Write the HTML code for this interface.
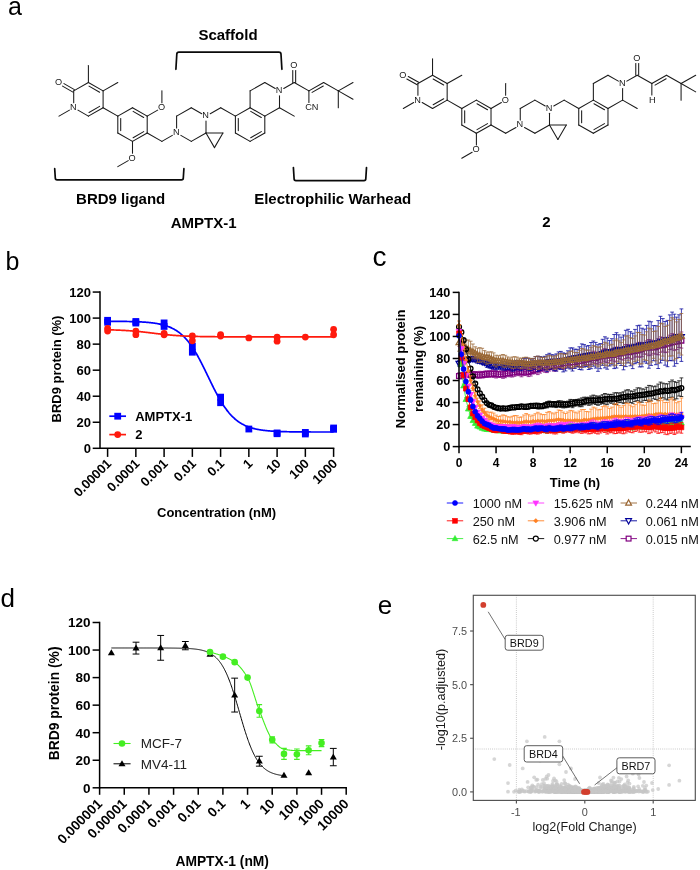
<!DOCTYPE html>
<html><head><meta charset="utf-8"><title>Figure</title>
<style>html,body{margin:0;padding:0;background:#fff;}svg{display:block;will-change:transform;}text{font-family:"Liberation Sans",sans-serif;}</style></head><body>
<svg width="700" height="870" viewBox="0 0 700 870">
<rect x="0" y="0" width="700" height="870" fill="#ffffff"/>
<text x="8.10" y="14.70" font-size="25" text-anchor="start" fill="#000" >a</text>
<g stroke="#1a1a1a" stroke-width="1.05" stroke-linecap="round" fill="none">
<line x1="73.70" y1="90.86" x2="88.40" y2="82.44"/>
<line x1="88.40" y1="82.44" x2="103.10" y2="90.86"/>
<line x1="103.10" y1="90.86" x2="103.10" y2="107.70"/>
<line x1="103.10" y1="107.70" x2="88.40" y2="116.12"/>
<line x1="88.40" y1="116.12" x2="77.95" y2="110.14"/>
<line x1="73.70" y1="102.80" x2="73.70" y2="90.86"/>
<line x1="69.45" y1="110.14" x2="59.00" y2="116.12"/>
<line x1="88.40" y1="82.44" x2="88.40" y2="65.60"/>
<line x1="103.10" y1="90.86" x2="117.80" y2="82.44"/>
<line x1="103.10" y1="107.70" x2="117.80" y2="116.12"/>
<line x1="117.80" y1="116.12" x2="132.50" y2="107.70"/>
<line x1="132.50" y1="107.70" x2="147.20" y2="116.12"/>
<line x1="147.20" y1="116.12" x2="147.20" y2="132.96"/>
<line x1="147.20" y1="132.96" x2="132.50" y2="141.38"/>
<line x1="132.50" y1="141.38" x2="117.80" y2="132.96"/>
<line x1="117.80" y1="132.96" x2="117.80" y2="116.12"/>
<line x1="147.20" y1="116.12" x2="157.65" y2="110.14"/>
<line x1="161.90" y1="102.80" x2="161.90" y2="90.86"/>
<line x1="132.50" y1="141.38" x2="132.50" y2="153.32"/>
<line x1="128.25" y1="160.66" x2="117.80" y2="166.64"/>
<line x1="147.20" y1="132.96" x2="161.90" y2="141.38"/>
<line x1="161.90" y1="141.38" x2="172.35" y2="135.40"/>
<line x1="176.60" y1="128.06" x2="176.60" y2="116.12"/>
<line x1="176.60" y1="116.12" x2="191.30" y2="107.70"/>
<line x1="191.30" y1="107.70" x2="201.75" y2="113.68"/>
<line x1="206.00" y1="121.02" x2="206.00" y2="132.96"/>
<line x1="206.00" y1="132.96" x2="191.30" y2="141.38"/>
<line x1="191.30" y1="141.38" x2="180.85" y2="135.40"/>
<line x1="206.00" y1="132.96" x2="222.94" y2="132.96"/>
<line x1="222.94" y1="132.96" x2="214.47" y2="147.63"/>
<line x1="214.47" y1="147.63" x2="206.00" y2="132.96"/>
<line x1="210.25" y1="113.68" x2="220.70" y2="107.70"/>
<line x1="220.70" y1="107.70" x2="235.40" y2="116.12"/>
<line x1="235.40" y1="116.12" x2="250.10" y2="107.70"/>
<line x1="250.10" y1="107.70" x2="264.80" y2="116.12"/>
<line x1="264.80" y1="116.12" x2="264.80" y2="132.96"/>
<line x1="264.80" y1="132.96" x2="250.10" y2="141.38"/>
<line x1="250.10" y1="141.38" x2="235.40" y2="132.96"/>
<line x1="235.40" y1="132.96" x2="235.40" y2="116.12"/>
<line x1="250.10" y1="107.70" x2="250.10" y2="90.86"/>
<line x1="250.10" y1="90.86" x2="264.80" y2="82.44"/>
<line x1="264.80" y1="82.44" x2="275.25" y2="88.42"/>
<line x1="279.50" y1="95.76" x2="279.50" y2="107.70"/>
<line x1="279.50" y1="107.70" x2="264.80" y2="116.12"/>
<line x1="279.50" y1="107.70" x2="294.20" y2="116.12"/>
<line x1="283.75" y1="88.42" x2="294.20" y2="82.44"/>
<line x1="294.20" y1="82.44" x2="308.90" y2="90.86"/>
<line x1="308.90" y1="90.86" x2="323.60" y2="82.44"/>
<line x1="323.60" y1="82.44" x2="338.30" y2="90.86"/>
<line x1="338.30" y1="90.86" x2="353.00" y2="82.44"/>
<line x1="338.30" y1="90.86" x2="353.00" y2="99.28"/>
<line x1="338.30" y1="90.86" x2="338.30" y2="107.70"/>
<line x1="308.90" y1="90.86" x2="308.90" y2="102.50"/>
<line x1="89.02" y1="86.14" x2="99.60" y2="92.20"/>
<line x1="99.60" y1="106.36" x2="89.02" y2="112.42"/>
<line x1="133.12" y1="111.40" x2="143.70" y2="117.46"/>
<line x1="143.70" y1="131.62" x2="133.12" y2="137.68"/>
<line x1="120.70" y1="130.60" x2="120.70" y2="118.48"/>
<line x1="250.72" y1="111.40" x2="261.30" y2="117.46"/>
<line x1="261.30" y1="131.62" x2="250.72" y2="137.68"/>
<line x1="238.30" y1="130.60" x2="238.30" y2="118.48"/>
<line x1="312.11" y1="92.37" x2="323.28" y2="85.97"/>
<line x1="74.42" y1="89.60" x2="63.97" y2="83.62"/>
<line x1="72.98" y1="92.12" x2="62.53" y2="86.13"/>
<line x1="295.65" y1="82.44" x2="295.65" y2="70.50"/>
<line x1="292.75" y1="82.44" x2="292.75" y2="70.50"/>
</g>
<text x="58.60" y="84.79" font-size="9.2" text-anchor="middle" fill="#1a1a1a" >O</text>
<text x="73.30" y="110.05" font-size="9.2" text-anchor="middle" fill="#1a1a1a" >N</text>
<text x="161.50" y="110.05" font-size="9.2" text-anchor="middle" fill="#1a1a1a" >O</text>
<text x="132.10" y="160.57" font-size="9.2" text-anchor="middle" fill="#1a1a1a" >O</text>
<text x="176.20" y="135.31" font-size="9.2" text-anchor="middle" fill="#1a1a1a" >N</text>
<text x="205.60" y="118.47" font-size="9.2" text-anchor="middle" fill="#1a1a1a" >N</text>
<text x="279.10" y="93.21" font-size="9.2" text-anchor="middle" fill="#1a1a1a" >N</text>
<text x="293.80" y="67.95" font-size="9.2" text-anchor="middle" fill="#1a1a1a" >O</text>
<text x="311.70" y="110.30" font-size="9.2" text-anchor="middle" fill="#1a1a1a" letter-spacing="-0.2">CN</text>
<g stroke="#1a1a1a" stroke-width="1.05" stroke-linecap="round" fill="none">
<line x1="417.92" y1="83.57" x2="432.54" y2="75.28"/>
<line x1="432.54" y1="75.28" x2="447.16" y2="83.57"/>
<line x1="447.16" y1="83.57" x2="447.16" y2="100.15"/>
<line x1="447.16" y1="100.15" x2="432.54" y2="108.44"/>
<line x1="432.54" y1="108.44" x2="422.18" y2="102.57"/>
<line x1="417.92" y1="95.25" x2="417.92" y2="83.57"/>
<line x1="413.66" y1="102.57" x2="403.30" y2="108.44"/>
<line x1="432.54" y1="75.28" x2="432.54" y2="58.70"/>
<line x1="447.16" y1="83.57" x2="461.78" y2="75.28"/>
<line x1="447.16" y1="100.15" x2="461.78" y2="108.44"/>
<line x1="461.78" y1="108.44" x2="476.40" y2="100.15"/>
<line x1="476.40" y1="100.15" x2="491.02" y2="108.44"/>
<line x1="491.02" y1="108.44" x2="491.02" y2="125.02"/>
<line x1="491.02" y1="125.02" x2="476.40" y2="133.31"/>
<line x1="476.40" y1="133.31" x2="461.78" y2="125.02"/>
<line x1="461.78" y1="125.02" x2="461.78" y2="108.44"/>
<line x1="491.02" y1="108.44" x2="501.38" y2="102.57"/>
<line x1="505.64" y1="95.25" x2="505.64" y2="83.57"/>
<line x1="476.40" y1="133.31" x2="476.40" y2="144.99"/>
<line x1="472.14" y1="152.31" x2="461.78" y2="158.18"/>
<line x1="491.02" y1="125.02" x2="505.64" y2="133.31"/>
<line x1="505.64" y1="133.31" x2="516.00" y2="127.44"/>
<line x1="520.26" y1="120.12" x2="520.26" y2="108.44"/>
<line x1="520.26" y1="108.44" x2="534.88" y2="100.15"/>
<line x1="534.88" y1="100.15" x2="545.24" y2="106.02"/>
<line x1="549.50" y1="113.34" x2="549.50" y2="125.02"/>
<line x1="549.50" y1="125.02" x2="534.88" y2="133.31"/>
<line x1="534.88" y1="133.31" x2="524.52" y2="127.44"/>
<line x1="549.50" y1="125.02" x2="566.31" y2="125.02"/>
<line x1="566.31" y1="125.02" x2="557.90" y2="139.57"/>
<line x1="557.90" y1="139.57" x2="549.50" y2="125.02"/>
<line x1="553.76" y1="106.02" x2="564.12" y2="100.15"/>
<line x1="564.12" y1="100.15" x2="578.74" y2="108.44"/>
<line x1="578.74" y1="108.44" x2="593.36" y2="100.15"/>
<line x1="593.36" y1="100.15" x2="607.98" y2="108.44"/>
<line x1="607.98" y1="108.44" x2="607.98" y2="125.02"/>
<line x1="607.98" y1="125.02" x2="593.36" y2="133.31"/>
<line x1="593.36" y1="133.31" x2="578.74" y2="125.02"/>
<line x1="578.74" y1="125.02" x2="578.74" y2="108.44"/>
<line x1="593.36" y1="100.15" x2="593.36" y2="83.57"/>
<line x1="593.36" y1="83.57" x2="607.98" y2="75.28"/>
<line x1="607.98" y1="75.28" x2="618.34" y2="81.15"/>
<line x1="622.60" y1="88.47" x2="622.60" y2="100.15"/>
<line x1="622.60" y1="100.15" x2="607.98" y2="108.44"/>
<line x1="622.60" y1="100.15" x2="637.22" y2="108.44"/>
<line x1="626.86" y1="81.15" x2="637.22" y2="75.28"/>
<line x1="637.22" y1="75.28" x2="651.84" y2="83.57"/>
<line x1="651.84" y1="83.57" x2="666.46" y2="75.28"/>
<line x1="666.46" y1="75.28" x2="681.08" y2="83.57"/>
<line x1="681.08" y1="83.57" x2="695.70" y2="75.28"/>
<line x1="681.08" y1="83.57" x2="695.70" y2="91.86"/>
<line x1="681.08" y1="83.57" x2="681.08" y2="100.15"/>
<line x1="651.84" y1="83.57" x2="651.84" y2="94.95"/>
<line x1="433.16" y1="78.96" x2="443.68" y2="84.93"/>
<line x1="443.68" y1="98.79" x2="433.16" y2="104.76"/>
<line x1="477.02" y1="103.83" x2="487.54" y2="109.80"/>
<line x1="487.54" y1="123.66" x2="477.02" y2="129.63"/>
<line x1="464.68" y1="122.70" x2="464.68" y2="110.76"/>
<line x1="593.98" y1="103.83" x2="604.50" y2="109.80"/>
<line x1="604.50" y1="123.66" x2="593.98" y2="129.63"/>
<line x1="581.64" y1="122.70" x2="581.64" y2="110.76"/>
<line x1="655.02" y1="85.10" x2="666.14" y2="78.80"/>
<line x1="418.64" y1="82.31" x2="408.28" y2="76.44"/>
<line x1="417.20" y1="84.83" x2="406.85" y2="78.96"/>
<line x1="638.67" y1="75.28" x2="638.67" y2="63.60"/>
<line x1="635.77" y1="75.28" x2="635.77" y2="63.60"/>
</g>
<text x="402.90" y="77.63" font-size="9.2" text-anchor="middle" fill="#1a1a1a" >O</text>
<text x="417.52" y="102.50" font-size="9.2" text-anchor="middle" fill="#1a1a1a" >N</text>
<text x="505.24" y="102.50" font-size="9.2" text-anchor="middle" fill="#1a1a1a" >O</text>
<text x="476.00" y="152.24" font-size="9.2" text-anchor="middle" fill="#1a1a1a" >O</text>
<text x="519.86" y="127.37" font-size="9.2" text-anchor="middle" fill="#1a1a1a" >N</text>
<text x="549.10" y="110.79" font-size="9.2" text-anchor="middle" fill="#1a1a1a" >N</text>
<text x="622.20" y="85.92" font-size="9.2" text-anchor="middle" fill="#1a1a1a" >N</text>
<text x="636.82" y="61.05" font-size="9.2" text-anchor="middle" fill="#1a1a1a" >O</text>
<text x="652.14" y="102.75" font-size="9.2" text-anchor="middle" fill="#1a1a1a" letter-spacing="-0.2">H</text>
<path d="M175.90,69.30 L176.80,54.30 Q176.80,52.10 179.00,52.10 L278.80,52.10 Q281.00,52.10 281.00,54.30 L281.90,69.30" fill="none" stroke="#0a0a0a" stroke-width="1.7" stroke-linecap="round" stroke-linejoin="round"/>
<path d="M54.70,168.70 L55.30,178.00 Q55.30,179.80 57.10,179.80 L181.50,179.80 Q183.30,179.80 183.30,178.00 L183.90,168.70" fill="none" stroke="#0a0a0a" stroke-width="1.7" stroke-linecap="round" stroke-linejoin="round"/>
<path d="M293.40,167.60 L294.10,178.80 Q294.10,180.60 295.90,180.60 L364.00,180.60 Q365.80,180.60 365.80,178.80 L366.50,167.60" fill="none" stroke="#0a0a0a" stroke-width="1.7" stroke-linecap="round" stroke-linejoin="round"/>
<text x="228.00" y="40.20" font-size="15" font-weight="bold" text-anchor="middle" fill="#000" >Scaffold</text>
<text x="120.70" y="204.20" font-size="15" font-weight="bold" text-anchor="middle" fill="#000" >BRD9 ligand</text>
<text x="254.20" y="204.40" font-size="15" font-weight="bold" text-anchor="start" fill="#000" >Electrophilic Warhead</text>
<text x="203.70" y="227.90" font-size="15" font-weight="bold" text-anchor="middle" fill="#000" >AMPTX-1</text>
<text x="546.40" y="227.30" font-size="15" font-weight="bold" text-anchor="middle" fill="#000" >2</text>
<text x="5.40" y="270.10" font-size="25" text-anchor="start" fill="#000" >b</text>
<polyline points="107.60,321.28 108.16,321.29 108.73,321.29 109.29,321.29 109.86,321.29 110.42,321.30 110.99,321.30 111.55,321.30 112.12,321.31 112.68,321.31 113.25,321.31 113.81,321.32 114.38,321.32 114.94,321.33 115.51,321.33 116.07,321.34 116.64,321.34 117.20,321.35 117.77,321.35 118.33,321.36 118.90,321.36 119.46,321.37 120.03,321.37 120.59,321.38 121.16,321.39 121.72,321.39 122.29,321.40 122.85,321.41 123.42,321.42 123.98,321.43 124.55,321.43 125.11,321.44 125.68,321.45 126.25,321.46 126.81,321.47 127.38,321.48 127.94,321.50 128.50,321.51 129.07,321.52 129.63,321.53 130.20,321.54 130.76,321.56 131.33,321.57 131.90,321.59 132.46,321.60 133.03,321.62 133.59,321.64 134.15,321.65 134.72,321.67 135.28,321.69 135.85,321.71 136.41,321.73 136.98,321.76 137.54,321.78 138.11,321.80 138.68,321.83 139.24,321.85 139.80,321.88 140.37,321.91 140.94,321.94 141.50,321.97 142.06,322.00 142.63,322.03 143.19,322.07 143.76,322.11 144.32,322.14 144.89,322.18 145.45,322.22 146.02,322.27 146.58,322.31 147.15,322.36 147.71,322.41 148.28,322.46 148.84,322.51 149.41,322.56 149.97,322.62 150.54,322.68 151.10,322.74 151.67,322.81 152.24,322.88 152.80,322.95 153.37,323.02 153.93,323.10 154.50,323.17 155.06,323.26 155.62,323.34 156.19,323.43 156.75,323.53 157.32,323.62 157.88,323.73 158.45,323.83 159.01,323.94 159.58,324.06 160.15,324.18 160.71,324.30 161.27,324.43 161.84,324.56 162.41,324.70 162.97,324.85 163.53,325.00 164.10,325.16 164.66,325.32 165.23,325.49 165.79,325.67 166.36,325.85 166.93,326.05 167.49,326.25 168.06,326.45 168.62,326.67 169.19,326.89 169.75,327.12 170.31,327.36 170.88,327.62 171.44,327.88 172.01,328.15 172.57,328.43 173.14,328.72 173.70,329.02 174.27,329.33 174.83,329.65 175.40,329.99 175.96,330.34 176.53,330.70 177.09,331.07 177.66,331.46 178.22,331.86 178.79,332.27 179.35,332.70 179.92,333.15 180.49,333.60 181.05,334.08 181.62,334.57 182.18,335.07 182.75,335.59 183.31,336.13 183.88,336.69 184.44,337.26 185.00,337.85 185.57,338.46 186.13,339.08 186.70,339.73 187.26,340.39 187.83,341.07 188.39,341.77 188.96,342.49 189.52,343.22 190.09,343.98 190.65,344.76 191.22,345.55 191.78,346.36 192.35,347.20 192.91,348.05 193.48,348.92 194.05,349.81 194.61,350.72 195.18,351.64 195.74,352.59 196.31,353.55 196.87,354.53 197.44,355.52 198.00,356.53 198.56,357.56 199.13,358.60 199.69,359.66 200.26,360.73 200.82,361.81 201.39,362.91 201.95,364.02 202.52,365.13 203.08,366.26 203.65,367.40 204.21,368.54 204.78,369.70 205.34,370.85 205.91,372.02 206.47,373.18 207.04,374.35 207.60,375.53 208.17,376.70 208.74,377.87 209.30,379.05 209.87,380.22 210.43,381.38 211.00,382.55 211.56,383.70 212.12,384.85 212.69,386.00 213.25,387.13 213.82,388.26 214.38,389.38 214.95,390.48 215.51,391.58 216.08,392.66 216.64,393.73 217.21,394.78 217.77,395.82 218.34,396.85 218.90,397.86 219.47,398.85 220.03,399.83 220.60,400.79 221.16,401.73 221.73,402.65 222.29,403.56 222.86,404.44 223.42,405.31 223.99,406.16 224.55,406.99 225.12,407.80 225.69,408.59 226.25,409.37 226.81,410.12 227.38,410.86 227.94,411.57 228.51,412.27 229.07,412.95 229.64,413.61 230.20,414.25 230.77,414.87 231.33,415.48 231.90,416.07 232.46,416.64 233.03,417.19 233.59,417.72 234.16,418.24 234.72,418.75 235.29,419.23 235.85,419.71 236.42,420.16 236.98,420.60 237.55,421.03 238.12,421.44 238.68,421.84 239.25,422.23 239.81,422.60 240.38,422.96 240.94,423.30 241.50,423.64 242.07,423.96 242.63,424.27 243.20,424.57 243.77,424.86 244.33,425.14 244.90,425.41 245.46,425.67 246.03,425.92 246.59,426.16 247.16,426.39 247.72,426.61 248.28,426.82 248.85,427.03 249.41,427.23 249.98,427.42 250.54,427.60 251.11,427.78 251.67,427.95 252.24,428.11 252.80,428.27 253.37,428.42 253.93,428.56 254.50,428.70 255.06,428.84 255.63,428.97 256.19,429.09 256.76,429.21 257.32,429.32 257.89,429.43 258.45,429.54 259.02,429.64 259.58,429.73 260.15,429.83 260.72,429.92 261.28,430.00 261.85,430.09 262.41,430.16 262.98,430.24 263.54,430.31 264.11,430.38 264.67,430.45 265.24,430.51 265.80,430.58 266.37,430.64 266.93,430.69 267.50,430.75 268.06,430.80 268.62,430.85 269.19,430.90 269.75,430.94 270.32,430.99 270.88,431.03 271.45,431.07 272.01,431.11 272.58,431.15 273.14,431.19 273.71,431.22 274.27,431.25 274.84,431.28 275.40,431.32 275.97,431.34 276.53,431.37 277.10,431.40 277.66,431.43 278.23,431.45 278.79,431.47 279.36,431.50 279.92,431.52 280.49,431.54 281.05,431.56 281.62,431.58 282.18,431.60 282.75,431.61 283.31,431.63 283.88,431.65 284.44,431.66 285.01,431.68 285.57,431.69 286.14,431.71 286.70,431.72 287.27,431.73 287.83,431.74 288.40,431.76 288.97,431.77 289.53,431.78 290.10,431.79 290.66,431.80 291.23,431.81 291.79,431.82 292.36,431.83 292.92,431.83 293.49,431.84 294.05,431.85 294.62,431.86 295.18,431.86 295.75,431.87 296.31,431.88 296.88,431.88 297.44,431.89 298.00,431.89 298.57,431.90 299.13,431.90 299.70,431.91 300.26,431.91 300.83,431.92 301.39,431.92 301.96,431.93 302.52,431.93 303.09,431.94 303.65,431.94 304.22,431.94 304.78,431.95 305.35,431.95 305.91,431.95 306.48,431.96 307.04,431.96 307.61,431.96 308.17,431.96 308.74,431.97 309.30,431.97 309.87,431.97 310.43,431.97 311.00,431.98 311.56,431.98 312.13,431.98 312.69,431.98 313.26,431.98 313.82,431.98 314.39,431.99 314.95,431.99 315.52,431.99 316.08,431.99 316.65,431.99 317.22,431.99 317.78,432.00 318.35,432.00 318.91,432.00 319.48,432.00 320.04,432.00 320.61,432.00 321.17,432.00 321.74,432.00 322.30,432.00 322.87,432.00 323.43,432.01 324.00,432.01 324.56,432.01 325.12,432.01 325.69,432.01 326.25,432.01 326.82,432.01 327.38,432.01 327.95,432.01 328.51,432.01 329.08,432.01 329.64,432.01 330.21,432.01 330.77,432.01 331.34,432.01 331.90,432.01 332.47,432.02 333.03,432.02 333.60,432.02" fill="none" stroke="#0000ff" stroke-width="1.7" stroke-linejoin="round"/>
<polyline points="107.60,329.80 108.16,329.81 108.73,329.82 109.29,329.84 109.86,329.85 110.42,329.87 110.99,329.88 111.55,329.90 112.12,329.91 112.68,329.93 113.25,329.95 113.81,329.97 114.38,329.99 114.94,330.01 115.51,330.02 116.07,330.05 116.64,330.07 117.20,330.09 117.77,330.11 118.33,330.13 118.90,330.16 119.46,330.18 120.03,330.21 120.59,330.23 121.16,330.26 121.72,330.29 122.29,330.32 122.85,330.35 123.42,330.38 123.98,330.41 124.55,330.44 125.11,330.47 125.68,330.51 126.25,330.54 126.81,330.58 127.38,330.61 127.94,330.65 128.50,330.69 129.07,330.73 129.63,330.77 130.20,330.81 130.76,330.85 131.33,330.89 131.90,330.93 132.46,330.98 133.03,331.03 133.59,331.07 134.15,331.12 134.72,331.17 135.28,331.22 135.85,331.27 136.41,331.32 136.98,331.37 137.54,331.43 138.11,331.48 138.68,331.53 139.24,331.59 139.80,331.65 140.37,331.71 140.94,331.76 141.50,331.82 142.06,331.88 142.63,331.94 143.19,332.01 143.76,332.07 144.32,332.13 144.89,332.20 145.45,332.26 146.02,332.32 146.58,332.39 147.15,332.46 147.71,332.52 148.28,332.59 148.84,332.66 149.41,332.72 149.97,332.79 150.54,332.86 151.10,332.93 151.67,332.99 152.24,333.06 152.80,333.13 153.37,333.20 153.93,333.27 154.50,333.34 155.06,333.40 155.62,333.47 156.19,333.54 156.75,333.61 157.32,333.67 157.88,333.74 158.45,333.81 159.01,333.87 159.58,333.94 160.15,334.00 160.71,334.07 161.27,334.13 161.84,334.19 162.41,334.26 162.97,334.32 163.53,334.38 164.10,334.44 164.66,334.50 165.23,334.56 165.79,334.62 166.36,334.67 166.93,334.73 167.49,334.79 168.06,334.84 168.62,334.89 169.19,334.95 169.75,335.00 170.31,335.05 170.88,335.10 171.44,335.15 172.01,335.19 172.57,335.24 173.14,335.29 173.70,335.33 174.27,335.38 174.83,335.42 175.40,335.46 175.96,335.50 176.53,335.54 177.09,335.58 177.66,335.62 178.22,335.66 178.79,335.69 179.35,335.73 179.92,335.76 180.49,335.80 181.05,335.83 181.62,335.86 182.18,335.89 182.75,335.92 183.31,335.95 183.88,335.98 184.44,336.01 185.00,336.04 185.57,336.06 186.13,336.09 186.70,336.11 187.26,336.14 187.83,336.16 188.39,336.18 188.96,336.21 189.52,336.23 190.09,336.25 190.65,336.27 191.22,336.29 191.78,336.31 192.35,336.32 192.91,336.34 193.48,336.36 194.05,336.38 194.61,336.39 195.18,336.41 195.74,336.42 196.31,336.44 196.87,336.45 197.44,336.46 198.00,336.48 198.56,336.49 199.13,336.50 199.69,336.51 200.26,336.53 200.82,336.54 201.39,336.55 201.95,336.56 202.52,336.57 203.08,336.58 203.65,336.59 204.21,336.60 204.78,336.61 205.34,336.61 205.91,336.62 206.47,336.63 207.04,336.64 207.60,336.65 208.17,336.65 208.74,336.66 209.30,336.67 209.87,336.67 210.43,336.68 211.00,336.68 211.56,336.69 212.12,336.70 212.69,336.70 213.25,336.71 213.82,336.71 214.38,336.72 214.95,336.72 215.51,336.73 216.08,336.73 216.64,336.73 217.21,336.74 217.77,336.74 218.34,336.75 218.90,336.75 219.47,336.75 220.03,336.76 220.60,336.76 221.16,336.76 221.73,336.77 222.29,336.77 222.86,336.77 223.42,336.78 223.99,336.78 224.55,336.78 225.12,336.78 225.69,336.79 226.25,336.79 226.81,336.79 227.38,336.79 227.94,336.79 228.51,336.80 229.07,336.80 229.64,336.80 230.20,336.80 230.77,336.80 231.33,336.80 231.90,336.81 232.46,336.81 233.03,336.81 233.59,336.81 234.16,336.81 234.72,336.81 235.29,336.81 235.85,336.82 236.42,336.82 236.98,336.82 237.55,336.82 238.12,336.82 238.68,336.82 239.25,336.82 239.81,336.82 240.38,336.82 240.94,336.83 241.50,336.83 242.07,336.83 242.63,336.83 243.20,336.83 243.77,336.83 244.33,336.83 244.90,336.83 245.46,336.83 246.03,336.83 246.59,336.83 247.16,336.83 247.72,336.83 248.28,336.83 248.85,336.83 249.41,336.84 249.98,336.84 250.54,336.84 251.11,336.84 251.67,336.84 252.24,336.84 252.80,336.84 253.37,336.84 253.93,336.84 254.50,336.84 255.06,336.84 255.63,336.84 256.19,336.84 256.76,336.84 257.32,336.84 257.89,336.84 258.45,336.84 259.02,336.84 259.58,336.84 260.15,336.84 260.72,336.84 261.28,336.84 261.85,336.84 262.41,336.84 262.98,336.84 263.54,336.84 264.11,336.84 264.67,336.84 265.24,336.84 265.80,336.84 266.37,336.84 266.93,336.84 267.50,336.84 268.06,336.84 268.62,336.84 269.19,336.85 269.75,336.85 270.32,336.85 270.88,336.85 271.45,336.85 272.01,336.85 272.58,336.85 273.14,336.85 273.71,336.85 274.27,336.85 274.84,336.85 275.40,336.85 275.97,336.85 276.53,336.85 277.10,336.85 277.66,336.85 278.23,336.85 278.79,336.85 279.36,336.85 279.92,336.85 280.49,336.85 281.05,336.85 281.62,336.85 282.18,336.85 282.75,336.85 283.31,336.85 283.88,336.85 284.44,336.85 285.01,336.85 285.57,336.85 286.14,336.85 286.70,336.85 287.27,336.85 287.83,336.85 288.40,336.85 288.97,336.85 289.53,336.85 290.10,336.85 290.66,336.85 291.23,336.85 291.79,336.85 292.36,336.85 292.92,336.85 293.49,336.85 294.05,336.85 294.62,336.85 295.18,336.85 295.75,336.85 296.31,336.85 296.88,336.85 297.44,336.85 298.00,336.85 298.57,336.85 299.13,336.85 299.70,336.85 300.26,336.85 300.83,336.85 301.39,336.85 301.96,336.85 302.52,336.85 303.09,336.85 303.65,336.85 304.22,336.85 304.78,336.85 305.35,336.85 305.91,336.85 306.48,336.85 307.04,336.85 307.61,336.85 308.17,336.85 308.74,336.85 309.30,336.85 309.87,336.85 310.43,336.85 311.00,336.85 311.56,336.85 312.13,336.85 312.69,336.85 313.26,336.85 313.82,336.85 314.39,336.85 314.95,336.85 315.52,336.85 316.08,336.85 316.65,336.85 317.22,336.85 317.78,336.85 318.35,336.85 318.91,336.85 319.48,336.85 320.04,336.85 320.61,336.85 321.17,336.85 321.74,336.85 322.30,336.85 322.87,336.85 323.43,336.85 324.00,336.85 324.56,336.85 325.12,336.85 325.69,336.85 326.25,336.85 326.82,336.85 327.38,336.85 327.95,336.85 328.51,336.85 329.08,336.85 329.64,336.85 330.21,336.85 330.77,336.85 331.34,336.85 331.90,336.85 332.47,336.85 333.03,336.85 333.60,336.85" fill="none" stroke="#ff1a0d" stroke-width="1.7" stroke-linejoin="round"/>
<rect x="104.20" y="316.91" width="6.8" height="6.8" fill="#0000ff"/>
<rect x="104.20" y="318.87" width="6.8" height="6.8" fill="#0000ff"/>
<rect x="132.45" y="318.09" width="6.8" height="6.8" fill="#0000ff"/>
<rect x="132.45" y="319.65" width="6.8" height="6.8" fill="#0000ff"/>
<rect x="160.70" y="319.52" width="6.8" height="6.8" fill="#0000ff"/>
<rect x="160.70" y="323.03" width="6.8" height="6.8" fill="#0000ff"/>
<rect x="188.95" y="342.95" width="6.8" height="6.8" fill="#0000ff"/>
<rect x="188.95" y="348.81" width="6.8" height="6.8" fill="#0000ff"/>
<rect x="217.20" y="393.73" width="6.8" height="6.8" fill="#0000ff"/>
<rect x="217.20" y="399.33" width="6.8" height="6.8" fill="#0000ff"/>
<rect x="245.45" y="425.63" width="6.8" height="6.8" fill="#0000ff"/>
<rect x="273.70" y="429.54" width="6.8" height="6.8" fill="#0000ff"/>
<rect x="273.70" y="430.32" width="6.8" height="6.8" fill="#0000ff"/>
<rect x="301.95" y="429.02" width="6.8" height="6.8" fill="#0000ff"/>
<rect x="301.95" y="430.58" width="6.8" height="6.8" fill="#0000ff"/>
<rect x="330.20" y="424.59" width="6.8" height="6.8" fill="#0000ff"/>
<rect x="330.20" y="425.89" width="6.8" height="6.8" fill="#0000ff"/>
<circle cx="107.60" cy="328.52" r="3.4" fill="#ff1a0d"/>
<circle cx="107.60" cy="331.12" r="3.4" fill="#ff1a0d"/>
<circle cx="135.85" cy="331.12" r="3.4" fill="#ff1a0d"/>
<circle cx="135.85" cy="334.64" r="3.4" fill="#ff1a0d"/>
<circle cx="164.10" cy="333.33" r="3.4" fill="#ff1a0d"/>
<circle cx="164.10" cy="334.77" r="3.4" fill="#ff1a0d"/>
<circle cx="192.35" cy="335.94" r="3.4" fill="#ff1a0d"/>
<circle cx="192.35" cy="340.75" r="3.4" fill="#ff1a0d"/>
<circle cx="220.60" cy="334.77" r="3.4" fill="#ff1a0d"/>
<circle cx="220.60" cy="336.07" r="3.4" fill="#ff1a0d"/>
<circle cx="248.85" cy="337.89" r="3.4" fill="#ff1a0d"/>
<circle cx="277.10" cy="337.24" r="3.4" fill="#ff1a0d"/>
<circle cx="277.10" cy="341.15" r="3.4" fill="#ff1a0d"/>
<circle cx="305.35" cy="337.11" r="3.4" fill="#ff1a0d"/>
<circle cx="333.60" cy="329.30" r="3.4" fill="#ff1a0d"/>
<circle cx="333.60" cy="334.77" r="3.4" fill="#ff1a0d"/>
<line x1="100.00" y1="291.31" x2="100.00" y2="449.05" stroke="#000" stroke-width="1.5" stroke-linecap="butt"/>
<line x1="100.00" y1="448.30" x2="334.35" y2="448.30" stroke="#000" stroke-width="1.5" stroke-linecap="butt"/>
<line x1="92.70" y1="448.30" x2="100.00" y2="448.30" stroke="#000" stroke-width="1.5" stroke-linecap="butt"/>
<text x="91.00" y="453.00" font-size="13" font-weight="bold" text-anchor="end" fill="#000" >0</text>
<line x1="92.70" y1="422.26" x2="100.00" y2="422.26" stroke="#000" stroke-width="1.5" stroke-linecap="butt"/>
<text x="91.00" y="426.96" font-size="13" font-weight="bold" text-anchor="end" fill="#000" >20</text>
<line x1="92.70" y1="396.22" x2="100.00" y2="396.22" stroke="#000" stroke-width="1.5" stroke-linecap="butt"/>
<text x="91.00" y="400.92" font-size="13" font-weight="bold" text-anchor="end" fill="#000" >40</text>
<line x1="92.70" y1="370.18" x2="100.00" y2="370.18" stroke="#000" stroke-width="1.5" stroke-linecap="butt"/>
<text x="91.00" y="374.88" font-size="13" font-weight="bold" text-anchor="end" fill="#000" >60</text>
<line x1="92.70" y1="344.14" x2="100.00" y2="344.14" stroke="#000" stroke-width="1.5" stroke-linecap="butt"/>
<text x="91.00" y="348.84" font-size="13" font-weight="bold" text-anchor="end" fill="#000" >80</text>
<line x1="92.70" y1="318.10" x2="100.00" y2="318.10" stroke="#000" stroke-width="1.5" stroke-linecap="butt"/>
<text x="91.00" y="322.80" font-size="13" font-weight="bold" text-anchor="end" fill="#000" >100</text>
<line x1="92.70" y1="292.06" x2="100.00" y2="292.06" stroke="#000" stroke-width="1.5" stroke-linecap="butt"/>
<text x="91.00" y="296.76" font-size="13" font-weight="bold" text-anchor="end" fill="#000" >120</text>
<line x1="107.60" y1="448.30" x2="107.60" y2="456.90" stroke="#000" stroke-width="1.5" stroke-linecap="butt"/>
<text x="112.20" y="464.30" font-size="13" font-weight="bold" text-anchor="end" fill="#000" transform="rotate(-45 112.20 464.30)" >0.00001</text>
<line x1="135.85" y1="448.30" x2="135.85" y2="456.90" stroke="#000" stroke-width="1.5" stroke-linecap="butt"/>
<text x="140.45" y="464.30" font-size="13" font-weight="bold" text-anchor="end" fill="#000" transform="rotate(-45 140.45 464.30)" >0.0001</text>
<line x1="164.10" y1="448.30" x2="164.10" y2="456.90" stroke="#000" stroke-width="1.5" stroke-linecap="butt"/>
<text x="168.70" y="464.30" font-size="13" font-weight="bold" text-anchor="end" fill="#000" transform="rotate(-45 168.70 464.30)" >0.001</text>
<line x1="192.35" y1="448.30" x2="192.35" y2="456.90" stroke="#000" stroke-width="1.5" stroke-linecap="butt"/>
<text x="196.95" y="464.30" font-size="13" font-weight="bold" text-anchor="end" fill="#000" transform="rotate(-45 196.95 464.30)" >0.01</text>
<line x1="220.60" y1="448.30" x2="220.60" y2="456.90" stroke="#000" stroke-width="1.5" stroke-linecap="butt"/>
<text x="225.20" y="464.30" font-size="13" font-weight="bold" text-anchor="end" fill="#000" transform="rotate(-45 225.20 464.30)" >0.1</text>
<line x1="248.85" y1="448.30" x2="248.85" y2="456.90" stroke="#000" stroke-width="1.5" stroke-linecap="butt"/>
<text x="253.45" y="464.30" font-size="13" font-weight="bold" text-anchor="end" fill="#000" transform="rotate(-45 253.45 464.30)" >1</text>
<line x1="277.10" y1="448.30" x2="277.10" y2="456.90" stroke="#000" stroke-width="1.5" stroke-linecap="butt"/>
<text x="281.70" y="464.30" font-size="13" font-weight="bold" text-anchor="end" fill="#000" transform="rotate(-45 281.70 464.30)" >10</text>
<line x1="305.35" y1="448.30" x2="305.35" y2="456.90" stroke="#000" stroke-width="1.5" stroke-linecap="butt"/>
<text x="309.95" y="464.30" font-size="13" font-weight="bold" text-anchor="end" fill="#000" transform="rotate(-45 309.95 464.30)" >100</text>
<line x1="333.60" y1="448.30" x2="333.60" y2="456.90" stroke="#000" stroke-width="1.5" stroke-linecap="butt"/>
<text x="338.20" y="464.30" font-size="13" font-weight="bold" text-anchor="end" fill="#000" transform="rotate(-45 338.20 464.30)" >1000</text>
<text x="61.40" y="369.00" font-size="13" font-weight="bold" text-anchor="middle" fill="#000" transform="rotate(-90 61.40 369.00)" >BRD9 protein (%)</text>
<text x="216.60" y="517.20" font-size="13" font-weight="bold" text-anchor="middle" fill="#000" >Concentration (nM)</text>
<line x1="109.30" y1="416.20" x2="126.00" y2="416.20" stroke="#0000ff" stroke-width="1.7" stroke-linecap="butt"/>
<rect x="114.3" y="412.8" width="6.8" height="6.8" fill="#0000ff"/>
<text x="135.20" y="420.80" font-size="13" font-weight="bold" text-anchor="start" fill="#000" >AMPTX-1</text>
<line x1="109.30" y1="434.60" x2="126.00" y2="434.60" stroke="#ff1a0d" stroke-width="1.7" stroke-linecap="butt"/>
<circle cx="117.7" cy="434.6" r="3.4" fill="#ff1a0d"/>
<text x="135.20" y="439.30" font-size="13" font-weight="bold" text-anchor="start" fill="#000" >2</text>
<text x="372.40" y="266.00" font-size="28" text-anchor="start" fill="#000" >c</text>
<g stroke="#800080" stroke-width="0.9" fill="none"><path d="M459.0,372.9V378.6M457.1,372.9h3.8M457.1,378.6h3.8M461.3,373.0V379.0M459.4,373.0h3.8M459.4,379.0h3.8M463.6,372.9V377.9M461.7,372.9h3.8M461.7,377.9h3.8M465.9,372.5V377.3M464.0,372.5h3.8M464.0,377.3h3.8M468.3,371.5V377.7M466.4,371.5h3.8M466.4,377.7h3.8M470.6,371.3V378.1M468.7,371.3h3.8M468.7,378.1h3.8M472.9,371.4V376.9M471.0,371.4h3.8M471.0,376.9h3.8M475.2,371.9V377.0M473.3,371.9h3.8M473.3,377.0h3.8M477.5,372.1V378.4M475.6,372.1h3.8M475.6,378.4h3.8M479.8,371.3V378.1M477.9,371.3h3.8M477.9,378.1h3.8M482.2,371.5V377.8M480.3,371.5h3.8M480.3,377.8h3.8M484.5,371.2V377.4M482.6,371.2h3.8M482.6,377.4h3.8M486.8,371.0V377.5M484.9,371.0h3.8M484.9,377.5h3.8M489.1,370.8V377.2M487.2,370.8h3.8M487.2,377.2h3.8M491.4,370.2V376.9M489.5,370.2h3.8M489.5,376.9h3.8M493.7,369.7V377.3M491.8,369.7h3.8M491.8,377.3h3.8M496.1,370.7V378.0M494.2,370.7h3.8M494.2,378.0h3.8M498.4,371.3V377.4M496.5,371.3h3.8M496.5,377.4h3.8M500.7,370.8V377.4M498.8,370.8h3.8M498.8,377.4h3.8M503.0,369.9V378.3M501.1,369.9h3.8M501.1,378.3h3.8M505.3,369.6V377.7M503.4,369.6h3.8M503.4,377.7h3.8M507.6,369.5V376.0M505.7,369.5h3.8M505.7,376.0h3.8M510.0,370.0V376.8M508.1,370.0h3.8M508.1,376.8h3.8M512.3,368.5V377.0M510.4,368.5h3.8M510.4,377.0h3.8M514.6,367.8V376.3M512.7,367.8h3.8M512.7,376.3h3.8M516.9,367.5V375.1M515.0,367.5h3.8M515.0,375.1h3.8M519.2,368.0V375.7M517.3,368.0h3.8M517.3,375.7h3.8M521.5,368.6V376.8M519.6,368.6h3.8M519.6,376.8h3.8M523.9,367.5V375.6M522.0,367.5h3.8M522.0,375.6h3.8M526.2,366.9V375.4M524.3,366.9h3.8M524.3,375.4h3.8M528.5,367.5V376.6M526.6,367.5h3.8M526.6,376.6h3.8M530.8,367.7V376.0M528.9,367.7h3.8M528.9,376.0h3.8M533.1,366.5V373.9M531.2,366.5h3.8M531.2,373.9h3.8M535.4,364.9V373.6M533.5,364.9h3.8M533.5,373.6h3.8M537.8,364.3V374.6M535.9,364.3h3.8M535.9,374.6h3.8M540.1,363.9V373.1M538.2,363.9h3.8M538.2,373.1h3.8M542.4,363.7V371.2M540.5,363.7h3.8M540.5,371.2h3.8M544.7,363.4V372.2M542.8,363.4h3.8M542.8,372.2h3.8M547.0,362.0V372.6M545.1,362.0h3.8M545.1,372.6h3.8M549.3,361.1V371.0M547.4,361.1h3.8M547.4,371.0h3.8M551.6,361.1V369.7M549.8,361.1h3.8M549.8,369.7h3.8M554.0,362.0V371.2M552.1,362.0h3.8M552.1,371.2h3.8M556.3,360.9V370.9M554.4,360.9h3.8M554.4,370.9h3.8M558.6,358.8V368.6M556.7,358.8h3.8M556.7,368.6h3.8M560.9,358.3V368.4M559.0,358.3h3.8M559.0,368.4h3.8M563.2,358.8V369.3M561.3,358.8h3.8M561.3,369.3h3.8M565.5,358.8V368.3M563.6,358.8h3.8M563.6,368.3h3.8M567.9,357.8V366.9M566.0,357.8h3.8M566.0,366.9h3.8M570.2,356.8V367.8M568.3,356.8h3.8M568.3,367.8h3.8M572.5,356.5V368.4M570.6,356.5h3.8M570.6,368.4h3.8M574.8,357.2V367.0M572.9,357.2h3.8M572.9,367.0h3.8M577.1,357.3V366.1M575.2,357.3h3.8M575.2,366.1h3.8M579.4,355.4V366.6M577.5,355.4h3.8M577.5,366.6h3.8M581.8,354.3V367.0M579.9,354.3h3.8M579.9,367.0h3.8M584.1,354.4V365.2M582.2,354.4h3.8M582.2,365.2h3.8M586.4,354.8V364.5M584.5,354.8h3.8M584.5,364.5h3.8M588.7,354.2V365.3M586.8,354.2h3.8M586.8,365.3h3.8M591.0,352.4V364.4M589.1,352.4h3.8M589.1,364.4h3.8M593.3,351.2V362.7M591.4,351.2h3.8M591.4,362.7h3.8M595.7,352.1V363.6M593.8,352.1h3.8M593.8,363.6h3.8M598.0,352.4V364.1M596.1,352.4h3.8M596.1,364.1h3.8M600.3,351.5V362.4M598.4,351.5h3.8M598.4,362.4h3.8M602.6,349.8V361.0M600.7,349.8h3.8M600.7,361.0h3.8M604.9,348.7V362.0M603.0,348.7h3.8M603.0,362.0h3.8M607.2,349.5V362.6M605.3,349.5h3.8M605.3,362.6h3.8M609.6,350.3V360.8M607.7,350.3h3.8M607.7,360.8h3.8M611.9,349.4V360.1M610.0,349.4h3.8M610.0,360.1h3.8M614.2,348.1V361.9M612.3,348.1h3.8M612.3,361.9h3.8M616.5,347.0V361.1M614.6,347.0h3.8M614.6,361.1h3.8M618.8,347.3V358.6M616.9,347.3h3.8M616.9,358.6h3.8M621.1,348.2V359.3M619.2,348.2h3.8M619.2,359.3h3.8M623.5,346.7V360.1M621.6,346.7h3.8M621.6,360.1h3.8M625.8,344.6V358.5M623.9,344.6h3.8M623.9,358.5h3.8M628.1,344.7V357.4M626.2,344.7h3.8M626.2,357.4h3.8M630.4,346.0V358.8M628.5,346.0h3.8M628.5,358.8h3.8M632.7,345.9V359.0M630.8,345.9h3.8M630.8,359.0h3.8M635.0,344.6V357.2M633.1,344.6h3.8M633.1,357.2h3.8M637.4,342.9V356.3M635.5,342.9h3.8M635.5,356.3h3.8M639.7,342.3V357.3M637.8,342.3h3.8M637.8,357.3h3.8M642.0,343.0V356.7M640.1,343.0h3.8M640.1,356.7h3.8M644.3,342.6V354.1M642.4,342.6h3.8M642.4,354.1h3.8M646.6,340.9V354.1M644.7,340.9h3.8M644.7,354.1h3.8M648.9,339.5V355.7M647.0,339.5h3.8M647.0,355.7h3.8M651.2,340.1V355.0M649.3,340.1h3.8M649.3,355.0h3.8M653.6,341.4V353.3M651.7,341.4h3.8M651.7,353.3h3.8M655.9,341.1V354.2M654.0,341.1h3.8M654.0,354.2h3.8M658.2,338.8V354.8M656.3,338.8h3.8M656.3,354.8h3.8M660.5,336.9V352.3M658.6,336.9h3.8M658.6,352.3h3.8M662.8,337.6V351.2M660.9,337.6h3.8M660.9,351.2h3.8M665.1,338.5V352.6M663.2,338.5h3.8M663.2,352.6h3.8M667.5,337.2V352.0M665.6,337.2h3.8M665.6,352.0h3.8M669.8,335.2V349.7M667.9,335.2h3.8M667.9,349.7h3.8M672.1,333.7V349.1M670.2,333.7h3.8M670.2,349.1h3.8M674.4,334.4V350.6M672.5,334.4h3.8M672.5,350.6h3.8M676.7,335.1V349.5M674.8,335.1h3.8M674.8,349.5h3.8M679.0,334.2V347.4M677.1,334.2h3.8M677.1,347.4h3.8M681.4,332.0V348.1M679.5,332.0h3.8M679.5,348.1h3.8" fill="none" stroke-width="0.75"/><polyline fill="none" stroke-width="0.9" points="459.0,376.0 461.3,375.8 463.6,375.3 465.9,374.9 468.3,374.6 470.6,374.7 472.9,374.3 475.2,374.4 477.5,374.9 479.8,374.8 482.2,375.1 484.5,374.3 486.8,373.7 489.1,373.9 491.4,374.1 493.7,373.6 496.1,374.0 498.4,374.2 500.7,374.3 503.0,374.2 505.3,373.7 507.6,372.9 510.0,373.2 512.3,372.4 514.6,372.4 516.9,371.8 519.2,371.5 521.5,372.1 523.9,371.8 526.2,371.8 528.5,371.9 530.8,371.3 533.1,370.2 535.4,369.6 537.8,369.5 540.1,368.4 542.4,367.5 544.7,367.5 547.0,367.2 549.3,366.6 551.6,365.7 554.0,365.9 556.3,365.4 558.6,364.4 560.9,364.0 563.2,363.5 565.5,362.9 567.9,362.7 570.2,362.7 572.5,362.3 574.8,361.9 577.1,361.7 579.4,360.9 581.8,360.7 584.1,360.4 586.4,359.6 588.7,359.0 591.0,358.3 593.3,357.9 595.7,358.1 598.0,357.3 600.3,356.6 602.6,356.2 604.9,355.7 607.2,355.6 609.6,355.3 611.9,354.9 614.2,355.0 616.5,354.2 618.8,353.3 621.1,353.4 623.5,352.6 625.8,352.0 628.1,352.1 630.4,352.1 632.7,351.3 635.0,351.1 637.4,350.6 639.7,349.8 642.0,349.1 644.3,348.3 646.6,347.8 648.9,347.6 651.2,347.7 653.6,347.5 655.9,347.1 658.2,346.3 660.5,345.4 662.8,345.2 665.1,344.7 667.5,343.6 669.8,343.2 672.1,342.5 674.4,342.0 676.7,341.4 679.0,341.1 681.4,340.6"/><path d="M456.6,373.6h4.8v4.8h-4.8zM458.9,373.4h4.8v4.8h-4.8zM461.2,372.9h4.8v4.8h-4.8zM463.5,372.5h4.8v4.8h-4.8zM465.9,372.2h4.8v4.8h-4.8zM468.2,372.3h4.8v4.8h-4.8zM470.5,371.9h4.8v4.8h-4.8zM472.8,372.0h4.8v4.8h-4.8zM475.1,372.5h4.8v4.8h-4.8zM477.4,372.4h4.8v4.8h-4.8zM479.8,372.7h4.8v4.8h-4.8zM482.1,371.9h4.8v4.8h-4.8zM484.4,371.3h4.8v4.8h-4.8zM486.7,371.5h4.8v4.8h-4.8zM489.0,371.7h4.8v4.8h-4.8zM491.3,371.2h4.8v4.8h-4.8zM493.7,371.6h4.8v4.8h-4.8zM496.0,371.8h4.8v4.8h-4.8zM498.3,371.9h4.8v4.8h-4.8zM500.6,371.8h4.8v4.8h-4.8zM502.9,371.3h4.8v4.8h-4.8zM505.2,370.5h4.8v4.8h-4.8zM507.6,370.8h4.8v4.8h-4.8zM509.9,370.0h4.8v4.8h-4.8zM512.2,370.0h4.8v4.8h-4.8zM514.5,369.4h4.8v4.8h-4.8zM516.8,369.1h4.8v4.8h-4.8zM519.1,369.7h4.8v4.8h-4.8zM521.5,369.4h4.8v4.8h-4.8zM523.8,369.4h4.8v4.8h-4.8zM526.1,369.5h4.8v4.8h-4.8zM528.4,368.9h4.8v4.8h-4.8zM530.7,367.8h4.8v4.8h-4.8zM533.0,367.2h4.8v4.8h-4.8zM535.4,367.1h4.8v4.8h-4.8zM537.7,366.0h4.8v4.8h-4.8zM540.0,365.1h4.8v4.8h-4.8zM542.3,365.1h4.8v4.8h-4.8zM544.6,364.8h4.8v4.8h-4.8zM546.9,364.2h4.8v4.8h-4.8zM549.2,363.3h4.8v4.8h-4.8zM551.6,363.5h4.8v4.8h-4.8zM553.9,363.0h4.8v4.8h-4.8zM556.2,362.0h4.8v4.8h-4.8zM558.5,361.6h4.8v4.8h-4.8zM560.8,361.1h4.8v4.8h-4.8zM563.1,360.5h4.8v4.8h-4.8zM565.5,360.3h4.8v4.8h-4.8zM567.8,360.3h4.8v4.8h-4.8zM570.1,359.9h4.8v4.8h-4.8zM572.4,359.5h4.8v4.8h-4.8zM574.7,359.3h4.8v4.8h-4.8zM577.0,358.5h4.8v4.8h-4.8zM579.4,358.3h4.8v4.8h-4.8zM581.7,358.0h4.8v4.8h-4.8zM584.0,357.2h4.8v4.8h-4.8zM586.3,356.6h4.8v4.8h-4.8zM588.6,355.9h4.8v4.8h-4.8zM590.9,355.5h4.8v4.8h-4.8zM593.3,355.7h4.8v4.8h-4.8zM595.6,354.9h4.8v4.8h-4.8zM597.9,354.2h4.8v4.8h-4.8zM600.2,353.8h4.8v4.8h-4.8zM602.5,353.3h4.8v4.8h-4.8zM604.8,353.2h4.8v4.8h-4.8zM607.2,352.9h4.8v4.8h-4.8zM609.5,352.5h4.8v4.8h-4.8zM611.8,352.6h4.8v4.8h-4.8zM614.1,351.8h4.8v4.8h-4.8zM616.4,350.9h4.8v4.8h-4.8zM618.7,351.0h4.8v4.8h-4.8zM621.1,350.2h4.8v4.8h-4.8zM623.4,349.6h4.8v4.8h-4.8zM625.7,349.7h4.8v4.8h-4.8zM628.0,349.7h4.8v4.8h-4.8zM630.3,348.9h4.8v4.8h-4.8zM632.6,348.7h4.8v4.8h-4.8zM635.0,348.2h4.8v4.8h-4.8zM637.3,347.4h4.8v4.8h-4.8zM639.6,346.7h4.8v4.8h-4.8zM641.9,345.9h4.8v4.8h-4.8zM644.2,345.4h4.8v4.8h-4.8zM646.5,345.2h4.8v4.8h-4.8zM648.8,345.3h4.8v4.8h-4.8zM651.2,345.1h4.8v4.8h-4.8zM653.5,344.7h4.8v4.8h-4.8zM655.8,343.9h4.8v4.8h-4.8zM658.1,343.0h4.8v4.8h-4.8zM660.4,342.8h4.8v4.8h-4.8zM662.7,342.3h4.8v4.8h-4.8zM665.1,341.2h4.8v4.8h-4.8zM667.4,340.8h4.8v4.8h-4.8zM669.7,340.1h4.8v4.8h-4.8zM672.0,339.6h4.8v4.8h-4.8zM674.3,339.0h4.8v4.8h-4.8zM676.6,338.7h4.8v4.8h-4.8zM679.0,338.2h4.8v4.8h-4.8z" stroke-width="1.3"/></g>
<g stroke="#00009a" stroke-width="0.9" fill="none"><path d="M459.0,360.8V366.1M457.1,360.8h3.8M457.1,366.1h3.8M461.3,360.9V366.2M459.4,360.9h3.8M459.4,366.2h3.8M463.6,359.8V364.1M461.7,359.8h3.8M461.7,364.1h3.8M465.9,358.4V362.4M464.0,358.4h3.8M464.0,362.4h3.8M468.3,357.3V362.3M466.4,357.3h3.8M466.4,362.3h3.8M470.6,356.3V361.7M468.7,356.3h3.8M468.7,361.7h3.8M472.9,356.8V361.3M471.0,356.8h3.8M471.0,361.3h3.8M475.2,357.6V361.8M473.3,357.6h3.8M473.3,361.8h3.8M477.5,358.1V363.2M475.6,358.1h3.8M475.6,363.2h3.8M479.8,357.9V363.5M477.9,357.9h3.8M477.9,363.5h3.8M482.2,359.1V364.3M480.3,359.1h3.8M480.3,364.3h3.8M484.5,359.8V365.1M482.6,359.8h3.8M482.6,365.1h3.8M486.8,361.7V367.3M484.9,361.7h3.8M484.9,367.3h3.8M489.1,362.3V367.9M487.2,362.3h3.8M487.2,367.9h3.8M491.4,362.4V368.4M489.5,362.4h3.8M489.5,368.4h3.8M493.7,362.1V369.0M491.8,362.1h3.8M491.8,369.0h3.8M496.1,362.9V369.8M494.2,362.9h3.8M494.2,369.8h3.8M498.4,363.2V369.0M496.5,363.2h3.8M496.5,369.0h3.8M500.7,362.7V369.2M498.8,362.7h3.8M498.8,369.2h3.8M503.0,361.6V370.1M501.1,361.6h3.8M501.1,370.1h3.8M505.3,361.7V370.2M503.4,361.7h3.8M503.4,370.2h3.8M507.6,362.6V369.5M505.7,362.6h3.8M505.7,369.5h3.8M510.0,362.6V370.0M508.1,362.6h3.8M508.1,370.0h3.8M512.3,361.7V371.2M510.4,361.7h3.8M510.4,371.2h3.8M514.6,361.0V370.8M512.7,361.0h3.8M512.7,370.8h3.8M516.9,360.4V369.3M515.0,360.4h3.8M515.0,369.3h3.8M519.2,360.8V370.1M517.3,360.8h3.8M517.3,370.1h3.8M521.5,360.4V370.7M519.6,360.4h3.8M519.6,370.7h3.8M523.9,358.6V368.9M522.0,358.6h3.8M522.0,368.9h3.8M526.2,357.8V368.8M524.3,357.8h3.8M524.3,368.8h3.8M528.5,358.3V370.6M526.6,358.3h3.8M526.6,370.6h3.8M530.8,359.1V370.6M528.9,359.1h3.8M528.9,370.6h3.8M533.1,358.6V369.1M531.2,358.6h3.8M531.2,369.1h3.8M535.4,356.6V369.2M533.5,356.6h3.8M533.5,369.2h3.8M537.8,356.2V371.4M535.9,356.2h3.8M535.9,371.4h3.8M540.1,356.6V370.3M538.2,356.6h3.8M538.2,370.3h3.8M542.4,357.1V368.6M540.5,357.1h3.8M540.5,368.6h3.8M544.7,356.3V370.0M542.8,356.3h3.8M542.8,370.0h3.8M547.0,354.7V371.6M545.1,354.7h3.8M545.1,371.6h3.8M549.3,353.3V369.3M547.4,353.3h3.8M547.4,369.3h3.8M551.6,354.7V368.9M549.8,354.7h3.8M549.8,368.9h3.8M554.0,355.0V370.6M552.1,355.0h3.8M552.1,370.6h3.8M556.3,353.9V371.1M554.4,353.9h3.8M554.4,371.1h3.8M558.6,351.9V369.1M556.7,351.9h3.8M556.7,369.1h3.8M560.9,351.4V369.4M559.0,351.4h3.8M559.0,369.4h3.8M563.2,352.9V371.9M561.3,352.9h3.8M561.3,371.9h3.8M565.5,353.4V370.9M563.6,353.4h3.8M563.6,370.9h3.8M567.9,350.8V368.0M566.0,350.8h3.8M566.0,368.0h3.8M570.2,347.9V369.0M568.3,347.9h3.8M568.3,369.0h3.8M572.5,347.9V371.0M570.6,347.9h3.8M570.6,371.0h3.8M574.8,349.2V368.5M572.9,349.2h3.8M572.9,368.5h3.8M577.1,349.3V366.9M575.2,349.3h3.8M575.2,366.9h3.8M579.4,346.8V369.5M577.5,346.8h3.8M577.5,369.5h3.8M581.8,343.9V369.9M579.9,343.9h3.8M579.9,369.9h3.8M584.1,344.6V367.1M582.2,344.6h3.8M582.2,367.1h3.8M586.4,346.0V366.5M584.5,346.0h3.8M584.5,366.5h3.8M588.7,345.6V369.5M586.8,345.6h3.8M586.8,369.5h3.8M591.0,342.5V368.7M589.1,342.5h3.8M589.1,368.7h3.8M593.3,341.0V366.2M591.4,341.0h3.8M591.4,366.2h3.8M595.7,342.4V368.1M593.8,342.4h3.8M593.8,368.1h3.8M598.0,344.7V371.3M596.1,344.7h3.8M596.1,371.3h3.8M600.3,343.6V368.7M598.4,343.6h3.8M598.4,368.7h3.8M602.6,339.3V365.3M600.7,339.3h3.8M600.7,365.3h3.8M604.9,336.8V367.9M603.0,336.8h3.8M603.0,367.9h3.8M607.2,338.1V369.2M605.3,338.1h3.8M605.3,369.2h3.8M609.6,340.6V366.0M607.7,340.6h3.8M607.7,366.0h3.8M611.9,338.7V364.9M610.0,338.7h3.8M610.0,364.9h3.8M614.2,334.5V368.6M612.3,334.5h3.8M612.3,368.6h3.8M616.5,332.7V368.0M614.6,332.7h3.8M614.6,368.0h3.8M618.8,334.8V363.5M616.9,334.8h3.8M616.9,363.5h3.8M621.1,337.1V365.5M619.2,337.1h3.8M619.2,365.5h3.8M623.5,335.0V369.8M621.6,335.0h3.8M621.6,369.8h3.8M625.8,330.3V366.6M623.9,330.3h3.8M623.9,366.6h3.8M628.1,329.3V362.8M626.2,329.3h3.8M626.2,362.8h3.8M630.4,331.7V365.8M628.5,331.7h3.8M628.5,365.8h3.8M632.7,333.2V368.6M630.8,333.2h3.8M630.8,368.6h3.8M635.0,329.4V363.7M633.1,329.4h3.8M633.1,363.7h3.8M637.4,325.7V362.6M635.5,325.7h3.8M635.5,362.6h3.8M639.7,325.2V366.9M637.8,325.2h3.8M637.8,366.9h3.8M642.0,328.2V366.8M640.1,328.2h3.8M640.1,366.8h3.8M644.3,329.1V361.9M642.4,329.1h3.8M642.4,361.9h3.8M646.6,325.4V363.3M644.7,325.4h3.8M644.7,363.3h3.8M648.9,321.2V368.2M647.0,321.2h3.8M647.0,368.2h3.8M651.2,321.8V365.4M649.3,321.8h3.8M649.3,365.4h3.8M653.6,325.6V360.7M651.7,325.6h3.8M651.7,360.7h3.8M655.9,325.7V364.7M654.0,325.7h3.8M654.0,364.7h3.8M658.2,320.6V368.5M656.3,320.6h3.8M656.3,368.5h3.8M660.5,316.3V362.9M658.6,316.3h3.8M658.6,362.9h3.8M662.8,318.6V360.4M660.9,318.6h3.8M660.9,360.4h3.8M665.1,321.5V365.2M663.2,321.5h3.8M663.2,365.2h3.8M667.5,320.4V366.7M665.6,320.4h3.8M665.6,366.7h3.8M669.8,314.9V360.5M667.9,314.9h3.8M667.9,360.5h3.8M672.1,312.1V360.8M670.2,312.1h3.8M670.2,360.8h3.8M674.4,314.2V366.2M672.5,314.2h3.8M672.5,366.2h3.8M676.7,317.1V363.6M674.8,317.1h3.8M674.8,363.6h3.8M679.0,314.8V357.6M677.1,314.8h3.8M677.1,357.6h3.8M681.4,308.9V361.4M679.5,308.9h3.8M679.5,361.4h3.8" fill="none" stroke-width="0.75"/><polyline fill="none" stroke-width="0.9" points="459.0,363.7 461.3,363.4 463.6,361.8 465.9,360.4 468.3,359.8 470.6,359.0 472.9,359.1 475.2,359.6 477.5,360.2 479.8,360.7 482.2,362.0 484.5,362.4 486.8,363.9 489.1,364.9 491.4,365.8 493.7,365.6 496.1,365.9 498.4,365.9 500.7,366.1 503.0,365.8 505.3,365.9 507.6,366.1 510.0,366.0 512.3,366.0 514.6,366.2 516.9,365.4 519.2,364.9 521.5,364.6 523.9,364.0 526.2,364.1 528.5,364.1 530.8,363.9 533.1,363.8 535.4,363.2 537.8,363.6 540.1,363.2 542.4,362.7 544.7,362.6 547.0,362.7 549.3,361.9 551.6,362.1 554.0,361.5 556.3,361.5 558.6,361.5 560.9,361.3 563.2,361.1 565.5,360.9 567.9,359.9 570.2,359.1 572.5,358.9 574.8,358.3 577.1,358.0 579.4,357.6 581.8,356.8 584.1,356.8 586.4,356.0 588.7,355.6 591.0,355.2 593.3,355.6 595.7,355.6 598.0,355.6 600.3,355.1 602.6,353.9 604.9,353.0 607.2,352.3 609.6,352.6 611.9,351.9 614.2,351.2 616.5,350.5 618.8,350.0 621.1,350.2 623.5,350.2 625.8,349.3 628.1,348.6 630.4,347.8 632.7,347.6 635.0,346.7 637.4,346.9 639.7,345.9 642.0,345.1 644.3,345.1 646.6,345.2 648.9,344.6 651.2,343.8 653.6,343.5 655.9,343.4 658.2,343.0 660.5,341.8 662.8,341.7 665.1,340.5 667.5,340.2 669.8,339.9 672.1,339.7 674.4,338.3 676.7,337.2 679.0,336.9 681.4,336.9"/><path d="M459.0,366.6l2.9,-5.2h-5.8zM461.3,366.3l2.9,-5.2h-5.8zM463.6,364.7l2.9,-5.2h-5.8zM465.9,363.3l2.9,-5.2h-5.8zM468.3,362.7l2.9,-5.2h-5.8zM470.6,361.9l2.9,-5.2h-5.8zM472.9,362.0l2.9,-5.2h-5.8zM475.2,362.5l2.9,-5.2h-5.8zM477.5,363.1l2.9,-5.2h-5.8zM479.8,363.6l2.9,-5.2h-5.8zM482.2,364.9l2.9,-5.2h-5.8zM484.5,365.3l2.9,-5.2h-5.8zM486.8,366.8l2.9,-5.2h-5.8zM489.1,367.8l2.9,-5.2h-5.8zM491.4,368.7l2.9,-5.2h-5.8zM493.7,368.5l2.9,-5.2h-5.8zM496.1,368.8l2.9,-5.2h-5.8zM498.4,368.8l2.9,-5.2h-5.8zM500.7,369.0l2.9,-5.2h-5.8zM503.0,368.7l2.9,-5.2h-5.8zM505.3,368.8l2.9,-5.2h-5.8zM507.6,369.0l2.9,-5.2h-5.8zM510.0,368.9l2.9,-5.2h-5.8zM512.3,368.9l2.9,-5.2h-5.8zM514.6,369.1l2.9,-5.2h-5.8zM516.9,368.3l2.9,-5.2h-5.8zM519.2,367.8l2.9,-5.2h-5.8zM521.5,367.5l2.9,-5.2h-5.8zM523.9,366.9l2.9,-5.2h-5.8zM526.2,367.0l2.9,-5.2h-5.8zM528.5,367.0l2.9,-5.2h-5.8zM530.8,366.8l2.9,-5.2h-5.8zM533.1,366.7l2.9,-5.2h-5.8zM535.4,366.1l2.9,-5.2h-5.8zM537.8,366.5l2.9,-5.2h-5.8zM540.1,366.1l2.9,-5.2h-5.8zM542.4,365.6l2.9,-5.2h-5.8zM544.7,365.5l2.9,-5.2h-5.8zM547.0,365.6l2.9,-5.2h-5.8zM549.3,364.8l2.9,-5.2h-5.8zM551.6,365.0l2.9,-5.2h-5.8zM554.0,364.4l2.9,-5.2h-5.8zM556.3,364.4l2.9,-5.2h-5.8zM558.6,364.4l2.9,-5.2h-5.8zM560.9,364.2l2.9,-5.2h-5.8zM563.2,364.0l2.9,-5.2h-5.8zM565.5,363.8l2.9,-5.2h-5.8zM567.9,362.8l2.9,-5.2h-5.8zM570.2,362.0l2.9,-5.2h-5.8zM572.5,361.8l2.9,-5.2h-5.8zM574.8,361.2l2.9,-5.2h-5.8zM577.1,360.9l2.9,-5.2h-5.8zM579.4,360.5l2.9,-5.2h-5.8zM581.8,359.7l2.9,-5.2h-5.8zM584.1,359.7l2.9,-5.2h-5.8zM586.4,358.9l2.9,-5.2h-5.8zM588.7,358.5l2.9,-5.2h-5.8zM591.0,358.1l2.9,-5.2h-5.8zM593.3,358.5l2.9,-5.2h-5.8zM595.7,358.5l2.9,-5.2h-5.8zM598.0,358.5l2.9,-5.2h-5.8zM600.3,358.0l2.9,-5.2h-5.8zM602.6,356.8l2.9,-5.2h-5.8zM604.9,355.9l2.9,-5.2h-5.8zM607.2,355.2l2.9,-5.2h-5.8zM609.6,355.5l2.9,-5.2h-5.8zM611.9,354.8l2.9,-5.2h-5.8zM614.2,354.1l2.9,-5.2h-5.8zM616.5,353.4l2.9,-5.2h-5.8zM618.8,352.9l2.9,-5.2h-5.8zM621.1,353.1l2.9,-5.2h-5.8zM623.5,353.1l2.9,-5.2h-5.8zM625.8,352.2l2.9,-5.2h-5.8zM628.1,351.5l2.9,-5.2h-5.8zM630.4,350.7l2.9,-5.2h-5.8zM632.7,350.5l2.9,-5.2h-5.8zM635.0,349.6l2.9,-5.2h-5.8zM637.4,349.8l2.9,-5.2h-5.8zM639.7,348.8l2.9,-5.2h-5.8zM642.0,348.0l2.9,-5.2h-5.8zM644.3,348.0l2.9,-5.2h-5.8zM646.6,348.1l2.9,-5.2h-5.8zM648.9,347.5l2.9,-5.2h-5.8zM651.2,346.7l2.9,-5.2h-5.8zM653.6,346.4l2.9,-5.2h-5.8zM655.9,346.3l2.9,-5.2h-5.8zM658.2,345.9l2.9,-5.2h-5.8zM660.5,344.7l2.9,-5.2h-5.8zM662.8,344.6l2.9,-5.2h-5.8zM665.1,343.4l2.9,-5.2h-5.8zM667.5,343.1l2.9,-5.2h-5.8zM669.8,342.8l2.9,-5.2h-5.8zM672.1,342.6l2.9,-5.2h-5.8zM674.4,341.2l2.9,-5.2h-5.8zM676.7,340.1l2.9,-5.2h-5.8zM679.0,339.8l2.9,-5.2h-5.8zM681.4,339.8l2.9,-5.2h-5.8z" stroke-width="1.3"/></g>
<g stroke="#996633" stroke-width="0.9" fill="none"><path d="M459.0,330.7V351.2M457.1,330.7h3.8M457.1,351.2h3.8M461.3,334.2V354.1M459.4,334.2h3.8M459.4,354.1h3.8M463.6,338.7V354.1M461.7,338.7h3.8M461.7,354.1h3.8M465.9,340.1V354.1M464.0,340.1h3.8M464.0,354.1h3.8M468.3,340.0V357.2M466.4,340.0h3.8M466.4,357.2h3.8M470.6,341.2V358.9M468.7,341.2h3.8M468.7,358.9h3.8M472.9,344.0V357.9M471.0,344.0h3.8M471.0,357.9h3.8M475.2,346.8V359.0M473.3,346.8h3.8M473.3,359.0h3.8M477.5,348.2V362.2M475.6,348.2h3.8M475.6,362.2h3.8M479.8,347.7V362.3M477.9,347.7h3.8M477.9,362.3h3.8M482.2,348.3V361.3M480.3,348.3h3.8M480.3,361.3h3.8M484.5,350.6V362.8M482.6,350.6h3.8M482.6,362.8h3.8M486.8,352.0V364.2M484.9,352.0h3.8M484.9,364.2h3.8M489.1,352.0V363.4M487.2,352.0h3.8M487.2,363.4h3.8M491.4,351.8V363.4M489.5,351.8h3.8M489.5,363.4h3.8M493.7,352.9V365.6M491.8,352.9h3.8M491.8,365.6h3.8M496.1,355.2V367.0M494.2,355.2h3.8M494.2,367.0h3.8M498.4,355.8V365.4M496.5,355.8h3.8M496.5,365.4h3.8M500.7,355.2V365.4M498.8,355.2h3.8M498.8,365.4h3.8M503.0,354.5V367.0M501.1,354.5h3.8M501.1,367.0h3.8M505.3,355.3V367.3M503.4,355.3h3.8M503.4,367.3h3.8M507.6,356.9V366.2M505.7,356.9h3.8M505.7,366.2h3.8M510.0,357.9V367.4M508.1,357.9h3.8M508.1,367.4h3.8M512.3,357.0V368.6M510.4,357.0h3.8M510.4,368.6h3.8M514.6,356.7V368.3M512.7,356.7h3.8M512.7,368.3h3.8M516.9,357.1V367.2M515.0,357.1h3.8M515.0,367.2h3.8M519.2,358.1V368.2M517.3,358.1h3.8M517.3,368.2h3.8M521.5,358.1V368.8M519.6,358.1h3.8M519.6,368.8h3.8M523.9,357.4V368.0M522.0,357.4h3.8M522.0,368.0h3.8M526.2,357.2V368.2M524.3,357.2h3.8M524.3,368.2h3.8M528.5,357.9V369.7M526.6,357.9h3.8M526.6,369.7h3.8M530.8,358.5V369.3M528.9,358.5h3.8M528.9,369.3h3.8M533.1,358.3V367.8M531.2,358.3h3.8M531.2,367.8h3.8M535.4,356.6V367.9M533.5,356.6h3.8M533.5,367.9h3.8M537.8,356.1V369.4M535.9,356.1h3.8M535.9,369.4h3.8M540.1,357.0V368.8M538.2,357.0h3.8M538.2,368.8h3.8M542.4,357.4V367.1M540.5,357.4h3.8M540.5,367.1h3.8M544.7,357.3V368.7M542.8,357.3h3.8M542.8,368.7h3.8M547.0,356.1V370.0M545.1,356.1h3.8M545.1,370.0h3.8M549.3,355.3V368.3M547.4,355.3h3.8M547.4,368.3h3.8M551.6,356.0V367.4M549.8,356.0h3.8M549.8,367.4h3.8M554.0,356.8V369.0M552.1,356.8h3.8M552.1,369.0h3.8M556.3,355.7V369.1M554.4,355.7h3.8M554.4,369.1h3.8M558.6,354.0V367.4M556.7,354.0h3.8M556.7,367.4h3.8M560.9,353.5V367.3M559.0,353.5h3.8M559.0,367.3h3.8M563.2,354.1V368.6M561.3,354.1h3.8M561.3,368.6h3.8M565.5,354.3V367.6M563.6,354.3h3.8M563.6,367.6h3.8M567.9,352.9V365.9M566.0,352.9h3.8M566.0,365.9h3.8M570.2,351.4V367.2M568.3,351.4h3.8M568.3,367.2h3.8M572.5,350.9V368.1M570.6,350.9h3.8M570.6,368.1h3.8M574.8,352.4V366.7M572.9,352.4h3.8M572.9,366.7h3.8M577.1,352.5V365.5M575.2,352.5h3.8M575.2,365.5h3.8M579.4,350.3V367.1M577.5,350.3h3.8M577.5,367.1h3.8M581.8,348.5V367.6M579.9,348.5h3.8M579.9,367.6h3.8M584.1,349.1V365.6M582.2,349.1h3.8M582.2,365.6h3.8M586.4,350.2V365.2M584.5,350.2h3.8M584.5,365.2h3.8M588.7,350.0V367.4M586.8,350.0h3.8M586.8,367.4h3.8M591.0,347.3V366.4M589.1,347.3h3.8M589.1,366.4h3.8M593.3,345.6V364.1M591.4,345.6h3.8M591.4,364.1h3.8M595.7,346.4V365.2M593.8,346.4h3.8M593.8,365.2h3.8M598.0,347.3V366.8M596.1,347.3h3.8M596.1,366.8h3.8M600.3,346.8V365.1M598.4,346.8h3.8M598.4,365.1h3.8M602.6,344.3V363.5M600.7,344.3h3.8M600.7,363.5h3.8M604.9,342.3V365.2M603.0,342.3h3.8M603.0,365.2h3.8M607.2,343.1V365.9M605.3,343.1h3.8M605.3,365.9h3.8M609.6,345.1V363.7M607.7,345.1h3.8M607.7,363.7h3.8M611.9,344.3V363.5M610.0,344.3h3.8M610.0,363.5h3.8M614.2,340.7V365.8M612.3,340.7h3.8M612.3,365.8h3.8M616.5,339.0V365.0M614.6,339.0h3.8M614.6,365.0h3.8M618.8,340.8V362.0M616.9,340.8h3.8M616.9,362.0h3.8M621.1,342.3V363.2M619.2,342.3h3.8M619.2,363.2h3.8M623.5,339.9V365.6M621.6,339.9h3.8M621.6,365.6h3.8M625.8,336.1V363.1M623.9,336.1h3.8M623.9,363.1h3.8M628.1,335.8V360.8M626.2,335.8h3.8M626.2,360.8h3.8M630.4,337.8V363.2M628.5,337.8h3.8M628.5,363.2h3.8M632.7,338.3V364.8M630.8,338.3h3.8M630.8,364.8h3.8M635.0,335.9V361.6M633.1,335.9h3.8M633.1,361.6h3.8M637.4,332.4V360.2M635.5,332.4h3.8M635.5,360.2h3.8M639.7,332.6V364.0M637.8,332.6h3.8M637.8,364.0h3.8M642.0,334.6V363.8M640.1,334.6h3.8M640.1,363.8h3.8M644.3,335.0V359.8M642.4,335.0h3.8M642.4,359.8h3.8M646.6,331.8V360.5M644.7,331.8h3.8M644.7,360.5h3.8M648.9,328.2V364.0M647.0,328.2h3.8M647.0,364.0h3.8M651.2,328.8V362.1M649.3,328.8h3.8M649.3,362.1h3.8M653.6,331.4V358.3M651.7,331.4h3.8M651.7,358.3h3.8M655.9,331.0V360.9M654.0,331.0h3.8M654.0,360.9h3.8M658.2,326.4V363.3M656.3,326.4h3.8M656.3,363.3h3.8M660.5,323.2V359.2M658.6,323.2h3.8M658.6,359.2h3.8M662.8,323.8V356.1M660.9,323.8h3.8M660.9,356.1h3.8M665.1,326.4V360.2M663.2,326.4h3.8M663.2,360.2h3.8M667.5,325.2V361.1M665.6,325.2h3.8M665.6,361.1h3.8M669.8,320.5V356.1M667.9,320.5h3.8M667.9,356.1h3.8M672.1,317.7V355.9M670.2,317.7h3.8M670.2,355.9h3.8M674.4,319.2V360.0M672.5,319.2h3.8M672.5,360.0h3.8M676.7,321.9V358.4M674.8,321.9h3.8M674.8,358.4h3.8M679.0,319.4V353.1M677.1,319.4h3.8M677.1,353.1h3.8M681.4,313.5V355.0M679.5,313.5h3.8M679.5,355.0h3.8" fill="none" stroke-width="0.75"/><polyline fill="none" stroke-width="0.9" points="459.0,342.4 461.3,344.1 463.6,346.4 465.9,347.7 468.3,349.1 470.6,350.7 472.9,351.8 475.2,352.9 477.5,354.6 479.8,355.5 482.2,356.2 484.5,357.0 486.8,357.3 489.1,357.8 491.4,358.8 493.7,359.7 496.1,360.7 498.4,360.6 500.7,360.7 503.0,361.0 505.3,361.5 507.6,361.8 510.0,362.4 512.3,362.5 514.6,363.1 516.9,362.9 519.2,362.8 521.5,362.7 523.9,363.1 526.2,363.6 528.5,363.7 530.8,363.3 533.1,363.2 535.4,362.8 537.8,362.8 540.1,362.9 542.4,362.3 544.7,362.7 547.0,362.9 549.3,362.5 551.6,362.2 554.0,362.1 556.3,361.8 558.6,361.7 560.9,361.2 563.2,360.6 565.5,360.1 567.9,360.0 570.2,360.0 572.5,359.3 574.8,359.3 577.1,359.0 579.4,358.4 581.8,358.2 584.1,358.2 586.4,357.7 588.7,357.4 591.0,356.7 593.3,356.4 595.7,356.2 598.0,355.5 600.3,355.3 602.6,355.2 604.9,354.4 607.2,353.7 609.6,354.0 611.9,354.1 614.2,353.2 616.5,352.3 618.8,352.2 621.1,352.1 623.5,351.3 625.8,350.3 628.1,350.3 630.4,349.9 632.7,349.2 635.0,349.0 637.4,348.5 639.7,348.3 642.0,347.6 644.3,347.2 646.6,346.9 648.9,346.1 651.2,345.7 653.6,345.2 655.9,344.7 658.2,343.8 660.5,343.0 662.8,341.8 665.1,341.2 667.5,340.7 669.8,340.2 672.1,339.5 674.4,338.2 676.7,337.8 679.0,336.9 681.4,335.7"/><path d="M459.0,339.5l2.9,5.2h-5.8zM461.3,341.2l2.9,5.2h-5.8zM463.6,343.5l2.9,5.2h-5.8zM465.9,344.8l2.9,5.2h-5.8zM468.3,346.2l2.9,5.2h-5.8zM470.6,347.8l2.9,5.2h-5.8zM472.9,348.9l2.9,5.2h-5.8zM475.2,350.0l2.9,5.2h-5.8zM477.5,351.7l2.9,5.2h-5.8zM479.8,352.6l2.9,5.2h-5.8zM482.2,353.3l2.9,5.2h-5.8zM484.5,354.1l2.9,5.2h-5.8zM486.8,354.4l2.9,5.2h-5.8zM489.1,354.9l2.9,5.2h-5.8zM491.4,355.9l2.9,5.2h-5.8zM493.7,356.8l2.9,5.2h-5.8zM496.1,357.8l2.9,5.2h-5.8zM498.4,357.7l2.9,5.2h-5.8zM500.7,357.8l2.9,5.2h-5.8zM503.0,358.1l2.9,5.2h-5.8zM505.3,358.6l2.9,5.2h-5.8zM507.6,358.9l2.9,5.2h-5.8zM510.0,359.5l2.9,5.2h-5.8zM512.3,359.6l2.9,5.2h-5.8zM514.6,360.2l2.9,5.2h-5.8zM516.9,360.0l2.9,5.2h-5.8zM519.2,359.9l2.9,5.2h-5.8zM521.5,359.8l2.9,5.2h-5.8zM523.9,360.2l2.9,5.2h-5.8zM526.2,360.7l2.9,5.2h-5.8zM528.5,360.8l2.9,5.2h-5.8zM530.8,360.4l2.9,5.2h-5.8zM533.1,360.3l2.9,5.2h-5.8zM535.4,359.9l2.9,5.2h-5.8zM537.8,359.9l2.9,5.2h-5.8zM540.1,360.0l2.9,5.2h-5.8zM542.4,359.4l2.9,5.2h-5.8zM544.7,359.8l2.9,5.2h-5.8zM547.0,360.0l2.9,5.2h-5.8zM549.3,359.6l2.9,5.2h-5.8zM551.6,359.3l2.9,5.2h-5.8zM554.0,359.2l2.9,5.2h-5.8zM556.3,358.9l2.9,5.2h-5.8zM558.6,358.8l2.9,5.2h-5.8zM560.9,358.3l2.9,5.2h-5.8zM563.2,357.7l2.9,5.2h-5.8zM565.5,357.2l2.9,5.2h-5.8zM567.9,357.1l2.9,5.2h-5.8zM570.2,357.1l2.9,5.2h-5.8zM572.5,356.4l2.9,5.2h-5.8zM574.8,356.4l2.9,5.2h-5.8zM577.1,356.1l2.9,5.2h-5.8zM579.4,355.5l2.9,5.2h-5.8zM581.8,355.3l2.9,5.2h-5.8zM584.1,355.3l2.9,5.2h-5.8zM586.4,354.8l2.9,5.2h-5.8zM588.7,354.5l2.9,5.2h-5.8zM591.0,353.8l2.9,5.2h-5.8zM593.3,353.5l2.9,5.2h-5.8zM595.7,353.3l2.9,5.2h-5.8zM598.0,352.6l2.9,5.2h-5.8zM600.3,352.4l2.9,5.2h-5.8zM602.6,352.3l2.9,5.2h-5.8zM604.9,351.5l2.9,5.2h-5.8zM607.2,350.8l2.9,5.2h-5.8zM609.6,351.1l2.9,5.2h-5.8zM611.9,351.2l2.9,5.2h-5.8zM614.2,350.3l2.9,5.2h-5.8zM616.5,349.4l2.9,5.2h-5.8zM618.8,349.3l2.9,5.2h-5.8zM621.1,349.2l2.9,5.2h-5.8zM623.5,348.4l2.9,5.2h-5.8zM625.8,347.4l2.9,5.2h-5.8zM628.1,347.4l2.9,5.2h-5.8zM630.4,347.0l2.9,5.2h-5.8zM632.7,346.3l2.9,5.2h-5.8zM635.0,346.1l2.9,5.2h-5.8zM637.4,345.6l2.9,5.2h-5.8zM639.7,345.4l2.9,5.2h-5.8zM642.0,344.7l2.9,5.2h-5.8zM644.3,344.3l2.9,5.2h-5.8zM646.6,344.0l2.9,5.2h-5.8zM648.9,343.2l2.9,5.2h-5.8zM651.2,342.8l2.9,5.2h-5.8zM653.6,342.3l2.9,5.2h-5.8zM655.9,341.8l2.9,5.2h-5.8zM658.2,340.9l2.9,5.2h-5.8zM660.5,340.1l2.9,5.2h-5.8zM662.8,338.9l2.9,5.2h-5.8zM665.1,338.3l2.9,5.2h-5.8zM667.5,337.8l2.9,5.2h-5.8zM669.8,337.3l2.9,5.2h-5.8zM672.1,336.6l2.9,5.2h-5.8zM674.4,335.3l2.9,5.2h-5.8zM676.7,334.9l2.9,5.2h-5.8zM679.0,334.0l2.9,5.2h-5.8zM681.4,332.8l2.9,5.2h-5.8z" stroke-width="1.3"/></g>
<g stroke="#000000" stroke-width="0.9" fill="none"><path d="M459.0,325.2V328.6M457.1,325.2h3.8M457.1,328.6h3.8M461.3,330.5V334.0M459.4,330.5h3.8M459.4,334.0h3.8M463.6,338.9V341.6M461.7,338.9h3.8M461.7,341.6h3.8M465.9,348.0V350.6M464.0,348.0h3.8M464.0,350.6h3.8M468.3,357.6V360.9M466.4,357.6h3.8M466.4,360.9h3.8M470.6,366.8V370.4M468.7,366.8h3.8M468.7,370.4h3.8M472.9,374.7V377.7M471.0,374.7h3.8M471.0,377.7h3.8M475.2,382.3V385.0M473.3,382.3h3.8M473.3,385.0h3.8M477.5,387.9V391.2M475.6,387.9h3.8M475.6,391.2h3.8M479.8,391.6V395.1M477.9,391.6h3.8M477.9,395.1h3.8M482.2,394.8V398.1M480.3,394.8h3.8M480.3,398.1h3.8M484.5,398.7V401.9M482.6,398.7h3.8M482.6,401.9h3.8M486.8,401.6V404.9M484.9,401.6h3.8M484.9,404.9h3.8M489.1,403.3V406.5M487.2,403.3h3.8M487.2,406.5h3.8M491.4,403.5V406.8M489.5,403.5h3.8M489.5,406.8h3.8M493.7,404.9V408.7M491.8,404.9h3.8M491.8,408.7h3.8M496.1,405.9V409.6M494.2,405.9h3.8M494.2,409.6h3.8M498.4,406.7V409.8M496.5,406.7h3.8M496.5,409.8h3.8M500.7,406.8V410.2M498.8,406.8h3.8M498.8,410.2h3.8M503.0,406.2V410.4M501.1,406.2h3.8M501.1,410.4h3.8M505.3,406.5V410.6M503.4,406.5h3.8M503.4,410.6h3.8M507.6,406.7V410.0M505.7,406.7h3.8M505.7,410.0h3.8M510.0,406.2V409.7M508.1,406.2h3.8M508.1,409.7h3.8M512.3,405.4V409.7M510.4,405.4h3.8M510.4,409.7h3.8M514.6,405.1V409.5M512.7,405.1h3.8M512.7,409.5h3.8M516.9,404.8V408.7M515.0,404.8h3.8M515.0,408.7h3.8M519.2,405.1V409.0M517.3,405.1h3.8M517.3,409.0h3.8M521.5,404.6V408.9M519.6,404.6h3.8M519.6,408.9h3.8M523.9,404.5V408.8M522.0,404.5h3.8M522.0,408.8h3.8M526.2,404.2V408.7M524.3,404.2h3.8M524.3,408.7h3.8M528.5,404.2V409.1M526.6,404.2h3.8M526.6,409.1h3.8M530.8,403.9V408.5M528.9,403.9h3.8M528.9,408.5h3.8M533.1,403.7V407.8M531.2,403.7h3.8M531.2,407.8h3.8M535.4,403.2V408.0M533.5,403.2h3.8M533.5,408.0h3.8M537.8,403.1V408.9M535.9,403.1h3.8M535.9,408.9h3.8M540.1,403.6V408.7M538.2,403.6h3.8M538.2,408.7h3.8M542.4,404.1V408.3M540.5,404.1h3.8M540.5,408.3h3.8M544.7,402.9V407.9M542.8,402.9h3.8M542.8,407.9h3.8M547.0,401.7V407.9M545.1,401.7h3.8M545.1,407.9h3.8M549.3,401.0V406.8M547.4,401.0h3.8M547.4,406.8h3.8M551.6,401.5V406.6M549.8,401.5h3.8M549.8,406.6h3.8M554.0,401.6V407.2M552.1,401.6h3.8M552.1,407.2h3.8M556.3,401.5V407.6M554.4,401.5h3.8M554.4,407.6h3.8M558.6,400.7V406.8M556.7,400.7h3.8M556.7,406.8h3.8M560.9,400.9V407.2M559.0,400.9h3.8M559.0,407.2h3.8M563.2,401.3V407.9M561.3,401.3h3.8M561.3,407.9h3.8M565.5,401.6V407.7M563.6,401.6h3.8M563.6,407.7h3.8M567.9,401.1V407.1M566.0,401.1h3.8M566.0,407.1h3.8M570.2,399.4V406.7M568.3,399.4h3.8M568.3,406.7h3.8M572.5,399.7V407.7M570.6,399.7h3.8M570.6,407.7h3.8M574.8,399.6V406.3M572.9,399.6h3.8M572.9,406.3h3.8M577.1,399.4V405.4M575.2,399.4h3.8M575.2,405.4h3.8M579.4,398.9V406.7M577.5,398.9h3.8M577.5,406.7h3.8M581.8,397.9V406.7M579.9,397.9h3.8M579.9,406.7h3.8M584.1,397.2V404.9M582.2,397.2h3.8M582.2,404.9h3.8M586.4,397.3V404.2M584.5,397.3h3.8M584.5,404.2h3.8M588.7,397.3V405.3M586.8,397.3h3.8M586.8,405.3h3.8M591.0,396.0V404.8M589.1,396.0h3.8M589.1,404.8h3.8M593.3,395.1V403.6M591.4,395.1h3.8M591.4,403.6h3.8M595.7,395.8V404.5M593.8,395.8h3.8M593.8,404.5h3.8M598.0,396.3V405.3M596.1,396.3h3.8M596.1,405.3h3.8M600.3,395.9V404.3M598.4,395.9h3.8M598.4,404.3h3.8M602.6,394.7V403.5M600.7,394.7h3.8M600.7,403.5h3.8M604.9,393.5V404.1M603.0,393.5h3.8M603.0,404.1h3.8M607.2,394.2V404.7M605.3,394.2h3.8M605.3,404.7h3.8M609.6,394.4V403.0M607.7,394.4h3.8M607.7,403.0h3.8M611.9,394.4V403.2M610.0,394.4h3.8M610.0,403.2h3.8M614.2,392.9V404.4M612.3,392.9h3.8M612.3,404.4h3.8M616.5,392.7V404.6M614.6,392.7h3.8M614.6,404.6h3.8M618.8,393.0V402.7M616.9,393.0h3.8M616.9,402.7h3.8M621.1,392.8V402.4M619.2,392.8h3.8M619.2,402.4h3.8M623.5,391.8V403.6M621.6,391.8h3.8M621.6,403.6h3.8M625.8,390.2V402.5M623.9,390.2h3.8M623.9,402.5h3.8M628.1,389.7V401.1M626.2,389.7h3.8M626.2,401.1h3.8M630.4,390.9V402.5M628.5,390.9h3.8M628.5,402.5h3.8M632.7,391.3V403.3M630.8,391.3h3.8M630.8,403.3h3.8M635.0,389.8V401.5M633.1,389.8h3.8M633.1,401.5h3.8M637.4,387.9V400.6M635.5,387.9h3.8M635.5,400.6h3.8M639.7,387.9V402.2M637.8,387.9h3.8M637.8,402.2h3.8M642.0,388.9V402.2M640.1,388.9h3.8M640.1,402.2h3.8M644.3,389.1V400.4M642.4,389.1h3.8M642.4,400.4h3.8M646.6,387.3V400.4M644.7,387.3h3.8M644.7,400.4h3.8M648.9,385.4V401.7M647.0,385.4h3.8M647.0,401.7h3.8M651.2,385.8V400.9M649.3,385.8h3.8M649.3,400.9h3.8M653.6,386.7V398.8M651.7,386.7h3.8M651.7,398.8h3.8M655.9,386.0V399.5M654.0,386.0h3.8M654.0,399.5h3.8M658.2,384.1V400.7M656.3,384.1h3.8M656.3,400.7h3.8M660.5,382.1V398.4M658.6,382.1h3.8M658.6,398.4h3.8M662.8,383.1V397.7M660.9,383.1h3.8M660.9,397.7h3.8M665.1,383.8V399.1M663.2,383.8h3.8M663.2,399.1h3.8M667.5,383.8V400.0M665.6,383.8h3.8M665.6,400.0h3.8M669.8,381.7V397.8M667.9,381.7h3.8M667.9,397.8h3.8M672.1,380.0V397.2M670.2,380.0h3.8M670.2,397.2h3.8M674.4,381.6V399.9M672.5,381.6h3.8M672.5,399.9h3.8M676.7,382.4V398.8M674.8,382.4h3.8M674.8,398.8h3.8M679.0,380.8V396.0M677.1,380.8h3.8M677.1,396.0h3.8M681.4,377.9V396.5M679.5,377.9h3.8M679.5,396.5h3.8" fill="none" stroke-width="0.75"/><polyline fill="none" stroke-width="0.9" points="459.0,327.1 461.3,332.2 463.6,340.2 465.9,349.3 468.3,359.2 470.6,368.6 472.9,376.3 475.2,383.6 477.5,389.3 479.8,393.4 482.2,396.7 484.5,400.3 486.8,403.0 489.1,404.8 491.4,405.4 493.7,406.8 496.1,407.6 498.4,408.2 500.7,408.6 503.0,408.3 505.3,408.6 507.6,408.4 510.0,407.8 512.3,407.4 514.6,407.4 516.9,407.0 519.2,406.9 521.5,406.4 523.9,406.8 526.2,406.9 528.5,406.6 530.8,405.9 533.1,405.8 535.4,405.8 537.8,406.1 540.1,406.1 542.4,406.2 544.7,405.3 547.0,404.7 549.3,404.2 551.6,404.3 554.0,404.0 556.3,404.3 558.6,404.2 560.9,404.5 563.2,404.3 565.5,404.3 567.9,404.4 570.2,403.4 572.5,403.6 574.8,402.9 577.1,402.4 579.4,402.7 581.8,402.4 584.1,401.5 586.4,400.8 588.7,400.7 591.0,400.4 593.3,400.1 595.7,400.3 598.0,400.1 600.3,399.8 602.6,399.8 604.9,399.1 607.2,399.1 609.6,398.6 611.9,399.0 614.2,398.7 616.5,398.9 618.8,398.2 621.1,397.4 623.5,397.1 625.8,396.8 628.1,396.4 630.4,396.5 632.7,396.3 635.0,395.8 637.4,395.3 639.7,395.2 642.0,394.9 644.3,394.7 646.6,394.2 648.9,393.7 651.2,393.6 653.6,393.0 655.9,392.3 658.2,392.0 660.5,391.2 662.8,391.3 665.1,390.6 667.5,390.9 669.8,390.7 672.1,389.9 674.4,390.2 676.7,389.6 679.0,388.8 681.4,388.0"/><path d="M456.6,327.1a2.45,2.45 0 1,0 4.9,0a2.45,2.45 0 1,0 -4.9,0zM458.9,332.2a2.45,2.45 0 1,0 4.9,0a2.45,2.45 0 1,0 -4.9,0zM461.2,340.2a2.45,2.45 0 1,0 4.9,0a2.45,2.45 0 1,0 -4.9,0zM463.5,349.3a2.45,2.45 0 1,0 4.9,0a2.45,2.45 0 1,0 -4.9,0zM465.8,359.2a2.45,2.45 0 1,0 4.9,0a2.45,2.45 0 1,0 -4.9,0zM468.1,368.6a2.45,2.45 0 1,0 4.9,0a2.45,2.45 0 1,0 -4.9,0zM470.4,376.3a2.45,2.45 0 1,0 4.9,0a2.45,2.45 0 1,0 -4.9,0zM472.8,383.6a2.45,2.45 0 1,0 4.9,0a2.45,2.45 0 1,0 -4.9,0zM475.1,389.3a2.45,2.45 0 1,0 4.9,0a2.45,2.45 0 1,0 -4.9,0zM477.4,393.4a2.45,2.45 0 1,0 4.9,0a2.45,2.45 0 1,0 -4.9,0zM479.7,396.7a2.45,2.45 0 1,0 4.9,0a2.45,2.45 0 1,0 -4.9,0zM482.0,400.3a2.45,2.45 0 1,0 4.9,0a2.45,2.45 0 1,0 -4.9,0zM484.3,403.0a2.45,2.45 0 1,0 4.9,0a2.45,2.45 0 1,0 -4.9,0zM486.7,404.8a2.45,2.45 0 1,0 4.9,0a2.45,2.45 0 1,0 -4.9,0zM489.0,405.4a2.45,2.45 0 1,0 4.9,0a2.45,2.45 0 1,0 -4.9,0zM491.3,406.8a2.45,2.45 0 1,0 4.9,0a2.45,2.45 0 1,0 -4.9,0zM493.6,407.6a2.45,2.45 0 1,0 4.9,0a2.45,2.45 0 1,0 -4.9,0zM495.9,408.2a2.45,2.45 0 1,0 4.9,0a2.45,2.45 0 1,0 -4.9,0zM498.2,408.6a2.45,2.45 0 1,0 4.9,0a2.45,2.45 0 1,0 -4.9,0zM500.6,408.3a2.45,2.45 0 1,0 4.9,0a2.45,2.45 0 1,0 -4.9,0zM502.9,408.6a2.45,2.45 0 1,0 4.9,0a2.45,2.45 0 1,0 -4.9,0zM505.2,408.4a2.45,2.45 0 1,0 4.9,0a2.45,2.45 0 1,0 -4.9,0zM507.5,407.8a2.45,2.45 0 1,0 4.9,0a2.45,2.45 0 1,0 -4.9,0zM509.8,407.4a2.45,2.45 0 1,0 4.9,0a2.45,2.45 0 1,0 -4.9,0zM512.1,407.4a2.45,2.45 0 1,0 4.9,0a2.45,2.45 0 1,0 -4.9,0zM514.5,407.0a2.45,2.45 0 1,0 4.9,0a2.45,2.45 0 1,0 -4.9,0zM516.8,406.9a2.45,2.45 0 1,0 4.9,0a2.45,2.45 0 1,0 -4.9,0zM519.1,406.4a2.45,2.45 0 1,0 4.9,0a2.45,2.45 0 1,0 -4.9,0zM521.4,406.8a2.45,2.45 0 1,0 4.9,0a2.45,2.45 0 1,0 -4.9,0zM523.7,406.9a2.45,2.45 0 1,0 4.9,0a2.45,2.45 0 1,0 -4.9,0zM526.0,406.6a2.45,2.45 0 1,0 4.9,0a2.45,2.45 0 1,0 -4.9,0zM528.4,405.9a2.45,2.45 0 1,0 4.9,0a2.45,2.45 0 1,0 -4.9,0zM530.7,405.8a2.45,2.45 0 1,0 4.9,0a2.45,2.45 0 1,0 -4.9,0zM533.0,405.8a2.45,2.45 0 1,0 4.9,0a2.45,2.45 0 1,0 -4.9,0zM535.3,406.1a2.45,2.45 0 1,0 4.9,0a2.45,2.45 0 1,0 -4.9,0zM537.6,406.1a2.45,2.45 0 1,0 4.9,0a2.45,2.45 0 1,0 -4.9,0zM539.9,406.2a2.45,2.45 0 1,0 4.9,0a2.45,2.45 0 1,0 -4.9,0zM542.3,405.3a2.45,2.45 0 1,0 4.9,0a2.45,2.45 0 1,0 -4.9,0zM544.6,404.7a2.45,2.45 0 1,0 4.9,0a2.45,2.45 0 1,0 -4.9,0zM546.9,404.2a2.45,2.45 0 1,0 4.9,0a2.45,2.45 0 1,0 -4.9,0zM549.2,404.3a2.45,2.45 0 1,0 4.9,0a2.45,2.45 0 1,0 -4.9,0zM551.5,404.0a2.45,2.45 0 1,0 4.9,0a2.45,2.45 0 1,0 -4.9,0zM553.8,404.3a2.45,2.45 0 1,0 4.9,0a2.45,2.45 0 1,0 -4.9,0zM556.1,404.2a2.45,2.45 0 1,0 4.9,0a2.45,2.45 0 1,0 -4.9,0zM558.5,404.5a2.45,2.45 0 1,0 4.9,0a2.45,2.45 0 1,0 -4.9,0zM560.8,404.3a2.45,2.45 0 1,0 4.9,0a2.45,2.45 0 1,0 -4.9,0zM563.1,404.3a2.45,2.45 0 1,0 4.9,0a2.45,2.45 0 1,0 -4.9,0zM565.4,404.4a2.45,2.45 0 1,0 4.9,0a2.45,2.45 0 1,0 -4.9,0zM567.7,403.4a2.45,2.45 0 1,0 4.9,0a2.45,2.45 0 1,0 -4.9,0zM570.0,403.6a2.45,2.45 0 1,0 4.9,0a2.45,2.45 0 1,0 -4.9,0zM572.4,402.9a2.45,2.45 0 1,0 4.9,0a2.45,2.45 0 1,0 -4.9,0zM574.7,402.4a2.45,2.45 0 1,0 4.9,0a2.45,2.45 0 1,0 -4.9,0zM577.0,402.7a2.45,2.45 0 1,0 4.9,0a2.45,2.45 0 1,0 -4.9,0zM579.3,402.4a2.45,2.45 0 1,0 4.9,0a2.45,2.45 0 1,0 -4.9,0zM581.6,401.5a2.45,2.45 0 1,0 4.9,0a2.45,2.45 0 1,0 -4.9,0zM583.9,400.8a2.45,2.45 0 1,0 4.9,0a2.45,2.45 0 1,0 -4.9,0zM586.3,400.7a2.45,2.45 0 1,0 4.9,0a2.45,2.45 0 1,0 -4.9,0zM588.6,400.4a2.45,2.45 0 1,0 4.9,0a2.45,2.45 0 1,0 -4.9,0zM590.9,400.1a2.45,2.45 0 1,0 4.9,0a2.45,2.45 0 1,0 -4.9,0zM593.2,400.3a2.45,2.45 0 1,0 4.9,0a2.45,2.45 0 1,0 -4.9,0zM595.5,400.1a2.45,2.45 0 1,0 4.9,0a2.45,2.45 0 1,0 -4.9,0zM597.8,399.8a2.45,2.45 0 1,0 4.9,0a2.45,2.45 0 1,0 -4.9,0zM600.2,399.8a2.45,2.45 0 1,0 4.9,0a2.45,2.45 0 1,0 -4.9,0zM602.5,399.1a2.45,2.45 0 1,0 4.9,0a2.45,2.45 0 1,0 -4.9,0zM604.8,399.1a2.45,2.45 0 1,0 4.9,0a2.45,2.45 0 1,0 -4.9,0zM607.1,398.6a2.45,2.45 0 1,0 4.9,0a2.45,2.45 0 1,0 -4.9,0zM609.4,399.0a2.45,2.45 0 1,0 4.9,0a2.45,2.45 0 1,0 -4.9,0zM611.7,398.7a2.45,2.45 0 1,0 4.9,0a2.45,2.45 0 1,0 -4.9,0zM614.1,398.9a2.45,2.45 0 1,0 4.9,0a2.45,2.45 0 1,0 -4.9,0zM616.4,398.2a2.45,2.45 0 1,0 4.9,0a2.45,2.45 0 1,0 -4.9,0zM618.7,397.4a2.45,2.45 0 1,0 4.9,0a2.45,2.45 0 1,0 -4.9,0zM621.0,397.1a2.45,2.45 0 1,0 4.9,0a2.45,2.45 0 1,0 -4.9,0zM623.3,396.8a2.45,2.45 0 1,0 4.9,0a2.45,2.45 0 1,0 -4.9,0zM625.6,396.4a2.45,2.45 0 1,0 4.9,0a2.45,2.45 0 1,0 -4.9,0zM628.0,396.5a2.45,2.45 0 1,0 4.9,0a2.45,2.45 0 1,0 -4.9,0zM630.3,396.3a2.45,2.45 0 1,0 4.9,0a2.45,2.45 0 1,0 -4.9,0zM632.6,395.8a2.45,2.45 0 1,0 4.9,0a2.45,2.45 0 1,0 -4.9,0zM634.9,395.3a2.45,2.45 0 1,0 4.9,0a2.45,2.45 0 1,0 -4.9,0zM637.2,395.2a2.45,2.45 0 1,0 4.9,0a2.45,2.45 0 1,0 -4.9,0zM639.5,394.9a2.45,2.45 0 1,0 4.9,0a2.45,2.45 0 1,0 -4.9,0zM641.8,394.7a2.45,2.45 0 1,0 4.9,0a2.45,2.45 0 1,0 -4.9,0zM644.2,394.2a2.45,2.45 0 1,0 4.9,0a2.45,2.45 0 1,0 -4.9,0zM646.5,393.7a2.45,2.45 0 1,0 4.9,0a2.45,2.45 0 1,0 -4.9,0zM648.8,393.6a2.45,2.45 0 1,0 4.9,0a2.45,2.45 0 1,0 -4.9,0zM651.1,393.0a2.45,2.45 0 1,0 4.9,0a2.45,2.45 0 1,0 -4.9,0zM653.4,392.3a2.45,2.45 0 1,0 4.9,0a2.45,2.45 0 1,0 -4.9,0zM655.7,392.0a2.45,2.45 0 1,0 4.9,0a2.45,2.45 0 1,0 -4.9,0zM658.1,391.2a2.45,2.45 0 1,0 4.9,0a2.45,2.45 0 1,0 -4.9,0zM660.4,391.3a2.45,2.45 0 1,0 4.9,0a2.45,2.45 0 1,0 -4.9,0zM662.7,390.6a2.45,2.45 0 1,0 4.9,0a2.45,2.45 0 1,0 -4.9,0zM665.0,390.9a2.45,2.45 0 1,0 4.9,0a2.45,2.45 0 1,0 -4.9,0zM667.3,390.7a2.45,2.45 0 1,0 4.9,0a2.45,2.45 0 1,0 -4.9,0zM669.6,389.9a2.45,2.45 0 1,0 4.9,0a2.45,2.45 0 1,0 -4.9,0zM672.0,390.2a2.45,2.45 0 1,0 4.9,0a2.45,2.45 0 1,0 -4.9,0zM674.3,389.6a2.45,2.45 0 1,0 4.9,0a2.45,2.45 0 1,0 -4.9,0zM676.6,388.8a2.45,2.45 0 1,0 4.9,0a2.45,2.45 0 1,0 -4.9,0zM678.9,388.0a2.45,2.45 0 1,0 4.9,0a2.45,2.45 0 1,0 -4.9,0z" stroke-width="1.3"/></g>
<g stroke="#ff8022" stroke-width="0.9" fill="#ff8022"><path d="M459.0,321.0V327.3M457.1,321.0h3.8M457.1,327.3h3.8M461.3,331.3V337.8M459.4,331.3h3.8M459.4,337.8h3.8M463.6,344.3V349.7M461.7,344.3h3.8M461.7,349.7h3.8M465.9,356.8V362.0M464.0,356.8h3.8M464.0,362.0h3.8M468.3,367.0V373.9M466.4,367.0h3.8M466.4,373.9h3.8M470.6,375.8V383.3M468.7,375.8h3.8M468.7,383.3h3.8M472.9,384.2V390.5M471.0,384.2h3.8M471.0,390.5h3.8M475.2,392.4V398.2M473.3,392.4h3.8M473.3,398.2h3.8M477.5,398.0V404.9M475.6,398.0h3.8M475.6,404.9h3.8M479.8,400.9V408.6M477.9,400.9h3.8M477.9,408.6h3.8M482.2,404.8V412.2M480.3,404.8h3.8M480.3,412.2h3.8M484.5,408.2V415.3M482.6,408.2h3.8M482.6,415.3h3.8M486.8,411.3V418.4M484.9,411.3h3.8M484.9,418.4h3.8M489.1,412.3V419.5M487.2,412.3h3.8M487.2,419.5h3.8M491.4,412.1V420.0M489.5,412.1h3.8M489.5,420.0h3.8M493.7,413.1V421.9M491.8,413.1h3.8M491.8,421.9h3.8M496.1,415.1V423.2M494.2,415.1h3.8M494.2,423.2h3.8M498.4,416.5V423.4M496.5,416.5h3.8M496.5,423.4h3.8M500.7,415.9V423.6M498.8,415.9h3.8M498.8,423.6h3.8M503.0,414.9V424.6M501.1,414.9h3.8M501.1,424.6h3.8M505.3,415.4V424.9M503.4,415.4h3.8M503.4,424.9h3.8M507.6,416.7V424.4M505.7,416.7h3.8M505.7,424.4h3.8M510.0,417.1V424.8M508.1,417.1h3.8M508.1,424.8h3.8M512.3,416.3V425.9M510.4,416.3h3.8M510.4,425.9h3.8M514.6,415.5V425.7M512.7,415.5h3.8M512.7,425.7h3.8M516.9,415.7V424.9M515.0,415.7h3.8M515.0,424.9h3.8M519.2,417.3V426.0M517.3,417.3h3.8M517.3,426.0h3.8M521.5,416.9V426.1M519.6,416.9h3.8M519.6,426.1h3.8M523.9,415.0V424.8M522.0,415.0h3.8M522.0,424.8h3.8M526.2,413.5V424.1M524.3,413.5h3.8M524.3,424.1h3.8M528.5,414.7V425.4M526.6,414.7h3.8M526.6,425.4h3.8M530.8,416.0V425.5M528.9,416.0h3.8M528.9,425.5h3.8M533.1,415.1V424.0M531.2,415.1h3.8M531.2,424.0h3.8M535.4,413.7V424.5M533.5,413.7h3.8M533.5,424.5h3.8M537.8,412.3V424.7M535.9,412.3h3.8M535.9,424.7h3.8M540.1,413.8V424.8M538.2,413.8h3.8M538.2,424.8h3.8M542.4,414.6V423.6M540.5,414.6h3.8M540.5,423.6h3.8M544.7,414.6V424.9M542.8,414.6h3.8M542.8,424.9h3.8M547.0,412.4V425.1M545.1,412.4h3.8M545.1,425.1h3.8M549.3,411.5V423.9M547.4,411.5h3.8M547.4,423.9h3.8M551.6,412.8V423.5M549.8,412.8h3.8M549.8,423.5h3.8M554.0,413.8V424.3M552.1,413.8h3.8M552.1,424.3h3.8M556.3,412.3V424.0M554.4,412.3h3.8M554.4,424.0h3.8M558.6,410.0V422.5M556.7,410.0h3.8M556.7,422.5h3.8M560.9,410.5V423.3M559.0,410.5h3.8M559.0,423.3h3.8M563.2,412.1V424.3M561.3,412.1h3.8M561.3,424.3h3.8M565.5,413.5V424.5M563.6,413.5h3.8M563.6,424.5h3.8M567.9,412.0V423.6M566.0,412.0h3.8M566.0,423.6h3.8M570.2,410.4V424.4M568.3,410.4h3.8M568.3,424.4h3.8M572.5,410.8V425.3M570.6,410.8h3.8M570.6,425.3h3.8M574.8,412.1V423.9M572.9,412.1h3.8M572.9,423.9h3.8M577.1,412.9V423.7M575.2,412.9h3.8M575.2,423.7h3.8M579.4,411.1V424.7M577.5,411.1h3.8M577.5,424.7h3.8M581.8,409.6V425.2M579.9,409.6h3.8M579.9,425.2h3.8M584.1,409.5V423.3M582.2,409.5h3.8M582.2,423.3h3.8M586.4,411.5V423.3M584.5,411.5h3.8M584.5,423.3h3.8M588.7,411.8V424.6M586.8,411.8h3.8M586.8,424.6h3.8M591.0,409.1V423.8M589.1,409.1h3.8M589.1,423.8h3.8M593.3,407.1V422.3M591.4,407.1h3.8M591.4,422.3h3.8M595.7,408.0V422.5M593.8,408.0h3.8M593.8,422.5h3.8M598.0,409.8V423.2M596.1,409.8h3.8M596.1,423.2h3.8M600.3,409.3V422.4M598.4,409.3h3.8M598.4,422.4h3.8M602.6,406.6V421.3M600.7,406.6h3.8M600.7,421.3h3.8M604.9,405.7V422.5M603.0,405.7h3.8M603.0,422.5h3.8M607.2,406.8V422.4M605.3,406.8h3.8M605.3,422.4h3.8M609.6,408.4V421.1M607.7,408.4h3.8M607.7,421.1h3.8M611.9,407.1V420.6M610.0,407.1h3.8M610.0,420.6h3.8M614.2,404.2V421.4M612.3,404.2h3.8M612.3,421.4h3.8M616.5,403.3V421.1M614.6,403.3h3.8M614.6,421.1h3.8M618.8,405.5V420.1M616.9,405.5h3.8M616.9,420.1h3.8M621.1,407.2V420.6M619.2,407.2h3.8M619.2,420.6h3.8M623.5,405.6V421.4M621.6,405.6h3.8M621.6,421.4h3.8M625.8,403.0V420.8M623.9,403.0h3.8M623.9,420.8h3.8M628.1,403.4V420.5M626.2,403.4h3.8M626.2,420.5h3.8M630.4,405.1V420.7M628.5,405.1h3.8M628.5,420.7h3.8M632.7,406.7V421.8M630.8,406.7h3.8M630.8,421.8h3.8M635.0,404.6V420.6M633.1,404.6h3.8M633.1,420.6h3.8M637.4,402.0V420.1M635.5,402.0h3.8M635.5,420.1h3.8M639.7,402.8V421.6M637.8,402.8h3.8M637.8,421.6h3.8M642.0,404.9V421.3M640.1,404.9h3.8M640.1,421.3h3.8M644.3,405.3V419.7M642.4,405.3h3.8M642.4,419.7h3.8M646.6,402.4V419.4M644.7,402.4h3.8M644.7,419.4h3.8M648.9,399.9V420.4M647.0,399.9h3.8M647.0,420.4h3.8M651.2,401.2V420.1M649.3,401.2h3.8M649.3,420.1h3.8M653.6,403.6V418.8M651.7,403.6h3.8M651.7,418.8h3.8M655.9,403.1V419.0M654.0,403.1h3.8M654.0,419.0h3.8M658.2,400.2V419.7M656.3,400.2h3.8M656.3,419.7h3.8M660.5,397.9V418.3M658.6,397.9h3.8M658.6,418.3h3.8M662.8,400.2V418.4M660.9,400.2h3.8M660.9,418.4h3.8M665.1,402.5V419.3M663.2,402.5h3.8M663.2,419.3h3.8M667.5,402.3V419.8M665.6,402.3h3.8M665.6,419.8h3.8M669.8,399.4V418.7M667.9,399.4h3.8M667.9,418.7h3.8M672.1,397.9V418.7M670.2,397.9h3.8M670.2,418.7h3.8M674.4,400.1V420.1M672.5,400.1h3.8M672.5,420.1h3.8M676.7,402.7V419.8M674.8,402.7h3.8M674.8,419.8h3.8M679.0,401.4V418.4M677.1,401.4h3.8M677.1,418.4h3.8M681.4,398.0V419.0M679.5,398.0h3.8M679.5,419.0h3.8" fill="none" stroke-width="0.75"/><polyline fill="none" stroke-width="0.9" points="459.0,324.9 461.3,334.9 463.6,347.3 465.9,359.9 468.3,371.1 470.6,380.4 472.9,388.3 475.2,395.8 477.5,401.8 479.8,405.8 482.2,410.0 484.5,412.6 486.8,415.2 489.1,416.7 491.4,417.7 493.7,418.8 496.1,419.9 498.4,420.8 500.7,421.1 503.0,421.3 505.3,421.7 507.6,421.9 510.0,422.0 512.3,422.3 514.6,422.6 516.9,422.4 519.2,422.7 521.5,422.4 523.9,421.8 526.2,421.4 528.5,421.8 530.8,421.8 533.1,421.2 535.4,421.4 537.8,420.8 540.1,421.3 542.4,420.8 544.7,421.4 547.0,421.0 549.3,420.6 551.6,420.5 554.0,420.4 556.3,419.9 558.6,419.4 560.9,420.0 563.2,420.0 565.5,420.6 567.9,420.5 570.2,420.7 572.5,420.8 574.8,420.3 577.1,420.5 579.4,420.6 581.8,420.7 584.1,419.8 586.4,419.9 588.7,420.0 591.0,419.5 593.3,418.9 595.7,418.6 598.0,418.4 600.3,418.3 602.6,417.9 604.9,418.1 607.2,417.6 609.6,417.3 611.9,416.9 614.2,416.5 616.5,416.3 618.8,416.5 621.1,416.6 623.5,416.3 625.8,416.3 628.1,416.9 630.4,416.2 632.7,416.5 635.0,416.3 637.4,416.2 639.7,416.5 642.0,416.1 644.3,415.8 646.6,415.2 648.9,415.0 651.2,415.2 653.6,414.9 655.9,414.2 658.2,414.1 660.5,413.7 662.8,414.4 665.1,414.0 667.5,414.2 669.8,414.4 672.1,414.3 674.4,414.3 676.7,414.4 679.0,414.3 681.4,414.1"/><path d="M459.0,323.0l1.9,1.9l-1.9,1.9l-1.9,-1.9zM461.3,333.0l1.9,1.9l-1.9,1.9l-1.9,-1.9zM463.6,345.4l1.9,1.9l-1.9,1.9l-1.9,-1.9zM465.9,358.0l1.9,1.9l-1.9,1.9l-1.9,-1.9zM468.3,369.2l1.9,1.9l-1.9,1.9l-1.9,-1.9zM470.6,378.5l1.9,1.9l-1.9,1.9l-1.9,-1.9zM472.9,386.4l1.9,1.9l-1.9,1.9l-1.9,-1.9zM475.2,393.9l1.9,1.9l-1.9,1.9l-1.9,-1.9zM477.5,399.9l1.9,1.9l-1.9,1.9l-1.9,-1.9zM479.8,403.9l1.9,1.9l-1.9,1.9l-1.9,-1.9zM482.2,408.1l1.9,1.9l-1.9,1.9l-1.9,-1.9zM484.5,410.7l1.9,1.9l-1.9,1.9l-1.9,-1.9zM486.8,413.3l1.9,1.9l-1.9,1.9l-1.9,-1.9zM489.1,414.8l1.9,1.9l-1.9,1.9l-1.9,-1.9zM491.4,415.8l1.9,1.9l-1.9,1.9l-1.9,-1.9zM493.7,416.9l1.9,1.9l-1.9,1.9l-1.9,-1.9zM496.1,418.0l1.9,1.9l-1.9,1.9l-1.9,-1.9zM498.4,418.9l1.9,1.9l-1.9,1.9l-1.9,-1.9zM500.7,419.2l1.9,1.9l-1.9,1.9l-1.9,-1.9zM503.0,419.4l1.9,1.9l-1.9,1.9l-1.9,-1.9zM505.3,419.8l1.9,1.9l-1.9,1.9l-1.9,-1.9zM507.6,420.0l1.9,1.9l-1.9,1.9l-1.9,-1.9zM510.0,420.1l1.9,1.9l-1.9,1.9l-1.9,-1.9zM512.3,420.4l1.9,1.9l-1.9,1.9l-1.9,-1.9zM514.6,420.7l1.9,1.9l-1.9,1.9l-1.9,-1.9zM516.9,420.5l1.9,1.9l-1.9,1.9l-1.9,-1.9zM519.2,420.8l1.9,1.9l-1.9,1.9l-1.9,-1.9zM521.5,420.5l1.9,1.9l-1.9,1.9l-1.9,-1.9zM523.9,419.9l1.9,1.9l-1.9,1.9l-1.9,-1.9zM526.2,419.5l1.9,1.9l-1.9,1.9l-1.9,-1.9zM528.5,419.9l1.9,1.9l-1.9,1.9l-1.9,-1.9zM530.8,419.9l1.9,1.9l-1.9,1.9l-1.9,-1.9zM533.1,419.3l1.9,1.9l-1.9,1.9l-1.9,-1.9zM535.4,419.5l1.9,1.9l-1.9,1.9l-1.9,-1.9zM537.8,418.9l1.9,1.9l-1.9,1.9l-1.9,-1.9zM540.1,419.4l1.9,1.9l-1.9,1.9l-1.9,-1.9zM542.4,418.9l1.9,1.9l-1.9,1.9l-1.9,-1.9zM544.7,419.5l1.9,1.9l-1.9,1.9l-1.9,-1.9zM547.0,419.1l1.9,1.9l-1.9,1.9l-1.9,-1.9zM549.3,418.7l1.9,1.9l-1.9,1.9l-1.9,-1.9zM551.6,418.6l1.9,1.9l-1.9,1.9l-1.9,-1.9zM554.0,418.5l1.9,1.9l-1.9,1.9l-1.9,-1.9zM556.3,418.0l1.9,1.9l-1.9,1.9l-1.9,-1.9zM558.6,417.5l1.9,1.9l-1.9,1.9l-1.9,-1.9zM560.9,418.1l1.9,1.9l-1.9,1.9l-1.9,-1.9zM563.2,418.1l1.9,1.9l-1.9,1.9l-1.9,-1.9zM565.5,418.7l1.9,1.9l-1.9,1.9l-1.9,-1.9zM567.9,418.6l1.9,1.9l-1.9,1.9l-1.9,-1.9zM570.2,418.8l1.9,1.9l-1.9,1.9l-1.9,-1.9zM572.5,418.9l1.9,1.9l-1.9,1.9l-1.9,-1.9zM574.8,418.4l1.9,1.9l-1.9,1.9l-1.9,-1.9zM577.1,418.6l1.9,1.9l-1.9,1.9l-1.9,-1.9zM579.4,418.7l1.9,1.9l-1.9,1.9l-1.9,-1.9zM581.8,418.8l1.9,1.9l-1.9,1.9l-1.9,-1.9zM584.1,417.9l1.9,1.9l-1.9,1.9l-1.9,-1.9zM586.4,418.0l1.9,1.9l-1.9,1.9l-1.9,-1.9zM588.7,418.1l1.9,1.9l-1.9,1.9l-1.9,-1.9zM591.0,417.6l1.9,1.9l-1.9,1.9l-1.9,-1.9zM593.3,417.0l1.9,1.9l-1.9,1.9l-1.9,-1.9zM595.7,416.7l1.9,1.9l-1.9,1.9l-1.9,-1.9zM598.0,416.5l1.9,1.9l-1.9,1.9l-1.9,-1.9zM600.3,416.4l1.9,1.9l-1.9,1.9l-1.9,-1.9zM602.6,416.0l1.9,1.9l-1.9,1.9l-1.9,-1.9zM604.9,416.2l1.9,1.9l-1.9,1.9l-1.9,-1.9zM607.2,415.7l1.9,1.9l-1.9,1.9l-1.9,-1.9zM609.6,415.4l1.9,1.9l-1.9,1.9l-1.9,-1.9zM611.9,415.0l1.9,1.9l-1.9,1.9l-1.9,-1.9zM614.2,414.6l1.9,1.9l-1.9,1.9l-1.9,-1.9zM616.5,414.4l1.9,1.9l-1.9,1.9l-1.9,-1.9zM618.8,414.6l1.9,1.9l-1.9,1.9l-1.9,-1.9zM621.1,414.7l1.9,1.9l-1.9,1.9l-1.9,-1.9zM623.5,414.4l1.9,1.9l-1.9,1.9l-1.9,-1.9zM625.8,414.4l1.9,1.9l-1.9,1.9l-1.9,-1.9zM628.1,415.0l1.9,1.9l-1.9,1.9l-1.9,-1.9zM630.4,414.3l1.9,1.9l-1.9,1.9l-1.9,-1.9zM632.7,414.6l1.9,1.9l-1.9,1.9l-1.9,-1.9zM635.0,414.4l1.9,1.9l-1.9,1.9l-1.9,-1.9zM637.4,414.3l1.9,1.9l-1.9,1.9l-1.9,-1.9zM639.7,414.6l1.9,1.9l-1.9,1.9l-1.9,-1.9zM642.0,414.2l1.9,1.9l-1.9,1.9l-1.9,-1.9zM644.3,413.9l1.9,1.9l-1.9,1.9l-1.9,-1.9zM646.6,413.3l1.9,1.9l-1.9,1.9l-1.9,-1.9zM648.9,413.1l1.9,1.9l-1.9,1.9l-1.9,-1.9zM651.2,413.3l1.9,1.9l-1.9,1.9l-1.9,-1.9zM653.6,413.0l1.9,1.9l-1.9,1.9l-1.9,-1.9zM655.9,412.3l1.9,1.9l-1.9,1.9l-1.9,-1.9zM658.2,412.2l1.9,1.9l-1.9,1.9l-1.9,-1.9zM660.5,411.8l1.9,1.9l-1.9,1.9l-1.9,-1.9zM662.8,412.5l1.9,1.9l-1.9,1.9l-1.9,-1.9zM665.1,412.1l1.9,1.9l-1.9,1.9l-1.9,-1.9zM667.5,412.3l1.9,1.9l-1.9,1.9l-1.9,-1.9zM669.8,412.5l1.9,1.9l-1.9,1.9l-1.9,-1.9zM672.1,412.4l1.9,1.9l-1.9,1.9l-1.9,-1.9zM674.4,412.4l1.9,1.9l-1.9,1.9l-1.9,-1.9zM676.7,412.5l1.9,1.9l-1.9,1.9l-1.9,-1.9zM679.0,412.4l1.9,1.9l-1.9,1.9l-1.9,-1.9zM681.4,412.2l1.9,1.9l-1.9,1.9l-1.9,-1.9z" stroke-width="0.7"/></g>
<g stroke="#ff33ff" stroke-width="0.9" fill="#ff33ff"><path d="M459.0,329.5V333.3M457.1,329.5h3.8M457.1,333.3h3.8M461.3,347.2V351.2M459.4,347.2h3.8M459.4,351.2h3.8M463.6,362.2V365.5M461.7,362.2h3.8M461.7,365.5h3.8M465.9,374.2V377.4M464.0,374.2h3.8M464.0,377.4h3.8M468.3,384.5V388.7M466.4,384.5h3.8M466.4,388.7h3.8M470.6,392.5V397.0M468.7,392.5h3.8M468.7,397.0h3.8M472.9,399.9V403.6M471.0,399.9h3.8M471.0,403.6h3.8M475.2,406.2V409.7M473.3,406.2h3.8M473.3,409.7h3.8M477.5,410.5V414.7M475.6,410.5h3.8M475.6,414.7h3.8M479.8,413.2V417.7M477.9,413.2h3.8M477.9,417.7h3.8M482.2,416.3V420.5M480.3,416.3h3.8M480.3,420.5h3.8M484.5,418.6V422.8M482.6,418.6h3.8M482.6,422.8h3.8M486.8,420.9V425.2M484.9,420.9h3.8M484.9,425.2h3.8M489.1,422.3V426.6M487.2,422.3h3.8M487.2,426.6h3.8M491.4,422.8V427.3M489.5,422.8h3.8M489.5,427.3h3.8M493.7,423.7V428.7M491.8,423.7h3.8M491.8,428.7h3.8M496.1,424.7V429.6M494.2,424.7h3.8M494.2,429.6h3.8M498.4,424.9V429.0M496.5,424.9h3.8M496.5,429.0h3.8M500.7,424.5V428.9M498.8,424.5h3.8M498.8,428.9h3.8M503.0,424.8V430.4M501.1,424.8h3.8M501.1,430.4h3.8M505.3,424.6V430.0M503.4,424.6h3.8M503.4,430.0h3.8M507.6,425.3V429.7M505.7,425.3h3.8M505.7,429.7h3.8M510.0,425.2V429.7M508.1,425.2h3.8M508.1,429.7h3.8M512.3,424.7V430.3M510.4,424.7h3.8M510.4,430.3h3.8M514.6,424.5V430.3M512.7,424.5h3.8M512.7,430.3h3.8M516.9,425.3V430.4M515.0,425.3h3.8M515.0,430.4h3.8M519.2,425.4V430.5M517.3,425.4h3.8M517.3,430.5h3.8M521.5,425.0V430.5M519.6,425.0h3.8M519.6,430.5h3.8M523.9,424.5V430.0M522.0,424.5h3.8M522.0,430.0h3.8M526.2,424.8V430.5M524.3,424.8h3.8M524.3,430.5h3.8M528.5,424.8V430.9M526.6,424.8h3.8M526.6,430.9h3.8M530.8,425.1V430.7M528.9,425.1h3.8M528.9,430.7h3.8M533.1,424.7V429.6M531.2,424.7h3.8M531.2,429.6h3.8M535.4,423.6V429.5M533.5,423.6h3.8M533.5,429.5h3.8M537.8,423.0V430.0M535.9,423.0h3.8M535.9,430.0h3.8M540.1,423.5V429.7M538.2,423.5h3.8M538.2,429.7h3.8M542.4,424.5V429.5M540.5,424.5h3.8M540.5,429.5h3.8M544.7,424.3V430.2M542.8,424.3h3.8M542.8,430.2h3.8M547.0,423.6V430.8M545.1,423.6h3.8M545.1,430.8h3.8M549.3,423.2V429.8M547.4,423.2h3.8M547.4,429.8h3.8M551.6,423.7V429.5M549.8,423.7h3.8M549.8,429.5h3.8M554.0,423.8V430.0M552.1,423.8h3.8M552.1,430.0h3.8M556.3,423.5V430.2M554.4,423.5h3.8M554.4,430.2h3.8M558.6,422.7V429.4M556.7,422.7h3.8M556.7,429.4h3.8M560.9,422.1V429.0M559.0,422.1h3.8M559.0,429.0h3.8M563.2,422.6V429.7M561.3,422.6h3.8M561.3,429.7h3.8M565.5,422.7V429.0M563.6,422.7h3.8M563.6,429.0h3.8M567.9,422.1V428.3M566.0,422.1h3.8M566.0,428.3h3.8M570.2,422.0V429.5M568.3,422.0h3.8M568.3,429.5h3.8M572.5,422.2V430.3M570.6,422.2h3.8M570.6,430.3h3.8M574.8,423.1V429.8M572.9,423.1h3.8M572.9,429.8h3.8M577.1,423.5V429.4M575.2,423.5h3.8M575.2,429.4h3.8M579.4,423.0V430.5M577.5,423.0h3.8M577.5,430.5h3.8M581.8,422.4V430.9M579.9,422.4h3.8M579.9,430.9h3.8M584.1,422.3V429.6M582.2,422.3h3.8M582.2,429.6h3.8M586.4,422.4V428.9M584.5,422.4h3.8M584.5,428.9h3.8M588.7,421.8V429.3M586.8,421.8h3.8M586.8,429.3h3.8M591.0,420.4V428.5M589.1,420.4h3.8M589.1,428.5h3.8M593.3,419.8V427.6M591.4,419.8h3.8M591.4,427.6h3.8M595.7,420.9V428.7M593.8,420.9h3.8M593.8,428.7h3.8M598.0,421.9V429.8M596.1,421.9h3.8M596.1,429.8h3.8M600.3,422.0V429.4M598.4,422.0h3.8M598.4,429.4h3.8M602.6,420.2V427.9M600.7,420.2h3.8M600.7,427.9h3.8M604.9,419.8V428.8M603.0,419.8h3.8M603.0,428.8h3.8M607.2,420.0V428.8M605.3,420.0h3.8M605.3,428.8h3.8M609.6,420.6V427.7M607.7,420.6h3.8M607.7,427.7h3.8M611.9,420.0V427.3M610.0,420.0h3.8M610.0,427.3h3.8M614.2,418.5V427.8M612.3,418.5h3.8M612.3,427.8h3.8M616.5,418.0V427.6M614.6,418.0h3.8M614.6,427.6h3.8M618.8,419.3V427.0M616.9,419.3h3.8M616.9,427.0h3.8M621.1,419.6V427.0M619.2,419.6h3.8M619.2,427.0h3.8M623.5,419.1V428.1M621.6,419.1h3.8M621.6,428.1h3.8M625.8,417.3V426.7M623.9,417.3h3.8M623.9,426.7h3.8M628.1,417.5V426.2M626.2,417.5h3.8M626.2,426.2h3.8M630.4,418.6V427.2M628.5,418.6h3.8M628.5,427.2h3.8M632.7,418.3V427.1M630.8,418.3h3.8M630.8,427.1h3.8M635.0,417.6V426.1M633.1,417.6h3.8M633.1,426.1h3.8M637.4,417.0V426.1M635.5,417.0h3.8M635.5,426.1h3.8M639.7,416.5V426.6M637.8,416.5h3.8M637.8,426.6h3.8M642.0,416.8V426.1M640.1,416.8h3.8M640.1,426.1h3.8M644.3,417.1V424.9M642.4,417.1h3.8M642.4,424.9h3.8M646.6,416.5V425.5M644.7,416.5h3.8M644.7,425.5h3.8M648.9,415.0V426.0M647.0,415.0h3.8M647.0,426.0h3.8M651.2,415.5V425.6M649.3,415.5h3.8M649.3,425.6h3.8M653.6,416.7V424.8M651.7,416.7h3.8M651.7,424.8h3.8M655.9,417.0V425.9M654.0,417.0h3.8M654.0,425.9h3.8M658.2,415.1V425.9M656.3,415.1h3.8M656.3,425.9h3.8M660.5,414.5V425.0M658.6,414.5h3.8M658.6,425.0h3.8M662.8,415.3V424.6M660.9,415.3h3.8M660.9,424.6h3.8M665.1,416.0V425.5M663.2,416.0h3.8M663.2,425.5h3.8M667.5,415.2V425.2M665.6,415.2h3.8M665.6,425.2h3.8M669.8,413.2V423.1M667.9,413.2h3.8M667.9,423.1h3.8M672.1,412.9V423.4M670.2,412.9h3.8M670.2,423.4h3.8M674.4,413.4V424.4M672.5,413.4h3.8M672.5,424.4h3.8M676.7,414.5V424.1M674.8,414.5h3.8M674.8,424.1h3.8M679.0,413.3V422.3M677.1,413.3h3.8M677.1,422.3h3.8M681.4,412.0V422.9M679.5,412.0h3.8M679.5,422.9h3.8" fill="none" stroke-width="0.75"/><polyline fill="none" stroke-width="0.9" points="459.0,331.6 461.3,349.0 463.6,363.8 465.9,375.9 468.3,386.6 470.6,394.8 472.9,401.9 475.2,407.9 477.5,412.4 479.8,415.5 482.2,418.8 484.5,420.7 486.8,422.7 489.1,424.4 491.4,425.5 493.7,426.3 496.1,426.9 498.4,426.9 500.7,426.9 503.0,427.7 505.3,427.4 507.6,427.6 510.0,427.4 512.3,427.4 514.6,427.7 516.9,428.2 519.2,427.8 521.5,427.4 523.9,427.5 526.2,428.2 528.5,427.8 530.8,427.6 533.1,427.3 535.4,426.9 537.8,426.6 540.1,426.7 542.4,427.1 544.7,427.2 547.0,427.2 549.3,427.0 551.6,426.9 554.0,426.6 556.3,426.7 558.6,426.6 560.9,426.1 563.2,425.9 565.5,425.6 567.9,425.6 570.2,426.2 572.5,426.3 574.8,426.5 577.1,426.6 579.4,426.8 581.8,426.9 584.1,426.5 586.4,425.8 588.7,425.1 591.0,424.5 593.3,424.5 595.7,425.2 598.0,425.4 600.3,425.6 602.6,424.7 604.9,424.8 607.2,424.2 609.6,424.2 611.9,423.9 614.2,423.3 616.5,423.1 618.8,423.6 621.1,423.2 623.5,423.3 625.8,422.5 628.1,422.7 630.4,422.9 632.7,422.1 635.0,422.1 637.4,422.5 639.7,421.8 642.0,421.2 644.3,421.1 646.6,421.5 648.9,420.8 651.2,420.9 653.6,421.0 655.9,421.3 658.2,420.4 660.5,420.5 662.8,420.7 665.1,420.4 667.5,419.8 669.8,418.9 672.1,419.2 674.4,418.8 676.7,418.9 679.0,418.2 681.4,418.1"/><path d="M459.0,334.5l2.9,-5.2h-5.8zM461.3,351.9l2.9,-5.2h-5.8zM463.6,366.7l2.9,-5.2h-5.8zM465.9,378.8l2.9,-5.2h-5.8zM468.3,389.5l2.9,-5.2h-5.8zM470.6,397.7l2.9,-5.2h-5.8zM472.9,404.8l2.9,-5.2h-5.8zM475.2,410.8l2.9,-5.2h-5.8zM477.5,415.3l2.9,-5.2h-5.8zM479.8,418.4l2.9,-5.2h-5.8zM482.2,421.7l2.9,-5.2h-5.8zM484.5,423.6l2.9,-5.2h-5.8zM486.8,425.6l2.9,-5.2h-5.8zM489.1,427.3l2.9,-5.2h-5.8zM491.4,428.4l2.9,-5.2h-5.8zM493.7,429.2l2.9,-5.2h-5.8zM496.1,429.8l2.9,-5.2h-5.8zM498.4,429.8l2.9,-5.2h-5.8zM500.7,429.8l2.9,-5.2h-5.8zM503.0,430.6l2.9,-5.2h-5.8zM505.3,430.3l2.9,-5.2h-5.8zM507.6,430.5l2.9,-5.2h-5.8zM510.0,430.3l2.9,-5.2h-5.8zM512.3,430.3l2.9,-5.2h-5.8zM514.6,430.6l2.9,-5.2h-5.8zM516.9,431.1l2.9,-5.2h-5.8zM519.2,430.7l2.9,-5.2h-5.8zM521.5,430.3l2.9,-5.2h-5.8zM523.9,430.4l2.9,-5.2h-5.8zM526.2,431.1l2.9,-5.2h-5.8zM528.5,430.7l2.9,-5.2h-5.8zM530.8,430.5l2.9,-5.2h-5.8zM533.1,430.2l2.9,-5.2h-5.8zM535.4,429.8l2.9,-5.2h-5.8zM537.8,429.5l2.9,-5.2h-5.8zM540.1,429.6l2.9,-5.2h-5.8zM542.4,430.0l2.9,-5.2h-5.8zM544.7,430.1l2.9,-5.2h-5.8zM547.0,430.1l2.9,-5.2h-5.8zM549.3,429.9l2.9,-5.2h-5.8zM551.6,429.8l2.9,-5.2h-5.8zM554.0,429.5l2.9,-5.2h-5.8zM556.3,429.6l2.9,-5.2h-5.8zM558.6,429.5l2.9,-5.2h-5.8zM560.9,429.0l2.9,-5.2h-5.8zM563.2,428.8l2.9,-5.2h-5.8zM565.5,428.5l2.9,-5.2h-5.8zM567.9,428.5l2.9,-5.2h-5.8zM570.2,429.1l2.9,-5.2h-5.8zM572.5,429.2l2.9,-5.2h-5.8zM574.8,429.4l2.9,-5.2h-5.8zM577.1,429.5l2.9,-5.2h-5.8zM579.4,429.7l2.9,-5.2h-5.8zM581.8,429.8l2.9,-5.2h-5.8zM584.1,429.4l2.9,-5.2h-5.8zM586.4,428.7l2.9,-5.2h-5.8zM588.7,428.0l2.9,-5.2h-5.8zM591.0,427.4l2.9,-5.2h-5.8zM593.3,427.4l2.9,-5.2h-5.8zM595.7,428.1l2.9,-5.2h-5.8zM598.0,428.3l2.9,-5.2h-5.8zM600.3,428.5l2.9,-5.2h-5.8zM602.6,427.6l2.9,-5.2h-5.8zM604.9,427.7l2.9,-5.2h-5.8zM607.2,427.1l2.9,-5.2h-5.8zM609.6,427.1l2.9,-5.2h-5.8zM611.9,426.8l2.9,-5.2h-5.8zM614.2,426.2l2.9,-5.2h-5.8zM616.5,426.0l2.9,-5.2h-5.8zM618.8,426.5l2.9,-5.2h-5.8zM621.1,426.1l2.9,-5.2h-5.8zM623.5,426.2l2.9,-5.2h-5.8zM625.8,425.4l2.9,-5.2h-5.8zM628.1,425.6l2.9,-5.2h-5.8zM630.4,425.8l2.9,-5.2h-5.8zM632.7,425.0l2.9,-5.2h-5.8zM635.0,425.0l2.9,-5.2h-5.8zM637.4,425.4l2.9,-5.2h-5.8zM639.7,424.7l2.9,-5.2h-5.8zM642.0,424.1l2.9,-5.2h-5.8zM644.3,424.0l2.9,-5.2h-5.8zM646.6,424.4l2.9,-5.2h-5.8zM648.9,423.7l2.9,-5.2h-5.8zM651.2,423.8l2.9,-5.2h-5.8zM653.6,423.9l2.9,-5.2h-5.8zM655.9,424.2l2.9,-5.2h-5.8zM658.2,423.3l2.9,-5.2h-5.8zM660.5,423.4l2.9,-5.2h-5.8zM662.8,423.6l2.9,-5.2h-5.8zM665.1,423.3l2.9,-5.2h-5.8zM667.5,422.7l2.9,-5.2h-5.8zM669.8,421.8l2.9,-5.2h-5.8zM672.1,422.1l2.9,-5.2h-5.8zM674.4,421.7l2.9,-5.2h-5.8zM676.7,421.8l2.9,-5.2h-5.8zM679.0,421.1l2.9,-5.2h-5.8zM681.4,421.0l2.9,-5.2h-5.8z" stroke-width="0.7"/></g>
<g stroke="#33ee33" stroke-width="0.9" fill="#33ee33"><path d="M459.0,332.0V335.6M457.1,332.0h3.8M457.1,335.6h3.8M461.3,362.2V365.9M459.4,362.2h3.8M459.4,365.9h3.8M463.6,384.1V387.2M461.7,384.1h3.8M461.7,387.2h3.8M465.9,397.7V400.7M464.0,397.7h3.8M464.0,400.7h3.8M468.3,406.8V410.6M466.4,406.8h3.8M466.4,410.6h3.8M470.6,414.0V418.2M468.7,414.0h3.8M468.7,418.2h3.8M472.9,418.5V421.9M471.0,418.5h3.8M471.0,421.9h3.8M475.2,421.6V424.8M473.3,421.6h3.8M473.3,424.8h3.8M477.5,424.1V428.0M475.6,424.1h3.8M475.6,428.0h3.8M479.8,424.6V428.8M477.9,424.6h3.8M477.9,428.8h3.8M482.2,425.8V429.6M480.3,425.8h3.8M480.3,429.6h3.8M484.5,426.9V430.7M482.6,426.9h3.8M482.6,430.7h3.8M486.8,427.5V431.5M484.9,427.5h3.8M484.9,431.5h3.8M489.1,427.4V431.3M487.2,427.4h3.8M487.2,431.3h3.8M491.4,427.0V431.0M489.5,427.0h3.8M489.5,431.0h3.8M493.7,427.5V432.1M491.8,427.5h3.8M491.8,432.1h3.8M496.1,428.0V432.4M494.2,428.0h3.8M494.2,432.4h3.8M498.4,428.7V432.4M496.5,428.7h3.8M496.5,432.4h3.8M500.7,428.6V432.5M498.8,428.6h3.8M498.8,432.5h3.8M503.0,428.0V433.0M501.1,428.0h3.8M501.1,433.0h3.8M505.3,428.4V433.3M503.4,428.4h3.8M503.4,433.3h3.8M507.6,428.8V432.7M505.7,428.8h3.8M505.7,432.7h3.8M510.0,428.3V432.3M508.1,428.3h3.8M508.1,432.3h3.8M512.3,428.2V433.2M510.4,428.2h3.8M510.4,433.2h3.8M514.6,427.6V432.7M512.7,427.6h3.8M512.7,432.7h3.8M516.9,428.2V432.7M515.0,428.2h3.8M515.0,432.7h3.8M519.2,428.1V432.6M517.3,428.1h3.8M517.3,432.6h3.8M521.5,428.5V433.3M519.6,428.5h3.8M519.6,433.3h3.8M523.9,428.1V432.8M522.0,428.1h3.8M522.0,432.8h3.8M526.2,427.1V432.1M524.3,427.1h3.8M524.3,432.1h3.8M528.5,427.3V432.7M526.6,427.3h3.8M526.6,432.7h3.8M530.8,427.6V432.5M528.9,427.6h3.8M528.9,432.5h3.8M533.1,427.2V431.6M531.2,427.2h3.8M531.2,431.6h3.8M535.4,426.6V431.8M533.5,426.6h3.8M533.5,431.8h3.8M537.8,426.4V432.5M535.9,426.4h3.8M535.9,432.5h3.8M540.1,427.1V432.5M538.2,427.1h3.8M538.2,432.5h3.8M542.4,427.8V432.1M540.5,427.8h3.8M540.5,432.1h3.8M544.7,427.6V432.7M542.8,427.6h3.8M542.8,432.7h3.8M547.0,427.0V433.2M545.1,427.0h3.8M545.1,433.2h3.8M549.3,426.7V432.4M547.4,426.7h3.8M547.4,432.4h3.8M551.6,426.4V431.4M549.8,426.4h3.8M549.8,431.4h3.8M554.0,427.0V432.3M552.1,427.0h3.8M552.1,432.3h3.8M556.3,426.9V432.7M554.4,426.9h3.8M554.4,432.7h3.8M558.6,426.2V431.9M556.7,426.2h3.8M556.7,431.9h3.8M560.9,426.3V432.2M559.0,426.3h3.8M559.0,432.2h3.8M563.2,426.1V432.2M561.3,426.1h3.8M561.3,432.2h3.8M565.5,425.7V431.2M563.6,425.7h3.8M563.6,431.2h3.8M567.9,424.9V430.2M566.0,424.9h3.8M566.0,430.2h3.8M570.2,423.9V430.2M568.3,423.9h3.8M568.3,430.2h3.8M572.5,424.1V431.0M570.6,424.1h3.8M570.6,431.0h3.8M574.8,424.9V430.6M572.9,424.9h3.8M572.9,430.6h3.8M577.1,425.3V430.3M575.2,425.3h3.8M575.2,430.3h3.8M579.4,424.5V430.9M577.5,424.5h3.8M577.5,430.9h3.8M581.8,424.2V431.5M579.9,424.2h3.8M579.9,431.5h3.8M584.1,424.3V430.5M582.2,424.3h3.8M582.2,430.5h3.8M586.4,425.0V430.5M584.5,425.0h3.8M584.5,430.5h3.8M588.7,424.7V431.1M586.8,424.7h3.8M586.8,431.1h3.8M591.0,423.5V430.4M589.1,423.5h3.8M589.1,430.4h3.8M593.3,422.9V429.4M591.4,422.9h3.8M591.4,429.4h3.8M595.7,423.8V430.4M593.8,423.8h3.8M593.8,430.4h3.8M598.0,424.2V430.9M596.1,424.2h3.8M596.1,430.9h3.8M600.3,423.7V430.0M598.4,423.7h3.8M598.4,430.0h3.8M602.6,422.9V429.4M600.7,422.9h3.8M600.7,429.4h3.8M604.9,423.1V430.6M603.0,423.1h3.8M603.0,430.6h3.8M607.2,423.9V431.3M605.3,423.9h3.8M605.3,431.3h3.8M609.6,424.1V430.1M607.7,424.1h3.8M607.7,430.1h3.8M611.9,423.4V429.5M610.0,423.4h3.8M610.0,429.5h3.8M614.2,422.4V430.3M612.3,422.4h3.8M612.3,430.3h3.8M616.5,421.8V429.8M614.6,421.8h3.8M614.6,429.8h3.8M618.8,422.4V428.8M616.9,422.4h3.8M616.9,428.8h3.8M621.1,422.5V428.7M619.2,422.5h3.8M619.2,428.7h3.8M623.5,422.4V430.0M621.6,422.4h3.8M621.6,430.0h3.8M625.8,421.1V429.0M623.9,421.1h3.8M623.9,429.0h3.8M628.1,420.8V428.0M626.2,420.8h3.8M626.2,428.0h3.8M630.4,422.1V429.3M628.5,422.1h3.8M628.5,429.3h3.8M632.7,422.6V430.1M630.8,422.6h3.8M630.8,430.1h3.8M635.0,422.1V429.2M633.1,422.1h3.8M633.1,429.2h3.8M637.4,420.7V428.3M635.5,420.7h3.8M635.5,428.3h3.8M639.7,420.5V429.0M637.8,420.5h3.8M637.8,429.0h3.8M642.0,421.8V429.5M640.1,421.8h3.8M640.1,429.5h3.8M644.3,421.5V428.0M642.4,421.5h3.8M642.4,428.0h3.8M646.6,420.9V428.3M644.7,420.9h3.8M644.7,428.3h3.8M648.9,419.5V428.7M647.0,419.5h3.8M647.0,428.7h3.8M651.2,420.1V428.5M649.3,420.1h3.8M649.3,428.5h3.8M653.6,421.2V427.9M651.7,421.2h3.8M651.7,427.9h3.8M655.9,421.2V428.6M654.0,421.2h3.8M654.0,428.6h3.8M658.2,420.1V429.0M656.3,420.1h3.8M656.3,429.0h3.8M660.5,419.3V428.0M658.6,419.3h3.8M658.6,428.0h3.8M662.8,419.5V427.2M660.9,419.5h3.8M660.9,427.2h3.8M665.1,420.6V428.5M663.2,420.6h3.8M663.2,428.5h3.8M667.5,420.4V428.7M665.6,420.4h3.8M665.6,428.7h3.8M669.8,419.7V427.8M667.9,419.7h3.8M667.9,427.8h3.8M672.1,418.2V426.8M670.2,418.2h3.8M670.2,426.8h3.8M674.4,418.7V427.8M672.5,418.7h3.8M672.5,427.8h3.8M676.7,419.5V427.6M674.8,419.5h3.8M674.8,427.6h3.8M679.0,419.3V426.7M677.1,419.3h3.8M677.1,426.7h3.8M681.4,417.9V426.9M679.5,417.9h3.8M679.5,426.9h3.8" fill="none" stroke-width="0.75"/><polyline fill="none" stroke-width="0.9" points="459.0,334.0 461.3,364.0 463.6,385.6 465.9,399.2 468.3,408.7 470.6,416.1 472.9,420.3 475.2,423.1 477.5,425.8 479.8,426.7 482.2,428.0 484.5,428.8 486.8,429.1 489.1,429.3 491.4,429.3 493.7,429.9 496.1,430.0 498.4,430.5 500.7,430.7 503.0,430.5 505.3,430.9 507.6,430.8 510.0,430.2 512.3,430.5 514.6,430.4 516.9,430.7 519.2,430.1 521.5,430.5 523.9,430.6 526.2,430.0 528.5,429.9 530.8,429.7 533.1,429.4 535.4,429.4 537.8,429.4 540.1,429.8 542.4,430.0 544.7,430.0 547.0,430.0 549.3,429.9 551.6,429.1 554.0,429.3 556.3,429.5 558.6,429.5 560.9,429.6 563.2,428.8 565.5,428.1 567.9,427.8 570.2,427.3 572.5,427.4 574.8,427.6 577.1,427.8 579.4,427.6 581.8,427.9 584.1,427.7 586.4,427.8 588.7,427.4 591.0,426.9 593.3,426.7 595.7,427.2 598.0,427.0 600.3,426.6 602.6,426.6 604.9,427.1 607.2,427.4 609.6,427.0 611.9,426.5 614.2,426.4 616.5,425.9 618.8,425.8 621.1,425.4 623.5,425.8 625.8,425.3 628.1,425.0 630.4,425.5 632.7,425.7 635.0,425.7 637.4,425.1 639.7,424.8 642.0,425.2 644.3,424.7 646.6,424.8 648.9,424.1 651.2,424.3 653.6,424.7 655.9,424.6 658.2,424.3 660.5,424.1 662.8,423.8 665.1,424.1 667.5,424.0 669.8,424.2 672.1,423.1 674.4,422.9 676.7,423.0 679.0,423.2 681.4,422.7"/><path d="M459.0,331.1l2.9,5.2h-5.8zM461.3,361.1l2.9,5.2h-5.8zM463.6,382.7l2.9,5.2h-5.8zM465.9,396.3l2.9,5.2h-5.8zM468.3,405.8l2.9,5.2h-5.8zM470.6,413.2l2.9,5.2h-5.8zM472.9,417.4l2.9,5.2h-5.8zM475.2,420.2l2.9,5.2h-5.8zM477.5,422.9l2.9,5.2h-5.8zM479.8,423.8l2.9,5.2h-5.8zM482.2,425.1l2.9,5.2h-5.8zM484.5,425.9l2.9,5.2h-5.8zM486.8,426.2l2.9,5.2h-5.8zM489.1,426.4l2.9,5.2h-5.8zM491.4,426.4l2.9,5.2h-5.8zM493.7,427.0l2.9,5.2h-5.8zM496.1,427.1l2.9,5.2h-5.8zM498.4,427.6l2.9,5.2h-5.8zM500.7,427.8l2.9,5.2h-5.8zM503.0,427.6l2.9,5.2h-5.8zM505.3,428.0l2.9,5.2h-5.8zM507.6,427.9l2.9,5.2h-5.8zM510.0,427.3l2.9,5.2h-5.8zM512.3,427.6l2.9,5.2h-5.8zM514.6,427.5l2.9,5.2h-5.8zM516.9,427.8l2.9,5.2h-5.8zM519.2,427.2l2.9,5.2h-5.8zM521.5,427.6l2.9,5.2h-5.8zM523.9,427.7l2.9,5.2h-5.8zM526.2,427.1l2.9,5.2h-5.8zM528.5,427.0l2.9,5.2h-5.8zM530.8,426.8l2.9,5.2h-5.8zM533.1,426.5l2.9,5.2h-5.8zM535.4,426.5l2.9,5.2h-5.8zM537.8,426.5l2.9,5.2h-5.8zM540.1,426.9l2.9,5.2h-5.8zM542.4,427.1l2.9,5.2h-5.8zM544.7,427.1l2.9,5.2h-5.8zM547.0,427.1l2.9,5.2h-5.8zM549.3,427.0l2.9,5.2h-5.8zM551.6,426.2l2.9,5.2h-5.8zM554.0,426.4l2.9,5.2h-5.8zM556.3,426.6l2.9,5.2h-5.8zM558.6,426.6l2.9,5.2h-5.8zM560.9,426.7l2.9,5.2h-5.8zM563.2,425.9l2.9,5.2h-5.8zM565.5,425.2l2.9,5.2h-5.8zM567.9,424.9l2.9,5.2h-5.8zM570.2,424.4l2.9,5.2h-5.8zM572.5,424.5l2.9,5.2h-5.8zM574.8,424.7l2.9,5.2h-5.8zM577.1,424.9l2.9,5.2h-5.8zM579.4,424.7l2.9,5.2h-5.8zM581.8,425.0l2.9,5.2h-5.8zM584.1,424.8l2.9,5.2h-5.8zM586.4,424.9l2.9,5.2h-5.8zM588.7,424.5l2.9,5.2h-5.8zM591.0,424.0l2.9,5.2h-5.8zM593.3,423.8l2.9,5.2h-5.8zM595.7,424.3l2.9,5.2h-5.8zM598.0,424.1l2.9,5.2h-5.8zM600.3,423.7l2.9,5.2h-5.8zM602.6,423.7l2.9,5.2h-5.8zM604.9,424.2l2.9,5.2h-5.8zM607.2,424.5l2.9,5.2h-5.8zM609.6,424.1l2.9,5.2h-5.8zM611.9,423.6l2.9,5.2h-5.8zM614.2,423.5l2.9,5.2h-5.8zM616.5,423.0l2.9,5.2h-5.8zM618.8,422.9l2.9,5.2h-5.8zM621.1,422.5l2.9,5.2h-5.8zM623.5,422.9l2.9,5.2h-5.8zM625.8,422.4l2.9,5.2h-5.8zM628.1,422.1l2.9,5.2h-5.8zM630.4,422.6l2.9,5.2h-5.8zM632.7,422.8l2.9,5.2h-5.8zM635.0,422.8l2.9,5.2h-5.8zM637.4,422.2l2.9,5.2h-5.8zM639.7,421.9l2.9,5.2h-5.8zM642.0,422.3l2.9,5.2h-5.8zM644.3,421.8l2.9,5.2h-5.8zM646.6,421.9l2.9,5.2h-5.8zM648.9,421.2l2.9,5.2h-5.8zM651.2,421.4l2.9,5.2h-5.8zM653.6,421.8l2.9,5.2h-5.8zM655.9,421.7l2.9,5.2h-5.8zM658.2,421.4l2.9,5.2h-5.8zM660.5,421.2l2.9,5.2h-5.8zM662.8,420.9l2.9,5.2h-5.8zM665.1,421.2l2.9,5.2h-5.8zM667.5,421.1l2.9,5.2h-5.8zM669.8,421.3l2.9,5.2h-5.8zM672.1,420.2l2.9,5.2h-5.8zM674.4,420.0l2.9,5.2h-5.8zM676.7,420.1l2.9,5.2h-5.8zM679.0,420.3l2.9,5.2h-5.8zM681.4,419.8l2.9,5.2h-5.8z" stroke-width="0.7"/></g>
<g stroke="#ff0000" stroke-width="0.9" fill="#ff0000"><path d="M459.0,331.4V335.2M457.1,331.4h3.8M457.1,335.2h3.8M461.3,355.6V359.6M459.4,355.6h3.8M459.4,359.6h3.8M463.6,373.5V376.8M461.7,373.5h3.8M461.7,376.8h3.8M465.9,387.1V390.3M464.0,387.1h3.8M464.0,390.3h3.8M468.3,397.2V401.3M466.4,397.2h3.8M466.4,401.3h3.8M470.6,405.1V409.6M468.7,405.1h3.8M468.7,409.6h3.8M472.9,411.6V415.3M471.0,411.6h3.8M471.0,415.3h3.8M475.2,415.6V419.1M473.3,415.6h3.8M473.3,419.1h3.8M477.5,418.5V422.8M475.6,418.5h3.8M475.6,422.8h3.8M479.8,421.0V425.6M477.9,421.0h3.8M477.9,425.6h3.8M482.2,422.6V426.8M480.3,422.6h3.8M480.3,426.8h3.8M484.5,424.2V428.4M482.6,424.2h3.8M482.6,428.4h3.8M486.8,425.2V429.6M484.9,425.2h3.8M484.9,429.6h3.8M489.1,426.2V430.4M487.2,426.2h3.8M487.2,430.4h3.8M491.4,426.6V431.0M489.5,426.6h3.8M489.5,431.0h3.8M493.7,427.3V432.4M491.8,427.3h3.8M491.8,432.4h3.8M496.1,427.9V432.8M494.2,427.9h3.8M494.2,432.8h3.8M498.4,427.8V431.8M496.5,427.8h3.8M496.5,431.8h3.8M500.7,427.4V431.8M498.8,427.4h3.8M498.8,431.8h3.8M503.0,427.7V433.3M501.1,427.7h3.8M501.1,433.3h3.8M505.3,428.0V433.4M503.4,428.0h3.8M503.4,433.4h3.8M507.6,429.0V433.3M505.7,429.0h3.8M505.7,433.3h3.8M510.0,429.4V433.9M508.1,429.4h3.8M508.1,433.9h3.8M512.3,428.7V434.4M510.4,428.7h3.8M510.4,434.4h3.8M514.6,428.5V434.2M512.7,428.5h3.8M512.7,434.2h3.8M516.9,428.7V433.7M515.0,428.7h3.8M515.0,433.7h3.8M519.2,429.2V434.4M517.3,429.2h3.8M517.3,434.4h3.8M521.5,429.1V434.7M519.6,429.1h3.8M519.6,434.7h3.8M523.9,427.9V433.3M522.0,427.9h3.8M522.0,433.3h3.8M526.2,427.8V433.4M524.3,427.8h3.8M524.3,433.4h3.8M528.5,427.8V434.0M526.6,427.8h3.8M526.6,434.0h3.8M530.8,428.4V434.1M528.9,428.4h3.8M528.9,434.1h3.8M533.1,428.4V433.4M531.2,428.4h3.8M531.2,433.4h3.8M535.4,427.9V433.8M533.5,427.9h3.8M533.5,433.8h3.8M537.8,427.1V434.1M535.9,427.1h3.8M535.9,434.1h3.8M540.1,427.1V433.3M538.2,427.1h3.8M538.2,433.3h3.8M542.4,427.4V432.4M540.5,427.4h3.8M540.5,432.4h3.8M544.7,426.8V432.7M542.8,426.8h3.8M542.8,432.7h3.8M547.0,426.1V433.3M545.1,426.1h3.8M545.1,433.3h3.8M549.3,426.4V433.0M547.4,426.4h3.8M547.4,433.0h3.8M551.6,427.3V433.1M549.8,427.3h3.8M549.8,433.1h3.8M554.0,427.6V433.9M552.1,427.6h3.8M552.1,433.9h3.8M556.3,427.1V433.9M554.4,427.1h3.8M554.4,433.9h3.8M558.6,426.1V432.6M556.7,426.1h3.8M556.7,432.6h3.8M560.9,425.7V432.4M559.0,425.7h3.8M559.0,432.4h3.8M563.2,426.1V433.2M561.3,426.1h3.8M561.3,433.2h3.8M565.5,426.1V432.6M563.6,426.1h3.8M563.6,432.6h3.8M567.9,425.7V431.8M566.0,425.7h3.8M566.0,431.8h3.8M570.2,425.1V432.5M568.3,425.1h3.8M568.3,432.5h3.8M572.5,425.1V433.2M570.6,425.1h3.8M570.6,433.2h3.8M574.8,426.0V432.7M572.9,426.0h3.8M572.9,432.7h3.8M577.1,426.1V432.0M575.2,426.1h3.8M575.2,432.0h3.8M579.4,425.2V432.8M577.5,425.2h3.8M577.5,432.8h3.8M581.8,424.9V433.4M579.9,424.9h3.8M579.9,433.4h3.8M584.1,425.5V432.7M582.2,425.5h3.8M582.2,432.7h3.8M586.4,426.4V432.9M584.5,426.4h3.8M584.5,432.9h3.8M588.7,426.3V433.9M586.8,426.3h3.8M586.8,433.9h3.8M591.0,425.5V433.6M589.1,425.5h3.8M589.1,433.6h3.8M593.3,425.1V432.6M591.4,425.1h3.8M591.4,432.6h3.8M595.7,425.6V433.3M593.8,425.6h3.8M593.8,433.3h3.8M598.0,425.9V434.0M596.1,425.9h3.8M596.1,434.0h3.8M600.3,425.6V433.0M598.4,425.6h3.8M598.4,433.0h3.8M602.6,424.4V431.8M600.7,424.4h3.8M600.7,431.8h3.8M604.9,423.7V432.5M603.0,423.7h3.8M603.0,432.5h3.8M607.2,425.1V434.0M605.3,425.1h3.8M605.3,434.0h3.8M609.6,425.8V432.9M607.7,425.8h3.8M607.7,432.9h3.8M611.9,425.2V432.4M610.0,425.2h3.8M610.0,432.4h3.8M614.2,424.4V433.7M612.3,424.4h3.8M612.3,433.7h3.8M616.5,424.0V433.5M614.6,424.0h3.8M614.6,433.5h3.8M618.8,425.0V432.6M616.9,425.0h3.8M616.9,432.6h3.8M621.1,425.6V433.2M619.2,425.6h3.8M619.2,433.2h3.8M623.5,424.6V433.8M621.6,424.6h3.8M621.6,433.8h3.8M625.8,423.6V433.0M623.9,423.6h3.8M623.9,433.0h3.8M628.1,423.2V431.6M626.2,423.2h3.8M626.2,431.6h3.8M630.4,423.6V432.3M628.5,423.6h3.8M628.5,432.3h3.8M632.7,423.8V432.8M630.8,423.8h3.8M630.8,432.8h3.8M635.0,423.0V431.5M633.1,423.0h3.8M633.1,431.5h3.8M637.4,422.1V430.9M635.5,422.1h3.8M635.5,430.9h3.8M639.7,422.1V432.2M637.8,422.1h3.8M637.8,432.2h3.8M642.0,422.8V432.2M640.1,422.8h3.8M640.1,432.2h3.8M644.3,423.5V431.3M642.4,423.5h3.8M642.4,431.3h3.8M646.6,423.1V432.0M644.7,423.1h3.8M644.7,432.0h3.8M648.9,422.6V433.6M647.0,422.6h3.8M647.0,433.6h3.8M651.2,422.6V432.7M649.3,422.6h3.8M649.3,432.7h3.8M653.6,423.0V431.0M651.7,423.0h3.8M651.7,431.0h3.8M655.9,423.1V432.0M654.0,423.1h3.8M654.0,432.0h3.8M658.2,422.5V433.4M656.3,422.5h3.8M656.3,433.4h3.8M660.5,422.5V432.8M658.6,422.5h3.8M658.6,432.8h3.8M662.8,423.3V432.4M660.9,423.3h3.8M660.9,432.4h3.8M665.1,424.5V434.2M663.2,424.5h3.8M663.2,434.2h3.8M667.5,424.4V434.7M665.6,424.4h3.8M665.6,434.7h3.8M669.8,423.7V433.4M667.9,423.7h3.8M667.9,433.4h3.8M672.1,422.9V433.1M670.2,422.9h3.8M670.2,433.1h3.8M674.4,423.4V434.5M672.5,423.4h3.8M672.5,434.5h3.8M676.7,423.3V433.2M674.8,423.3h3.8M674.8,433.2h3.8M679.0,423.2V432.1M677.1,423.2h3.8M677.1,432.1h3.8M681.4,422.5V433.2M679.5,422.5h3.8M679.5,433.2h3.8" fill="none" stroke-width="0.75"/><polyline fill="none" stroke-width="0.9" points="459.0,333.5 461.3,357.5 463.6,375.0 465.9,388.7 468.3,399.2 470.6,407.3 472.9,413.6 475.2,417.2 477.5,420.3 479.8,423.2 482.2,425.0 484.5,426.2 486.8,426.9 489.1,428.1 491.4,429.0 493.7,429.8 496.1,429.9 498.4,429.6 500.7,429.6 503.0,430.3 505.3,430.6 507.6,431.1 510.0,431.3 512.3,431.1 514.6,431.3 516.9,431.4 519.2,431.4 521.5,431.2 523.9,430.5 526.2,430.8 528.5,430.5 530.8,430.6 533.1,430.7 535.4,430.8 537.8,430.3 540.1,429.8 542.4,429.6 544.7,429.3 547.0,429.2 549.3,429.7 551.6,430.1 554.0,430.0 556.3,429.8 558.6,429.5 560.9,429.1 563.2,428.9 565.5,428.6 567.9,428.7 570.2,428.7 572.5,428.6 574.8,428.9 577.1,428.7 579.4,428.4 581.8,428.7 584.1,429.1 586.4,429.2 588.7,429.1 591.0,429.0 593.3,429.0 595.7,429.2 598.0,428.8 600.3,428.6 602.6,428.1 604.9,427.8 607.2,428.6 609.6,428.8 611.9,428.4 614.2,428.4 616.5,428.3 618.8,428.6 621.1,428.6 623.5,428.1 625.8,427.9 628.1,427.5 630.4,427.2 632.7,426.9 635.0,426.8 637.4,426.6 639.7,426.5 642.0,426.3 644.3,426.8 646.6,427.1 648.9,427.3 651.2,427.0 653.6,426.5 655.9,426.5 658.2,426.8 660.5,427.4 662.8,427.7 665.1,428.0 667.5,428.1 669.8,428.3 672.1,427.9 674.4,427.8 676.7,426.9 679.0,427.2 681.4,427.4"/><path d="M456.6,331.1h4.8v4.8h-4.8zM458.9,355.1h4.8v4.8h-4.8zM461.2,372.6h4.8v4.8h-4.8zM463.5,386.3h4.8v4.8h-4.8zM465.9,396.8h4.8v4.8h-4.8zM468.2,404.9h4.8v4.8h-4.8zM470.5,411.2h4.8v4.8h-4.8zM472.8,414.8h4.8v4.8h-4.8zM475.1,417.9h4.8v4.8h-4.8zM477.4,420.8h4.8v4.8h-4.8zM479.8,422.6h4.8v4.8h-4.8zM482.1,423.8h4.8v4.8h-4.8zM484.4,424.5h4.8v4.8h-4.8zM486.7,425.7h4.8v4.8h-4.8zM489.0,426.6h4.8v4.8h-4.8zM491.3,427.4h4.8v4.8h-4.8zM493.7,427.5h4.8v4.8h-4.8zM496.0,427.2h4.8v4.8h-4.8zM498.3,427.2h4.8v4.8h-4.8zM500.6,427.9h4.8v4.8h-4.8zM502.9,428.2h4.8v4.8h-4.8zM505.2,428.7h4.8v4.8h-4.8zM507.6,428.9h4.8v4.8h-4.8zM509.9,428.7h4.8v4.8h-4.8zM512.2,428.9h4.8v4.8h-4.8zM514.5,429.0h4.8v4.8h-4.8zM516.8,429.0h4.8v4.8h-4.8zM519.1,428.8h4.8v4.8h-4.8zM521.5,428.1h4.8v4.8h-4.8zM523.8,428.4h4.8v4.8h-4.8zM526.1,428.1h4.8v4.8h-4.8zM528.4,428.2h4.8v4.8h-4.8zM530.7,428.3h4.8v4.8h-4.8zM533.0,428.4h4.8v4.8h-4.8zM535.4,427.9h4.8v4.8h-4.8zM537.7,427.4h4.8v4.8h-4.8zM540.0,427.2h4.8v4.8h-4.8zM542.3,426.9h4.8v4.8h-4.8zM544.6,426.8h4.8v4.8h-4.8zM546.9,427.3h4.8v4.8h-4.8zM549.2,427.7h4.8v4.8h-4.8zM551.6,427.6h4.8v4.8h-4.8zM553.9,427.4h4.8v4.8h-4.8zM556.2,427.1h4.8v4.8h-4.8zM558.5,426.7h4.8v4.8h-4.8zM560.8,426.5h4.8v4.8h-4.8zM563.1,426.2h4.8v4.8h-4.8zM565.5,426.3h4.8v4.8h-4.8zM567.8,426.3h4.8v4.8h-4.8zM570.1,426.2h4.8v4.8h-4.8zM572.4,426.5h4.8v4.8h-4.8zM574.7,426.3h4.8v4.8h-4.8zM577.0,426.0h4.8v4.8h-4.8zM579.4,426.3h4.8v4.8h-4.8zM581.7,426.7h4.8v4.8h-4.8zM584.0,426.8h4.8v4.8h-4.8zM586.3,426.7h4.8v4.8h-4.8zM588.6,426.6h4.8v4.8h-4.8zM590.9,426.6h4.8v4.8h-4.8zM593.3,426.8h4.8v4.8h-4.8zM595.6,426.4h4.8v4.8h-4.8zM597.9,426.2h4.8v4.8h-4.8zM600.2,425.7h4.8v4.8h-4.8zM602.5,425.4h4.8v4.8h-4.8zM604.8,426.2h4.8v4.8h-4.8zM607.2,426.4h4.8v4.8h-4.8zM609.5,426.0h4.8v4.8h-4.8zM611.8,426.0h4.8v4.8h-4.8zM614.1,425.9h4.8v4.8h-4.8zM616.4,426.2h4.8v4.8h-4.8zM618.7,426.2h4.8v4.8h-4.8zM621.1,425.7h4.8v4.8h-4.8zM623.4,425.5h4.8v4.8h-4.8zM625.7,425.1h4.8v4.8h-4.8zM628.0,424.8h4.8v4.8h-4.8zM630.3,424.5h4.8v4.8h-4.8zM632.6,424.4h4.8v4.8h-4.8zM635.0,424.2h4.8v4.8h-4.8zM637.3,424.1h4.8v4.8h-4.8zM639.6,423.9h4.8v4.8h-4.8zM641.9,424.4h4.8v4.8h-4.8zM644.2,424.7h4.8v4.8h-4.8zM646.5,424.9h4.8v4.8h-4.8zM648.8,424.6h4.8v4.8h-4.8zM651.2,424.1h4.8v4.8h-4.8zM653.5,424.1h4.8v4.8h-4.8zM655.8,424.4h4.8v4.8h-4.8zM658.1,425.0h4.8v4.8h-4.8zM660.4,425.3h4.8v4.8h-4.8zM662.7,425.6h4.8v4.8h-4.8zM665.1,425.7h4.8v4.8h-4.8zM667.4,425.9h4.8v4.8h-4.8zM669.7,425.5h4.8v4.8h-4.8zM672.0,425.4h4.8v4.8h-4.8zM674.3,424.5h4.8v4.8h-4.8zM676.6,424.8h4.8v4.8h-4.8zM679.0,425.0h4.8v4.8h-4.8z" stroke-width="0.7"/></g>
<g stroke="#0000ff" stroke-width="0.9" fill="#0000ff"><path d="M459.0,334.0V337.3M457.1,334.0h3.8M457.1,337.3h3.8M461.3,352.6V356.1M459.4,352.6h3.8M459.4,356.1h3.8M463.6,367.7V370.5M461.7,367.7h3.8M461.7,370.5h3.8M465.9,380.1V382.9M464.0,380.1h3.8M464.0,382.9h3.8M468.3,389.9V393.4M466.4,389.9h3.8M466.4,393.4h3.8M470.6,397.9V401.8M468.7,397.9h3.8M468.7,401.8h3.8M472.9,404.8V408.0M471.0,404.8h3.8M471.0,408.0h3.8M475.2,410.3V413.2M473.3,410.3h3.8M473.3,413.2h3.8M477.5,414.3V417.8M475.6,414.3h3.8M475.6,417.8h3.8M479.8,416.4V420.2M477.9,416.4h3.8M477.9,420.2h3.8M482.2,419.1V422.7M480.3,419.1h3.8M480.3,422.7h3.8M484.5,421.7V425.3M482.6,421.7h3.8M482.6,425.3h3.8M486.8,422.9V426.6M484.9,422.9h3.8M484.9,426.6h3.8M489.1,423.5V427.0M487.2,423.5h3.8M487.2,427.0h3.8M491.4,424.7V428.4M489.5,424.7h3.8M489.5,428.4h3.8M493.7,425.7V429.9M491.8,425.7h3.8M491.8,429.9h3.8M496.1,426.0V430.1M494.2,426.0h3.8M494.2,430.1h3.8M498.4,427.0V430.4M496.5,427.0h3.8M496.5,430.4h3.8M500.7,426.9V430.6M498.8,426.9h3.8M498.8,430.6h3.8M503.0,426.7V431.3M501.1,426.7h3.8M501.1,431.3h3.8M505.3,426.9V431.4M503.4,426.9h3.8M503.4,431.4h3.8M507.6,428.2V431.8M505.7,428.2h3.8M505.7,431.8h3.8M510.0,428.1V431.8M508.1,428.1h3.8M508.1,431.8h3.8M512.3,427.4V432.0M510.4,427.4h3.8M510.4,432.0h3.8M514.6,427.2V431.9M512.7,427.2h3.8M512.7,431.9h3.8M516.9,427.7V431.8M515.0,427.7h3.8M515.0,431.8h3.8M519.2,427.9V432.0M517.3,427.9h3.8M517.3,432.0h3.8M521.5,427.4V431.8M519.6,427.4h3.8M519.6,431.8h3.8M523.9,426.5V430.9M522.0,426.5h3.8M522.0,430.9h3.8M526.2,426.8V431.4M524.3,426.8h3.8M524.3,431.4h3.8M528.5,426.8V431.8M526.6,426.8h3.8M526.6,431.8h3.8M530.8,427.4V431.9M528.9,427.4h3.8M528.9,431.9h3.8M533.1,426.8V430.8M531.2,426.8h3.8M531.2,430.8h3.8M535.4,425.8V430.6M533.5,425.8h3.8M533.5,430.6h3.8M537.8,425.9V431.4M535.9,425.9h3.8M535.9,431.4h3.8M540.1,425.9V430.8M538.2,425.9h3.8M538.2,430.8h3.8M542.4,426.1V430.1M540.5,426.1h3.8M540.5,430.1h3.8M544.7,426.6V431.3M542.8,426.6h3.8M542.8,431.3h3.8M547.0,426.1V431.8M545.1,426.1h3.8M545.1,431.8h3.8M549.3,425.3V430.6M547.4,425.3h3.8M547.4,430.6h3.8M551.6,426.2V430.8M549.8,426.2h3.8M549.8,430.8h3.8M554.0,426.6V431.4M552.1,426.6h3.8M552.1,431.4h3.8M556.3,425.9V431.3M554.4,425.9h3.8M554.4,431.3h3.8M558.6,425.4V430.7M556.7,425.4h3.8M556.7,430.7h3.8M560.9,424.9V430.3M559.0,424.9h3.8M559.0,430.3h3.8M563.2,425.8V431.3M561.3,425.8h3.8M561.3,431.3h3.8M565.5,425.8V430.8M563.6,425.8h3.8M563.6,430.8h3.8M567.9,425.1V430.0M566.0,425.1h3.8M566.0,430.0h3.8M570.2,425.0V430.9M568.3,425.0h3.8M568.3,430.9h3.8M572.5,424.4V430.7M570.6,424.4h3.8M570.6,430.7h3.8M574.8,424.5V429.7M572.9,424.5h3.8M572.9,429.7h3.8M577.1,424.2V428.9M575.2,424.2h3.8M575.2,428.9h3.8M579.4,424.1V430.0M577.5,424.1h3.8M577.5,430.0h3.8M581.8,423.4V430.0M579.9,423.4h3.8M579.9,430.0h3.8M584.1,423.9V429.6M582.2,423.9h3.8M582.2,429.6h3.8M586.4,424.0V429.0M584.5,424.0h3.8M584.5,429.0h3.8M588.7,423.7V429.5M586.8,423.7h3.8M586.8,429.5h3.8M591.0,422.4V428.7M589.1,422.4h3.8M589.1,428.7h3.8M593.3,422.4V428.5M591.4,422.4h3.8M591.4,428.5h3.8M595.7,422.9V429.0M593.8,422.9h3.8M593.8,429.0h3.8M598.0,423.8V429.9M596.1,423.8h3.8M596.1,429.9h3.8M600.3,422.8V428.4M598.4,422.8h3.8M598.4,428.4h3.8M602.6,421.7V427.6M600.7,421.7h3.8M600.7,427.6h3.8M604.9,421.6V428.6M603.0,421.6h3.8M603.0,428.6h3.8M607.2,421.6V428.4M605.3,421.6h3.8M605.3,428.4h3.8M609.6,422.0V427.5M607.7,422.0h3.8M607.7,427.5h3.8M611.9,421.7V427.3M610.0,421.7h3.8M610.0,427.3h3.8M614.2,420.4V427.5M612.3,420.4h3.8M612.3,427.5h3.8M616.5,419.8V427.1M614.6,419.8h3.8M614.6,427.1h3.8M618.8,420.3V426.3M616.9,420.3h3.8M616.9,426.3h3.8M621.1,421.0V426.7M619.2,421.0h3.8M619.2,426.7h3.8M623.5,420.4V427.4M621.6,420.4h3.8M621.6,427.4h3.8M625.8,419.5V426.8M623.9,419.5h3.8M623.9,426.8h3.8M628.1,419.6V426.2M626.2,419.6h3.8M626.2,426.2h3.8M630.4,420.3V426.9M628.5,420.3h3.8M628.5,426.9h3.8M632.7,420.2V426.9M630.8,420.2h3.8M630.8,426.9h3.8M635.0,418.7V425.2M633.1,418.7h3.8M633.1,425.2h3.8M637.4,417.7V424.7M635.5,417.7h3.8M635.5,424.7h3.8M639.7,417.8V425.5M637.8,417.8h3.8M637.8,425.5h3.8M642.0,418.9V426.0M640.1,418.9h3.8M640.1,426.0h3.8M644.3,418.2V424.2M642.4,418.2h3.8M642.4,424.2h3.8M646.6,417.6V424.4M644.7,417.6h3.8M644.7,424.4h3.8M648.9,416.9V425.2M647.0,416.9h3.8M647.0,425.2h3.8M651.2,416.6V424.3M649.3,416.6h3.8M649.3,424.3h3.8M653.6,416.7V422.8M651.7,416.7h3.8M651.7,422.8h3.8M655.9,417.1V423.8M654.0,417.1h3.8M654.0,423.8h3.8M658.2,416.5V424.7M656.3,416.5h3.8M656.3,424.7h3.8M660.5,415.9V423.8M658.6,415.9h3.8M658.6,423.8h3.8M662.8,415.3V422.3M660.9,415.3h3.8M660.9,422.3h3.8M665.1,415.8V423.0M663.2,415.8h3.8M663.2,423.0h3.8M667.5,415.9V423.4M665.6,415.9h3.8M665.6,423.4h3.8M669.8,414.4V421.9M667.9,414.4h3.8M667.9,421.9h3.8M672.1,413.7V421.7M670.2,413.7h3.8M670.2,421.7h3.8M674.4,414.5V422.8M672.5,414.5h3.8M672.5,422.8h3.8M676.7,415.3V422.6M674.8,415.3h3.8M674.8,422.6h3.8M679.0,414.6V421.4M677.1,414.6h3.8M677.1,421.4h3.8M681.4,412.6V420.8M679.5,412.6h3.8M679.5,420.8h3.8" fill="none" stroke-width="0.75"/><polyline fill="none" stroke-width="0.9" points="459.0,335.8 461.3,354.2 463.6,369.0 465.9,381.5 468.3,391.7 470.6,399.9 472.9,406.5 475.2,411.7 477.5,415.8 479.8,418.4 482.2,421.3 484.5,423.5 486.8,424.4 489.1,425.2 491.4,426.9 493.7,427.9 496.1,427.9 498.4,428.6 500.7,428.9 503.0,429.1 505.3,429.2 507.6,430.1 510.0,429.9 512.3,429.6 514.6,429.8 516.9,430.1 519.2,429.8 521.5,429.3 523.9,429.0 526.2,429.6 528.5,429.3 530.8,429.4 533.1,428.9 535.4,428.5 537.8,428.8 540.1,428.4 542.4,428.2 544.7,428.9 547.0,429.0 549.3,428.4 551.6,428.8 554.0,428.7 556.3,428.5 558.6,428.6 560.9,428.1 563.2,428.4 565.5,428.1 567.9,427.9 570.2,428.3 572.5,427.6 574.8,427.1 577.1,426.6 579.4,427.1 581.8,426.9 584.1,427.2 586.4,426.6 588.7,426.3 591.0,425.7 593.3,426.2 595.7,426.3 598.0,426.5 600.3,425.6 602.6,425.2 604.9,425.5 607.2,424.9 609.6,424.8 611.9,424.7 614.2,424.1 616.5,423.7 618.8,423.7 621.1,423.8 623.5,423.7 625.8,423.6 628.1,423.7 630.4,423.7 632.7,423.1 635.0,422.2 637.4,421.9 639.7,421.9 642.0,422.3 644.3,421.3 646.6,421.4 648.9,421.3 651.2,420.7 653.6,420.0 655.9,420.4 658.2,420.6 660.5,420.5 662.8,419.4 665.1,419.2 667.5,419.4 669.8,418.8 672.1,418.5 674.4,418.7 676.7,418.8 679.0,418.4 681.4,417.3"/><path d="M456.5,335.8a2.5,2.5 0 1,0 5.0,0a2.5,2.5 0 1,0 -5.0,0zM458.8,354.2a2.5,2.5 0 1,0 5.0,0a2.5,2.5 0 1,0 -5.0,0zM461.1,369.0a2.5,2.5 0 1,0 5.0,0a2.5,2.5 0 1,0 -5.0,0zM463.4,381.5a2.5,2.5 0 1,0 5.0,0a2.5,2.5 0 1,0 -5.0,0zM465.8,391.7a2.5,2.5 0 1,0 5.0,0a2.5,2.5 0 1,0 -5.0,0zM468.1,399.9a2.5,2.5 0 1,0 5.0,0a2.5,2.5 0 1,0 -5.0,0zM470.4,406.5a2.5,2.5 0 1,0 5.0,0a2.5,2.5 0 1,0 -5.0,0zM472.7,411.7a2.5,2.5 0 1,0 5.0,0a2.5,2.5 0 1,0 -5.0,0zM475.0,415.8a2.5,2.5 0 1,0 5.0,0a2.5,2.5 0 1,0 -5.0,0zM477.3,418.4a2.5,2.5 0 1,0 5.0,0a2.5,2.5 0 1,0 -5.0,0zM479.7,421.3a2.5,2.5 0 1,0 5.0,0a2.5,2.5 0 1,0 -5.0,0zM482.0,423.5a2.5,2.5 0 1,0 5.0,0a2.5,2.5 0 1,0 -5.0,0zM484.3,424.4a2.5,2.5 0 1,0 5.0,0a2.5,2.5 0 1,0 -5.0,0zM486.6,425.2a2.5,2.5 0 1,0 5.0,0a2.5,2.5 0 1,0 -5.0,0zM488.9,426.9a2.5,2.5 0 1,0 5.0,0a2.5,2.5 0 1,0 -5.0,0zM491.2,427.9a2.5,2.5 0 1,0 5.0,0a2.5,2.5 0 1,0 -5.0,0zM493.6,427.9a2.5,2.5 0 1,0 5.0,0a2.5,2.5 0 1,0 -5.0,0zM495.9,428.6a2.5,2.5 0 1,0 5.0,0a2.5,2.5 0 1,0 -5.0,0zM498.2,428.9a2.5,2.5 0 1,0 5.0,0a2.5,2.5 0 1,0 -5.0,0zM500.5,429.1a2.5,2.5 0 1,0 5.0,0a2.5,2.5 0 1,0 -5.0,0zM502.8,429.2a2.5,2.5 0 1,0 5.0,0a2.5,2.5 0 1,0 -5.0,0zM505.1,430.1a2.5,2.5 0 1,0 5.0,0a2.5,2.5 0 1,0 -5.0,0zM507.5,429.9a2.5,2.5 0 1,0 5.0,0a2.5,2.5 0 1,0 -5.0,0zM509.8,429.6a2.5,2.5 0 1,0 5.0,0a2.5,2.5 0 1,0 -5.0,0zM512.1,429.8a2.5,2.5 0 1,0 5.0,0a2.5,2.5 0 1,0 -5.0,0zM514.4,430.1a2.5,2.5 0 1,0 5.0,0a2.5,2.5 0 1,0 -5.0,0zM516.7,429.8a2.5,2.5 0 1,0 5.0,0a2.5,2.5 0 1,0 -5.0,0zM519.0,429.3a2.5,2.5 0 1,0 5.0,0a2.5,2.5 0 1,0 -5.0,0zM521.4,429.0a2.5,2.5 0 1,0 5.0,0a2.5,2.5 0 1,0 -5.0,0zM523.7,429.6a2.5,2.5 0 1,0 5.0,0a2.5,2.5 0 1,0 -5.0,0zM526.0,429.3a2.5,2.5 0 1,0 5.0,0a2.5,2.5 0 1,0 -5.0,0zM528.3,429.4a2.5,2.5 0 1,0 5.0,0a2.5,2.5 0 1,0 -5.0,0zM530.6,428.9a2.5,2.5 0 1,0 5.0,0a2.5,2.5 0 1,0 -5.0,0zM532.9,428.5a2.5,2.5 0 1,0 5.0,0a2.5,2.5 0 1,0 -5.0,0zM535.3,428.8a2.5,2.5 0 1,0 5.0,0a2.5,2.5 0 1,0 -5.0,0zM537.6,428.4a2.5,2.5 0 1,0 5.0,0a2.5,2.5 0 1,0 -5.0,0zM539.9,428.2a2.5,2.5 0 1,0 5.0,0a2.5,2.5 0 1,0 -5.0,0zM542.2,428.9a2.5,2.5 0 1,0 5.0,0a2.5,2.5 0 1,0 -5.0,0zM544.5,429.0a2.5,2.5 0 1,0 5.0,0a2.5,2.5 0 1,0 -5.0,0zM546.8,428.4a2.5,2.5 0 1,0 5.0,0a2.5,2.5 0 1,0 -5.0,0zM549.1,428.8a2.5,2.5 0 1,0 5.0,0a2.5,2.5 0 1,0 -5.0,0zM551.5,428.7a2.5,2.5 0 1,0 5.0,0a2.5,2.5 0 1,0 -5.0,0zM553.8,428.5a2.5,2.5 0 1,0 5.0,0a2.5,2.5 0 1,0 -5.0,0zM556.1,428.6a2.5,2.5 0 1,0 5.0,0a2.5,2.5 0 1,0 -5.0,0zM558.4,428.1a2.5,2.5 0 1,0 5.0,0a2.5,2.5 0 1,0 -5.0,0zM560.7,428.4a2.5,2.5 0 1,0 5.0,0a2.5,2.5 0 1,0 -5.0,0zM563.0,428.1a2.5,2.5 0 1,0 5.0,0a2.5,2.5 0 1,0 -5.0,0zM565.4,427.9a2.5,2.5 0 1,0 5.0,0a2.5,2.5 0 1,0 -5.0,0zM567.7,428.3a2.5,2.5 0 1,0 5.0,0a2.5,2.5 0 1,0 -5.0,0zM570.0,427.6a2.5,2.5 0 1,0 5.0,0a2.5,2.5 0 1,0 -5.0,0zM572.3,427.1a2.5,2.5 0 1,0 5.0,0a2.5,2.5 0 1,0 -5.0,0zM574.6,426.6a2.5,2.5 0 1,0 5.0,0a2.5,2.5 0 1,0 -5.0,0zM576.9,427.1a2.5,2.5 0 1,0 5.0,0a2.5,2.5 0 1,0 -5.0,0zM579.3,426.9a2.5,2.5 0 1,0 5.0,0a2.5,2.5 0 1,0 -5.0,0zM581.6,427.2a2.5,2.5 0 1,0 5.0,0a2.5,2.5 0 1,0 -5.0,0zM583.9,426.6a2.5,2.5 0 1,0 5.0,0a2.5,2.5 0 1,0 -5.0,0zM586.2,426.3a2.5,2.5 0 1,0 5.0,0a2.5,2.5 0 1,0 -5.0,0zM588.5,425.7a2.5,2.5 0 1,0 5.0,0a2.5,2.5 0 1,0 -5.0,0zM590.8,426.2a2.5,2.5 0 1,0 5.0,0a2.5,2.5 0 1,0 -5.0,0zM593.2,426.3a2.5,2.5 0 1,0 5.0,0a2.5,2.5 0 1,0 -5.0,0zM595.5,426.5a2.5,2.5 0 1,0 5.0,0a2.5,2.5 0 1,0 -5.0,0zM597.8,425.6a2.5,2.5 0 1,0 5.0,0a2.5,2.5 0 1,0 -5.0,0zM600.1,425.2a2.5,2.5 0 1,0 5.0,0a2.5,2.5 0 1,0 -5.0,0zM602.4,425.5a2.5,2.5 0 1,0 5.0,0a2.5,2.5 0 1,0 -5.0,0zM604.7,424.9a2.5,2.5 0 1,0 5.0,0a2.5,2.5 0 1,0 -5.0,0zM607.1,424.8a2.5,2.5 0 1,0 5.0,0a2.5,2.5 0 1,0 -5.0,0zM609.4,424.7a2.5,2.5 0 1,0 5.0,0a2.5,2.5 0 1,0 -5.0,0zM611.7,424.1a2.5,2.5 0 1,0 5.0,0a2.5,2.5 0 1,0 -5.0,0zM614.0,423.7a2.5,2.5 0 1,0 5.0,0a2.5,2.5 0 1,0 -5.0,0zM616.3,423.7a2.5,2.5 0 1,0 5.0,0a2.5,2.5 0 1,0 -5.0,0zM618.6,423.8a2.5,2.5 0 1,0 5.0,0a2.5,2.5 0 1,0 -5.0,0zM621.0,423.7a2.5,2.5 0 1,0 5.0,0a2.5,2.5 0 1,0 -5.0,0zM623.3,423.6a2.5,2.5 0 1,0 5.0,0a2.5,2.5 0 1,0 -5.0,0zM625.6,423.7a2.5,2.5 0 1,0 5.0,0a2.5,2.5 0 1,0 -5.0,0zM627.9,423.7a2.5,2.5 0 1,0 5.0,0a2.5,2.5 0 1,0 -5.0,0zM630.2,423.1a2.5,2.5 0 1,0 5.0,0a2.5,2.5 0 1,0 -5.0,0zM632.5,422.2a2.5,2.5 0 1,0 5.0,0a2.5,2.5 0 1,0 -5.0,0zM634.9,421.9a2.5,2.5 0 1,0 5.0,0a2.5,2.5 0 1,0 -5.0,0zM637.2,421.9a2.5,2.5 0 1,0 5.0,0a2.5,2.5 0 1,0 -5.0,0zM639.5,422.3a2.5,2.5 0 1,0 5.0,0a2.5,2.5 0 1,0 -5.0,0zM641.8,421.3a2.5,2.5 0 1,0 5.0,0a2.5,2.5 0 1,0 -5.0,0zM644.1,421.4a2.5,2.5 0 1,0 5.0,0a2.5,2.5 0 1,0 -5.0,0zM646.4,421.3a2.5,2.5 0 1,0 5.0,0a2.5,2.5 0 1,0 -5.0,0zM648.7,420.7a2.5,2.5 0 1,0 5.0,0a2.5,2.5 0 1,0 -5.0,0zM651.1,420.0a2.5,2.5 0 1,0 5.0,0a2.5,2.5 0 1,0 -5.0,0zM653.4,420.4a2.5,2.5 0 1,0 5.0,0a2.5,2.5 0 1,0 -5.0,0zM655.7,420.6a2.5,2.5 0 1,0 5.0,0a2.5,2.5 0 1,0 -5.0,0zM658.0,420.5a2.5,2.5 0 1,0 5.0,0a2.5,2.5 0 1,0 -5.0,0zM660.3,419.4a2.5,2.5 0 1,0 5.0,0a2.5,2.5 0 1,0 -5.0,0zM662.6,419.2a2.5,2.5 0 1,0 5.0,0a2.5,2.5 0 1,0 -5.0,0zM665.0,419.4a2.5,2.5 0 1,0 5.0,0a2.5,2.5 0 1,0 -5.0,0zM667.3,418.8a2.5,2.5 0 1,0 5.0,0a2.5,2.5 0 1,0 -5.0,0zM669.6,418.5a2.5,2.5 0 1,0 5.0,0a2.5,2.5 0 1,0 -5.0,0zM671.9,418.7a2.5,2.5 0 1,0 5.0,0a2.5,2.5 0 1,0 -5.0,0zM674.2,418.8a2.5,2.5 0 1,0 5.0,0a2.5,2.5 0 1,0 -5.0,0zM676.5,418.4a2.5,2.5 0 1,0 5.0,0a2.5,2.5 0 1,0 -5.0,0zM678.9,417.3a2.5,2.5 0 1,0 5.0,0a2.5,2.5 0 1,0 -5.0,0z" stroke-width="0.7"/></g>
<line x1="459.00" y1="291.64" x2="459.00" y2="447.35" stroke="#000" stroke-width="1.5" stroke-linecap="butt"/>
<line x1="459.00" y1="446.60" x2="690.80" y2="446.60" stroke="#000" stroke-width="1.5" stroke-linecap="butt"/>
<line x1="452.70" y1="446.60" x2="459.00" y2="446.60" stroke="#000" stroke-width="1.5" stroke-linecap="butt"/>
<text x="450.40" y="451.20" font-size="12.7" font-weight="bold" text-anchor="end" fill="#000" >0</text>
<line x1="452.70" y1="424.57" x2="459.00" y2="424.57" stroke="#000" stroke-width="1.5" stroke-linecap="butt"/>
<text x="450.40" y="429.17" font-size="12.7" font-weight="bold" text-anchor="end" fill="#000" >20</text>
<line x1="452.70" y1="402.54" x2="459.00" y2="402.54" stroke="#000" stroke-width="1.5" stroke-linecap="butt"/>
<text x="450.40" y="407.14" font-size="12.7" font-weight="bold" text-anchor="end" fill="#000" >40</text>
<line x1="452.70" y1="380.51" x2="459.00" y2="380.51" stroke="#000" stroke-width="1.5" stroke-linecap="butt"/>
<text x="450.40" y="385.11" font-size="12.7" font-weight="bold" text-anchor="end" fill="#000" >60</text>
<line x1="452.70" y1="358.48" x2="459.00" y2="358.48" stroke="#000" stroke-width="1.5" stroke-linecap="butt"/>
<text x="450.40" y="363.08" font-size="12.7" font-weight="bold" text-anchor="end" fill="#000" >80</text>
<line x1="452.70" y1="336.45" x2="459.00" y2="336.45" stroke="#000" stroke-width="1.5" stroke-linecap="butt"/>
<text x="450.40" y="341.05" font-size="12.7" font-weight="bold" text-anchor="end" fill="#000" >100</text>
<line x1="452.70" y1="314.42" x2="459.00" y2="314.42" stroke="#000" stroke-width="1.5" stroke-linecap="butt"/>
<text x="450.40" y="319.02" font-size="12.7" font-weight="bold" text-anchor="end" fill="#000" >120</text>
<line x1="452.70" y1="292.39" x2="459.00" y2="292.39" stroke="#000" stroke-width="1.5" stroke-linecap="butt"/>
<text x="450.40" y="296.99" font-size="12.7" font-weight="bold" text-anchor="end" fill="#000" >140</text>
<line x1="459.00" y1="446.60" x2="459.00" y2="453.20" stroke="#000" stroke-width="1.5" stroke-linecap="butt"/>
<text x="459.00" y="466.80" font-size="12" font-weight="bold" text-anchor="middle" fill="#000" >0</text>
<line x1="496.06" y1="446.60" x2="496.06" y2="453.20" stroke="#000" stroke-width="1.5" stroke-linecap="butt"/>
<text x="496.06" y="466.80" font-size="12" font-weight="bold" text-anchor="middle" fill="#000" >4</text>
<line x1="533.12" y1="446.60" x2="533.12" y2="453.20" stroke="#000" stroke-width="1.5" stroke-linecap="butt"/>
<text x="533.12" y="466.80" font-size="12" font-weight="bold" text-anchor="middle" fill="#000" >8</text>
<line x1="570.18" y1="446.60" x2="570.18" y2="453.20" stroke="#000" stroke-width="1.5" stroke-linecap="butt"/>
<text x="570.18" y="466.80" font-size="12" font-weight="bold" text-anchor="middle" fill="#000" >12</text>
<line x1="607.24" y1="446.60" x2="607.24" y2="453.20" stroke="#000" stroke-width="1.5" stroke-linecap="butt"/>
<text x="607.24" y="466.80" font-size="12" font-weight="bold" text-anchor="middle" fill="#000" >16</text>
<line x1="644.30" y1="446.60" x2="644.30" y2="453.20" stroke="#000" stroke-width="1.5" stroke-linecap="butt"/>
<text x="644.30" y="466.80" font-size="12" font-weight="bold" text-anchor="middle" fill="#000" >20</text>
<line x1="681.36" y1="446.60" x2="681.36" y2="453.20" stroke="#000" stroke-width="1.5" stroke-linecap="butt"/>
<text x="681.36" y="466.80" font-size="12" font-weight="bold" text-anchor="middle" fill="#000" >24</text>
<text x="405.40" y="368.90" font-size="13" font-weight="bold" text-anchor="middle" fill="#000" transform="rotate(-90 405.40 368.90)" >Normalised protein</text>
<text x="422.60" y="368.90" font-size="13" font-weight="bold" text-anchor="middle" fill="#000" transform="rotate(-90 422.60 368.90)" >remaining (%)</text>
<text x="575.00" y="486.60" font-size="13.0" font-weight="bold" text-anchor="middle" fill="#000" >Time (h)</text>
<line x1="446.80" y1="503.00" x2="463.20" y2="503.00" stroke="#0000ff" stroke-width="0.9" stroke-linecap="butt"/>
<circle cx="455.0" cy="503.0" r="2.5" fill="#0000ff" stroke="#0000ff" stroke-width="0.6"/>
<text x="472.70" y="508.00" font-size="12.7" text-anchor="start" fill="#111" >1000 nM</text>
<line x1="446.80" y1="520.80" x2="463.20" y2="520.80" stroke="#ff0000" stroke-width="0.9" stroke-linecap="butt"/>
<rect x="452.6" y="518.4" width="4.8" height="4.8" fill="#ff0000" stroke="#ff0000" stroke-width="0.6"/>
<text x="472.70" y="525.80" font-size="12.7" text-anchor="start" fill="#111" >250 nM</text>
<line x1="446.80" y1="538.60" x2="463.20" y2="538.60" stroke="#33ee33" stroke-width="0.9" stroke-linecap="butt"/>
<path d="M455.0,535.4l2.9,5.3h-5.8z" fill="#33ee33" stroke="#33ee33" stroke-width="0.6"/>
<text x="472.70" y="543.60" font-size="12.7" text-anchor="start" fill="#111" >62.5 nM</text>
<line x1="527.80" y1="503.00" x2="544.20" y2="503.00" stroke="#ff33ff" stroke-width="0.9" stroke-linecap="butt"/>
<path d="M535.8,506.2l2.9,-5.3h-5.8z" fill="#ff33ff" stroke="#ff33ff" stroke-width="0.6"/>
<text x="553.70" y="508.00" font-size="12.7" text-anchor="start" fill="#111" >15.625 nM</text>
<line x1="527.80" y1="520.80" x2="544.20" y2="520.80" stroke="#ff8022" stroke-width="0.9" stroke-linecap="butt"/>
<path d="M535.8,518.5999999999999l2.2,2.2l-2.2,2.2l-2.2,-2.2z" fill="#ff8022" stroke="#ff8022" stroke-width="0.6"/>
<text x="553.70" y="525.80" font-size="12.7" text-anchor="start" fill="#111" >3.906 nM</text>
<line x1="527.80" y1="538.60" x2="544.20" y2="538.60" stroke="#000000" stroke-width="0.9" stroke-linecap="butt"/>
<circle cx="535.8" cy="538.6" r="2.5" fill="#fff" stroke="#000000" stroke-width="1.2"/>
<text x="553.70" y="543.60" font-size="12.7" text-anchor="start" fill="#111" >0.977 nM</text>
<line x1="620.60" y1="503.00" x2="637.00" y2="503.00" stroke="#996633" stroke-width="0.9" stroke-linecap="butt"/>
<path d="M628.6,499.8l2.9,5.3h-5.8z" fill="#fff" stroke="#996633" stroke-width="1.2"/>
<text x="645.80" y="508.00" font-size="12.7" text-anchor="start" fill="#111" >0.244 nM</text>
<line x1="620.60" y1="520.80" x2="637.00" y2="520.80" stroke="#00009a" stroke-width="0.9" stroke-linecap="butt"/>
<path d="M628.6,524.0l2.9,-5.3h-5.8z" fill="#fff" stroke="#00009a" stroke-width="1.2"/>
<text x="645.80" y="525.80" font-size="12.7" text-anchor="start" fill="#111" >0.061 nM</text>
<line x1="620.60" y1="538.60" x2="637.00" y2="538.60" stroke="#800080" stroke-width="0.9" stroke-linecap="butt"/>
<rect x="626.2" y="536.2" width="4.8" height="4.8" fill="#fff" stroke="#800080" stroke-width="1.2"/>
<text x="645.80" y="543.60" font-size="12.7" text-anchor="start" fill="#111" >0.015 nM</text>
<text x="0.40" y="607.00" font-size="26" text-anchor="start" fill="#000" >d</text>
<polyline points="111.36,647.98 111.79,647.98 112.23,647.98 112.66,647.98 113.09,647.98 113.52,647.98 113.95,647.98 114.38,647.98 114.82,647.98 115.25,647.98 115.68,647.98 116.11,647.98 116.54,647.98 116.97,647.98 117.40,647.98 117.84,647.98 118.27,647.98 118.70,647.98 119.13,647.98 119.56,647.98 119.99,647.98 120.43,647.98 120.86,647.98 121.29,647.98 121.72,647.98 122.15,647.98 122.58,647.98 123.01,647.98 123.45,647.98 123.88,647.98 124.31,647.98 124.74,647.98 125.17,647.98 125.60,647.98 126.04,647.98 126.47,647.98 126.90,647.98 127.33,647.98 127.76,647.98 128.19,647.98 128.62,647.98 129.06,647.98 129.49,647.98 129.92,647.98 130.35,647.98 130.78,647.98 131.21,647.98 131.65,647.98 132.08,647.99 132.51,647.99 132.94,647.99 133.37,647.99 133.80,647.99 134.23,647.99 134.67,647.99 135.10,647.99 135.53,647.99 135.96,647.99 136.39,647.99 136.82,647.99 137.26,647.99 137.69,647.99 138.12,647.99 138.55,647.99 138.98,647.99 139.41,647.99 139.85,647.99 140.28,647.99 140.71,647.99 141.14,647.99 141.57,647.99 142.00,647.99 142.43,647.99 142.87,647.99 143.30,647.99 143.73,647.99 144.16,647.99 144.59,647.99 145.02,647.99 145.46,647.99 145.89,647.99 146.32,647.99 146.75,647.99 147.18,647.99 147.61,647.99 148.04,647.99 148.48,647.99 148.91,647.99 149.34,647.99 149.77,647.99 150.20,647.99 150.63,647.99 151.07,647.99 151.50,647.99 151.93,647.99 152.36,647.99 152.79,648.00 153.22,648.00 153.65,648.00 154.09,648.00 154.52,648.00 154.95,648.00 155.38,648.00 155.81,648.00 156.24,648.00 156.68,648.00 157.11,648.00 157.54,648.00 157.97,648.00 158.40,648.01 158.83,648.01 159.26,648.01 159.70,648.01 160.13,648.01 160.56,648.01 160.99,648.01 161.42,648.01 161.85,648.01 162.29,648.02 162.72,648.02 163.15,648.02 163.58,648.02 164.01,648.02 164.44,648.02 164.88,648.03 165.31,648.03 165.74,648.03 166.17,648.03 166.60,648.04 167.03,648.04 167.46,648.04 167.90,648.04 168.33,648.05 168.76,648.05 169.19,648.05 169.62,648.05 170.05,648.06 170.49,648.06 170.92,648.07 171.35,648.07 171.78,648.07 172.21,648.08 172.64,648.08 173.07,648.09 173.51,648.09 173.94,648.10 174.37,648.10 174.80,648.11 175.23,648.11 175.66,648.12 176.10,648.13 176.53,648.13 176.96,648.14 177.39,648.15 177.82,648.16 178.25,648.16 178.68,648.17 179.12,648.18 179.55,648.19 179.98,648.20 180.41,648.21 180.84,648.22 181.27,648.23 181.71,648.24 182.14,648.26 182.57,648.27 183.00,648.28 183.43,648.30 183.86,648.31 184.29,648.33 184.73,648.34 185.16,648.36 185.59,648.38 186.02,648.40 186.45,648.42 186.88,648.44 187.32,648.46 187.75,648.48 188.18,648.50 188.61,648.53 189.04,648.55 189.47,648.58 189.90,648.61 190.34,648.64 190.77,648.67 191.20,648.70 191.63,648.74 192.06,648.77 192.49,648.81 192.93,648.85 193.36,648.89 193.79,648.93 194.22,648.98 194.65,649.02 195.08,649.07 195.52,649.12 195.95,649.18 196.38,649.23 196.81,649.29 197.24,649.35 197.67,649.41 198.10,649.48 198.54,649.55 198.97,649.63 199.40,649.70 199.83,649.78 200.26,649.87 200.69,649.95 201.13,650.05 201.56,650.14 201.99,650.24 202.42,650.35 202.85,650.46 203.28,650.57 203.71,650.69 204.15,650.82 204.58,650.95 205.01,651.09 205.44,651.23 205.87,651.38 206.30,651.54 206.74,651.70 207.17,651.87 207.60,652.05 208.03,652.24 208.46,652.43 208.89,652.64 209.32,652.85 209.76,653.07 210.19,653.30 210.62,653.54 211.05,653.80 211.48,654.06 211.91,654.33 212.35,654.62 212.78,654.92 213.21,655.23 213.64,655.55 214.07,655.89 214.50,656.24 214.93,656.60 215.37,656.98 215.80,657.38 216.23,657.79 216.66,658.22 217.09,658.66 217.52,659.13 217.96,659.61 218.39,660.11 218.82,660.63 219.25,661.16 219.68,661.72 220.11,662.30 220.54,662.90 220.98,663.52 221.41,664.17 221.84,664.84 222.27,665.53 222.70,666.24 223.13,666.98 223.57,667.74 224.00,668.53 224.43,669.34 224.86,670.18 225.29,671.04 225.72,671.93 226.16,672.85 226.59,673.79 227.02,674.76 227.45,675.76 227.88,676.78 228.31,677.83 228.74,678.91 229.18,680.01 229.61,681.14 230.04,682.29 230.47,683.47 230.90,684.67 231.33,685.90 231.77,687.15 232.20,688.43 232.63,689.72 233.06,691.04 233.49,692.38 233.92,693.74 234.35,695.11 234.79,696.51 235.22,697.92 235.65,699.34 236.08,700.78 236.51,702.23 236.94,703.69 237.38,705.16 237.81,706.63 238.24,708.12 238.67,709.60 239.10,711.09 239.53,712.59 239.96,714.08 240.40,715.57 240.83,717.05 241.26,718.54 241.69,720.01 242.12,721.48 242.55,722.94 242.99,724.38 243.42,725.82 243.85,727.24 244.28,728.64 244.71,730.03 245.14,731.40 245.57,732.75 246.01,734.09 246.44,735.40 246.87,736.69 247.30,737.96 247.73,739.20 248.16,740.42 248.60,741.62 249.03,742.79 249.46,743.94 249.89,745.06 250.32,746.15 250.75,747.22 251.19,748.26 251.62,749.28 252.05,750.27 252.48,751.23 252.91,752.17 253.34,753.08 253.77,753.96 254.21,754.82 254.64,755.65 255.07,756.45 255.50,757.23 255.93,757.99 256.36,758.72 256.80,759.43 257.23,760.11 257.66,760.77 258.09,761.41 258.52,762.03 258.95,762.62 259.38,763.20 259.82,763.75 260.25,764.28 260.68,764.80 261.11,765.29 261.54,765.77 261.97,766.22 262.41,766.66 262.84,767.09 263.27,767.50 263.70,767.89 264.13,768.26 264.56,768.62 264.99,768.97 265.43,769.30 265.86,769.62 266.29,769.93 266.72,770.22 267.15,770.51 267.58,770.78 268.02,771.04 268.45,771.29 268.88,771.53 269.31,771.75 269.74,771.97 270.17,772.18 270.60,772.38 271.04,772.58 271.47,772.76 271.90,772.94 272.33,773.11 272.76,773.27 273.19,773.42 273.63,773.57 274.06,773.71 274.49,773.85 274.92,773.98 275.35,774.10 275.78,774.22 276.21,774.34 276.65,774.44 277.08,774.55 277.51,774.65 277.94,774.74 278.37,774.83 278.80,774.92 279.24,775.00 279.67,775.08 280.10,775.16 280.53,775.23 280.96,775.30 281.39,775.37 281.83,775.43 282.26,775.49 282.69,775.55 283.12,775.60 283.55,775.66 283.98,775.71" fill="none" stroke="#000" stroke-width="1.0" stroke-linejoin="round"/>
<polyline points="210.00,651.98 210.33,652.08 210.65,652.18 210.97,652.28 211.29,652.38 211.61,652.48 211.94,652.58 212.26,652.68 212.58,652.77 212.90,652.87 213.23,652.97 213.55,653.06 213.87,653.16 214.19,653.25 214.52,653.35 214.84,653.44 215.16,653.54 215.48,653.63 215.81,653.73 216.13,653.83 216.45,653.92 216.77,654.02 217.10,654.12 217.42,654.22 217.74,654.32 218.06,654.42 218.39,654.52 218.71,654.62 219.03,654.73 219.35,654.83 219.68,654.94 220.00,655.05 220.32,655.16 220.64,655.27 220.97,655.38 221.29,655.50 221.61,655.62 221.93,655.74 222.26,655.86 222.58,655.98 222.90,656.11 223.19,656.23 223.49,656.35 223.78,656.46 224.08,656.58 224.37,656.70 224.66,656.82 224.96,656.95 225.25,657.07 225.55,657.19 225.84,657.32 226.13,657.45 226.43,657.58 226.72,657.71 227.02,657.84 227.31,657.97 227.61,658.11 227.90,658.25 228.19,658.39 228.49,658.53 228.78,658.67 229.08,658.82 229.37,658.97 229.66,659.12 229.96,659.27 230.25,659.43 230.55,659.59 230.84,659.75 231.13,659.92 231.43,660.09 231.72,660.26 232.02,660.43 232.31,660.61 232.60,660.79 232.90,660.98 233.19,661.17 233.49,661.36 233.78,661.56 234.07,661.76 234.37,661.96 234.66,662.17 234.99,662.41 235.31,662.65 235.63,662.90 235.95,663.16 236.27,663.42 236.60,663.69 236.92,663.98 237.24,664.26 237.56,664.56 237.89,664.86 238.21,665.17 238.53,665.49 238.85,665.82 239.18,666.15 239.50,666.50 239.82,666.85 240.14,667.20 240.47,667.57 240.79,667.94 241.11,668.32 241.43,668.71 241.76,669.11 242.08,669.52 242.40,669.93 242.72,670.35 243.05,670.78 243.37,671.21 243.69,671.66 244.01,672.11 244.34,672.57 244.66,673.03 244.98,673.51 245.30,673.99 245.63,674.49 245.95,674.98 246.27,675.49 246.59,676.01 246.92,676.53 247.24,677.06 247.56,677.60 247.85,678.11 248.15,678.66 248.44,679.24 248.74,679.86 249.03,680.50 249.32,681.18 249.62,681.88 249.91,682.61 250.21,683.36 250.50,684.14 250.79,684.93 251.09,685.75 251.38,686.58 251.68,687.43 251.97,688.30 252.27,689.18 252.56,690.07 252.85,690.98 253.15,691.89 253.44,692.81 253.74,693.73 254.03,694.66 254.32,695.60 254.62,696.53 254.91,697.46 255.21,698.39 255.50,699.32 255.79,700.25 256.09,701.16 256.38,702.07 256.68,702.97 256.97,703.86 257.26,704.74 257.56,705.60 257.85,706.44 258.15,707.27 258.44,708.08 258.73,708.87 259.03,709.64 259.32,710.38 259.65,711.19 259.97,712.01 260.29,712.83 260.61,713.65 260.93,714.49 261.26,715.32 261.58,716.16 261.90,717.00 262.22,717.84 262.55,718.68 262.87,719.53 263.19,720.36 263.51,721.20 263.84,722.03 264.16,722.86 264.48,723.68 264.80,724.50 265.13,725.31 265.45,726.11 265.77,726.90 266.09,727.68 266.42,728.45 266.74,729.21 267.06,729.95 267.38,730.68 267.71,731.40 268.03,732.10 268.35,732.78 268.67,733.44 269.00,734.09 269.32,734.72 269.64,735.32 269.96,735.91 270.29,736.47 270.61,737.01 270.93,737.52 271.25,738.01 271.58,738.47 271.90,738.91 272.22,739.31 272.51,739.67 272.81,740.02 273.10,740.38 273.40,740.73 273.69,741.08 273.98,741.42 274.28,741.77 274.57,742.10 274.87,742.44 275.16,742.77 275.45,743.10 275.75,743.42 276.04,743.73 276.34,744.04 276.63,744.35 276.93,744.65 277.22,744.94 277.51,745.23 277.81,745.51 278.10,745.78 278.40,746.04 278.69,746.30 278.98,746.55 279.28,746.79 279.57,747.02 279.87,747.24 280.16,747.45 280.45,747.66 280.75,747.85 281.04,748.03 281.34,748.21 281.63,748.37 281.92,748.52 282.22,748.66 282.51,748.78 282.81,748.90 283.10,749.00 283.39,749.09 283.69,749.17 283.98,749.23 284.31,749.29 284.63,749.35 284.95,749.41 285.27,749.47 285.59,749.53 285.92,749.58 286.24,749.64 286.56,749.69 286.88,749.74 287.21,749.79 287.53,749.84 287.85,749.89 288.17,749.94 288.50,749.98 288.82,750.03 289.14,750.07 289.46,750.11 289.79,750.15 290.11,750.19 290.43,750.23 290.75,750.26 291.08,750.30 291.40,750.33 291.72,750.36 292.04,750.39 292.37,750.42 292.69,750.44 293.01,750.47 293.33,750.49 293.66,750.51 293.98,750.53 294.30,750.54 294.62,750.56 294.95,750.57 295.27,750.58 295.59,750.59 295.91,750.60 296.24,750.60 296.56,750.61 296.88,750.61 297.50,750.61 298.11,750.61 298.73,750.61 299.35,750.61 299.96,750.61 300.58,750.61 301.20,750.61 301.81,750.61 302.43,750.61 303.04,750.61 303.66,750.61 304.28,750.61 304.89,750.61 305.51,750.61 306.13,750.61 306.74,750.61 307.36,750.61 307.98,750.61 308.59,750.61 309.21,750.61 309.83,750.61 310.44,750.61 311.06,750.61 311.68,750.61 312.29,750.61 312.91,750.61 313.53,750.61 314.14,750.61 314.76,750.61 315.38,750.61 315.99,750.61 316.61,750.61 317.22,750.61 317.84,750.61 318.46,750.61 319.07,750.61 319.69,750.61 320.31,750.61 320.92,750.61 321.54,750.61" fill="none" stroke="#44ee22" stroke-width="1.1" stroke-linejoin="round"/>
<path d="M136.02,642.20V654.04M132.62,642.20h6.8M132.62,654.04h6.8" stroke="#000" stroke-width="1.0" fill="none"/>
<path d="M160.68,635.45V660.24M157.28,635.45h6.8M157.28,660.24h6.8" stroke="#000" stroke-width="1.0" fill="none"/>
<path d="M185.34,641.51V649.77M181.94,641.51h6.8M181.94,649.77h6.8" stroke="#000" stroke-width="1.0" fill="none"/>
<path d="M234.66,678.15V712.04M231.26,678.15h6.8M231.26,712.04h6.8" stroke="#000" stroke-width="1.0" fill="none"/>
<path d="M259.32,756.26V766.17M255.92,756.26h6.8M255.92,766.17h6.8" stroke="#000" stroke-width="1.0" fill="none"/>
<path d="M333.30,748.40V765.76M329.90,748.40h6.8M329.90,765.76h6.8" stroke="#000" stroke-width="1.0" fill="none"/>
<path d="M111.36,649.20l3.5,6.0h-7.0z" fill="#000"/>
<path d="M136.02,644.52l3.5,6.0h-7.0z" fill="#000"/>
<path d="M160.68,644.25l3.5,6.0h-7.0z" fill="#000"/>
<path d="M185.34,642.04l3.5,6.0h-7.0z" fill="#000"/>
<path d="M210.00,650.86l3.5,6.0h-7.0z" fill="#000"/>
<path d="M234.66,691.49l3.5,6.0h-7.0z" fill="#000"/>
<path d="M259.32,757.61l3.5,6.0h-7.0z" fill="#000"/>
<path d="M283.98,771.80l3.5,6.0h-7.0z" fill="#000"/>
<path d="M308.64,769.19l3.5,6.0h-7.0z" fill="#000"/>
<path d="M333.30,753.48l3.5,6.0h-7.0z" fill="#000"/>
<path d="M259.32,704.60V717.27M256.52,704.60h5.6M256.52,717.27h5.6" stroke="#44ee22" stroke-width="1.1" fill="none"/>
<path d="M272.22,736.83V742.89M269.42,736.83h5.6M269.42,742.89h5.6" stroke="#44ee22" stroke-width="1.1" fill="none"/>
<path d="M283.98,748.40V759.42M281.18,748.40h5.6M281.18,759.42h5.6" stroke="#44ee22" stroke-width="1.1" fill="none"/>
<path d="M296.88,748.95V759.42M294.08,748.95h5.6M294.08,759.42h5.6" stroke="#44ee22" stroke-width="1.1" fill="none"/>
<path d="M308.64,745.92V754.74M305.84,745.92h5.6M305.84,754.74h5.6" stroke="#44ee22" stroke-width="1.1" fill="none"/>
<path d="M321.54,739.45V746.61M318.74,739.45h5.6M318.74,746.61h5.6" stroke="#44ee22" stroke-width="1.1" fill="none"/>
<circle cx="210.00" cy="652.12" r="3.3" fill="#44ee22"/>
<circle cx="222.90" cy="656.66" r="3.3" fill="#44ee22"/>
<circle cx="234.66" cy="662.17" r="3.3" fill="#44ee22"/>
<circle cx="247.56" cy="677.60" r="3.3" fill="#44ee22"/>
<circle cx="259.32" cy="710.94" r="3.3" fill="#44ee22"/>
<circle cx="272.22" cy="739.86" r="3.3" fill="#44ee22"/>
<circle cx="283.98" cy="753.91" r="3.3" fill="#44ee22"/>
<circle cx="296.88" cy="754.19" r="3.3" fill="#44ee22"/>
<circle cx="308.64" cy="750.33" r="3.3" fill="#44ee22"/>
<circle cx="321.54" cy="743.03" r="3.3" fill="#44ee22"/>
<line x1="99.60" y1="621.75" x2="99.60" y2="788.55" stroke="#000" stroke-width="1.5" stroke-linecap="butt"/>
<line x1="99.60" y1="787.80" x2="346.95" y2="787.80" stroke="#000" stroke-width="1.5" stroke-linecap="butt"/>
<line x1="92.60" y1="787.80" x2="99.60" y2="787.80" stroke="#000" stroke-width="1.5" stroke-linecap="butt"/>
<text x="90.60" y="792.60" font-size="13.5" font-weight="bold" text-anchor="end" fill="#000" >0</text>
<line x1="92.60" y1="760.25" x2="99.60" y2="760.25" stroke="#000" stroke-width="1.5" stroke-linecap="butt"/>
<text x="90.60" y="765.05" font-size="13.5" font-weight="bold" text-anchor="end" fill="#000" >20</text>
<line x1="92.60" y1="732.70" x2="99.60" y2="732.70" stroke="#000" stroke-width="1.5" stroke-linecap="butt"/>
<text x="90.60" y="737.50" font-size="13.5" font-weight="bold" text-anchor="end" fill="#000" >40</text>
<line x1="92.60" y1="705.15" x2="99.60" y2="705.15" stroke="#000" stroke-width="1.5" stroke-linecap="butt"/>
<text x="90.60" y="709.95" font-size="13.5" font-weight="bold" text-anchor="end" fill="#000" >60</text>
<line x1="92.60" y1="677.60" x2="99.60" y2="677.60" stroke="#000" stroke-width="1.5" stroke-linecap="butt"/>
<text x="90.60" y="682.40" font-size="13.5" font-weight="bold" text-anchor="end" fill="#000" >80</text>
<line x1="92.60" y1="650.05" x2="99.60" y2="650.05" stroke="#000" stroke-width="1.5" stroke-linecap="butt"/>
<text x="90.60" y="654.85" font-size="13.5" font-weight="bold" text-anchor="end" fill="#000" >100</text>
<line x1="92.60" y1="622.50" x2="99.60" y2="622.50" stroke="#000" stroke-width="1.5" stroke-linecap="butt"/>
<text x="90.60" y="627.30" font-size="13.5" font-weight="bold" text-anchor="end" fill="#000" >120</text>
<line x1="99.60" y1="787.80" x2="99.60" y2="794.80" stroke="#000" stroke-width="1.5" stroke-linecap="butt"/>
<text x="103.00" y="804.60" font-size="13.6" font-weight="bold" text-anchor="end" fill="#000" transform="rotate(-45 103.00 804.60)" >0.000001</text>
<line x1="124.26" y1="787.80" x2="124.26" y2="794.80" stroke="#000" stroke-width="1.5" stroke-linecap="butt"/>
<text x="127.66" y="804.60" font-size="13.6" font-weight="bold" text-anchor="end" fill="#000" transform="rotate(-45 127.66 804.60)" >0.00001</text>
<line x1="148.92" y1="787.80" x2="148.92" y2="794.80" stroke="#000" stroke-width="1.5" stroke-linecap="butt"/>
<text x="152.32" y="804.60" font-size="13.6" font-weight="bold" text-anchor="end" fill="#000" transform="rotate(-45 152.32 804.60)" >0.0001</text>
<line x1="173.58" y1="787.80" x2="173.58" y2="794.80" stroke="#000" stroke-width="1.5" stroke-linecap="butt"/>
<text x="176.98" y="804.60" font-size="13.6" font-weight="bold" text-anchor="end" fill="#000" transform="rotate(-45 176.98 804.60)" >0.001</text>
<line x1="198.24" y1="787.80" x2="198.24" y2="794.80" stroke="#000" stroke-width="1.5" stroke-linecap="butt"/>
<text x="201.64" y="804.60" font-size="13.6" font-weight="bold" text-anchor="end" fill="#000" transform="rotate(-45 201.64 804.60)" >0.01</text>
<line x1="222.90" y1="787.80" x2="222.90" y2="794.80" stroke="#000" stroke-width="1.5" stroke-linecap="butt"/>
<text x="226.30" y="804.60" font-size="13.6" font-weight="bold" text-anchor="end" fill="#000" transform="rotate(-45 226.30 804.60)" >0.1</text>
<line x1="247.56" y1="787.80" x2="247.56" y2="794.80" stroke="#000" stroke-width="1.5" stroke-linecap="butt"/>
<text x="250.96" y="804.60" font-size="13.6" font-weight="bold" text-anchor="end" fill="#000" transform="rotate(-45 250.96 804.60)" >1</text>
<line x1="272.22" y1="787.80" x2="272.22" y2="794.80" stroke="#000" stroke-width="1.5" stroke-linecap="butt"/>
<text x="275.62" y="804.60" font-size="13.6" font-weight="bold" text-anchor="end" fill="#000" transform="rotate(-45 275.62 804.60)" >10</text>
<line x1="296.88" y1="787.80" x2="296.88" y2="794.80" stroke="#000" stroke-width="1.5" stroke-linecap="butt"/>
<text x="300.28" y="804.60" font-size="13.6" font-weight="bold" text-anchor="end" fill="#000" transform="rotate(-45 300.28 804.60)" >100</text>
<line x1="321.54" y1="787.80" x2="321.54" y2="794.80" stroke="#000" stroke-width="1.5" stroke-linecap="butt"/>
<text x="324.94" y="804.60" font-size="13.6" font-weight="bold" text-anchor="end" fill="#000" transform="rotate(-45 324.94 804.60)" >1000</text>
<line x1="346.20" y1="787.80" x2="346.20" y2="794.80" stroke="#000" stroke-width="1.5" stroke-linecap="butt"/>
<text x="349.60" y="804.60" font-size="13.6" font-weight="bold" text-anchor="end" fill="#000" transform="rotate(-45 349.60 804.60)" >10000</text>
<text x="59.30" y="703.40" font-size="13.85" font-weight="bold" text-anchor="middle" fill="#000" transform="rotate(-90 59.30 703.40)" >BRD9 protein (%)</text>
<text x="222.20" y="866.20" font-size="13.8" font-weight="bold" text-anchor="middle" fill="#000" >AMPTX-1 (nM)</text>
<line x1="113.50" y1="743.50" x2="130.60" y2="743.50" stroke="#44ee22" stroke-width="1.1" stroke-linecap="butt"/>
<circle cx="122.0" cy="743.5" r="3.3" fill="#44ee22"/>
<text x="140.80" y="748.40" font-size="13.5" text-anchor="start" fill="#222" >MCF-7</text>
<line x1="113.50" y1="763.80" x2="130.60" y2="763.80" stroke="#000" stroke-width="1.0" stroke-linecap="butt"/>
<path d="M122.0,760.2l3.5,6.0h-7.0z" fill="#000"/>
<text x="140.80" y="768.70" font-size="13.5" text-anchor="start" fill="#222" >MV4-11</text>
<text x="377.80" y="613.50" font-size="26" text-anchor="start" fill="#000" >e</text>
<g stroke="#a8a8a8" stroke-width="0.75" stroke-dasharray="0.8 1.3" fill="none">
<line x1="516.40" y1="595.3" x2="516.40" y2="800.4"/>
<line x1="653.20" y1="595.3" x2="653.20" y2="800.4"/>
<line x1="473.3" y1="749.00" x2="695.3" y2="749.00"/>
</g>
<g fill="#c6c6c6" fill-opacity="0.72">
<circle cx="557.2" cy="785.2" r="1.9"/>
<circle cx="593.3" cy="791.3" r="1.9"/>
<circle cx="554.8" cy="791.3" r="1.9"/>
<circle cx="583.3" cy="791.5" r="1.9"/>
<circle cx="557.4" cy="791.6" r="1.9"/>
<circle cx="555.6" cy="790.9" r="1.9"/>
<circle cx="619.4" cy="788.0" r="1.9"/>
<circle cx="607.0" cy="791.8" r="1.9"/>
<circle cx="642.8" cy="785.8" r="1.9"/>
<circle cx="578.3" cy="791.1" r="1.9"/>
<circle cx="587.0" cy="791.5" r="1.9"/>
<circle cx="588.1" cy="791.9" r="1.9"/>
<circle cx="591.0" cy="791.9" r="1.9"/>
<circle cx="600.4" cy="791.0" r="1.9"/>
<circle cx="544.4" cy="789.1" r="1.9"/>
<circle cx="600.6" cy="790.3" r="1.9"/>
<circle cx="551.5" cy="790.0" r="1.9"/>
<circle cx="584.8" cy="791.8" r="1.9"/>
<circle cx="583.7" cy="791.0" r="1.9"/>
<circle cx="579.7" cy="791.7" r="1.9"/>
<circle cx="565.8" cy="791.3" r="1.9"/>
<circle cx="619.6" cy="790.2" r="1.9"/>
<circle cx="601.2" cy="788.9" r="1.9"/>
<circle cx="541.8" cy="784.2" r="1.9"/>
<circle cx="622.0" cy="791.9" r="1.9"/>
<circle cx="597.2" cy="791.1" r="1.9"/>
<circle cx="632.8" cy="773.7" r="1.9"/>
<circle cx="577.8" cy="791.1" r="1.9"/>
<circle cx="590.1" cy="790.8" r="1.9"/>
<circle cx="583.6" cy="791.7" r="1.9"/>
<circle cx="594.4" cy="788.5" r="1.9"/>
<circle cx="585.4" cy="791.8" r="1.9"/>
<circle cx="573.5" cy="791.8" r="1.9"/>
<circle cx="622.3" cy="791.2" r="1.9"/>
<circle cx="599.6" cy="790.7" r="1.9"/>
<circle cx="570.9" cy="790.1" r="1.9"/>
<circle cx="589.6" cy="791.8" r="1.9"/>
<circle cx="577.8" cy="791.4" r="1.9"/>
<circle cx="576.0" cy="791.7" r="1.9"/>
<circle cx="577.4" cy="790.5" r="1.9"/>
<circle cx="644.4" cy="789.8" r="1.9"/>
<circle cx="596.4" cy="791.3" r="1.9"/>
<circle cx="574.5" cy="789.8" r="1.9"/>
<circle cx="578.3" cy="788.2" r="1.9"/>
<circle cx="576.7" cy="791.7" r="1.9"/>
<circle cx="582.8" cy="791.7" r="1.9"/>
<circle cx="623.6" cy="790.6" r="1.9"/>
<circle cx="593.6" cy="791.0" r="1.9"/>
<circle cx="589.2" cy="791.7" r="1.9"/>
<circle cx="567.3" cy="790.9" r="1.9"/>
<circle cx="571.9" cy="787.7" r="1.9"/>
<circle cx="555.4" cy="786.3" r="1.9"/>
<circle cx="587.8" cy="791.8" r="1.9"/>
<circle cx="612.8" cy="787.4" r="1.9"/>
<circle cx="625.5" cy="790.8" r="1.9"/>
<circle cx="598.5" cy="788.1" r="1.9"/>
<circle cx="619.2" cy="791.2" r="1.9"/>
<circle cx="629.2" cy="788.0" r="1.9"/>
<circle cx="570.4" cy="791.1" r="1.9"/>
<circle cx="589.8" cy="789.6" r="1.9"/>
<circle cx="588.7" cy="791.7" r="1.9"/>
<circle cx="579.9" cy="790.7" r="1.9"/>
<circle cx="568.1" cy="790.4" r="1.9"/>
<circle cx="581.0" cy="791.1" r="1.9"/>
<circle cx="598.3" cy="791.8" r="1.9"/>
<circle cx="588.7" cy="790.7" r="1.9"/>
<circle cx="613.4" cy="789.3" r="1.9"/>
<circle cx="575.3" cy="791.7" r="1.9"/>
<circle cx="634.3" cy="791.8" r="1.9"/>
<circle cx="581.8" cy="791.9" r="1.9"/>
<circle cx="609.1" cy="791.5" r="1.9"/>
<circle cx="564.8" cy="791.6" r="1.9"/>
<circle cx="606.4" cy="791.0" r="1.9"/>
<circle cx="633.8" cy="786.8" r="1.9"/>
<circle cx="544.7" cy="787.4" r="1.9"/>
<circle cx="574.1" cy="791.9" r="1.9"/>
<circle cx="578.5" cy="791.9" r="1.9"/>
<circle cx="614.4" cy="782.7" r="1.9"/>
<circle cx="566.0" cy="791.9" r="1.9"/>
<circle cx="567.8" cy="789.8" r="1.9"/>
<circle cx="565.2" cy="791.2" r="1.9"/>
<circle cx="593.7" cy="791.1" r="1.9"/>
<circle cx="584.8" cy="791.3" r="1.9"/>
<circle cx="614.7" cy="788.5" r="1.9"/>
<circle cx="563.1" cy="788.7" r="1.9"/>
<circle cx="602.9" cy="789.9" r="1.9"/>
<circle cx="574.1" cy="789.3" r="1.9"/>
<circle cx="601.0" cy="789.4" r="1.9"/>
<circle cx="567.8" cy="788.6" r="1.9"/>
<circle cx="556.4" cy="790.6" r="1.9"/>
<circle cx="570.8" cy="790.7" r="1.9"/>
<circle cx="577.6" cy="791.0" r="1.9"/>
<circle cx="579.0" cy="788.1" r="1.9"/>
<circle cx="611.3" cy="790.7" r="1.9"/>
<circle cx="559.8" cy="788.8" r="1.9"/>
<circle cx="563.6" cy="788.2" r="1.9"/>
<circle cx="573.0" cy="791.8" r="1.9"/>
<circle cx="584.8" cy="791.5" r="1.9"/>
<circle cx="579.2" cy="791.4" r="1.9"/>
<circle cx="589.1" cy="791.4" r="1.9"/>
<circle cx="619.5" cy="788.8" r="1.9"/>
<circle cx="600.0" cy="791.9" r="1.9"/>
<circle cx="576.5" cy="791.6" r="1.9"/>
<circle cx="578.2" cy="791.7" r="1.9"/>
<circle cx="571.1" cy="788.7" r="1.9"/>
<circle cx="571.7" cy="789.0" r="1.9"/>
<circle cx="564.2" cy="791.1" r="1.9"/>
<circle cx="577.2" cy="791.4" r="1.9"/>
<circle cx="571.8" cy="789.8" r="1.9"/>
<circle cx="624.7" cy="790.1" r="1.9"/>
<circle cx="560.9" cy="789.9" r="1.9"/>
<circle cx="579.8" cy="791.4" r="1.9"/>
<circle cx="596.0" cy="789.8" r="1.9"/>
<circle cx="605.5" cy="786.0" r="1.9"/>
<circle cx="555.9" cy="791.0" r="1.9"/>
<circle cx="596.8" cy="791.5" r="1.9"/>
<circle cx="606.4" cy="791.4" r="1.9"/>
<circle cx="557.7" cy="790.2" r="1.9"/>
<circle cx="601.1" cy="791.3" r="1.9"/>
<circle cx="618.8" cy="790.0" r="1.9"/>
<circle cx="530.6" cy="791.5" r="1.9"/>
<circle cx="629.7" cy="791.7" r="1.9"/>
<circle cx="593.8" cy="790.7" r="1.9"/>
<circle cx="567.3" cy="789.3" r="1.9"/>
<circle cx="576.5" cy="791.9" r="1.9"/>
<circle cx="601.1" cy="791.9" r="1.9"/>
<circle cx="603.5" cy="788.7" r="1.9"/>
<circle cx="585.8" cy="791.9" r="1.9"/>
<circle cx="597.2" cy="790.7" r="1.9"/>
<circle cx="554.8" cy="788.9" r="1.9"/>
<circle cx="595.3" cy="790.1" r="1.9"/>
<circle cx="617.9" cy="791.2" r="1.9"/>
<circle cx="576.0" cy="791.3" r="1.9"/>
<circle cx="586.2" cy="791.6" r="1.9"/>
<circle cx="587.8" cy="791.2" r="1.9"/>
<circle cx="592.6" cy="791.5" r="1.9"/>
<circle cx="601.0" cy="790.0" r="1.9"/>
<circle cx="553.9" cy="787.8" r="1.9"/>
<circle cx="580.8" cy="791.6" r="1.9"/>
<circle cx="597.6" cy="791.8" r="1.9"/>
<circle cx="537.4" cy="779.6" r="1.9"/>
<circle cx="582.7" cy="791.6" r="1.9"/>
<circle cx="573.1" cy="790.7" r="1.9"/>
<circle cx="603.3" cy="790.4" r="1.9"/>
<circle cx="573.0" cy="789.3" r="1.9"/>
<circle cx="600.5" cy="790.9" r="1.9"/>
<circle cx="532.9" cy="786.6" r="1.9"/>
<circle cx="594.9" cy="790.1" r="1.9"/>
<circle cx="619.5" cy="788.5" r="1.9"/>
<circle cx="581.6" cy="790.5" r="1.9"/>
<circle cx="569.5" cy="786.0" r="1.9"/>
<circle cx="612.5" cy="787.8" r="1.9"/>
<circle cx="580.8" cy="791.7" r="1.9"/>
<circle cx="622.3" cy="790.4" r="1.9"/>
<circle cx="561.0" cy="791.7" r="1.9"/>
<circle cx="558.2" cy="788.2" r="1.9"/>
<circle cx="595.2" cy="791.2" r="1.9"/>
<circle cx="625.2" cy="791.6" r="1.9"/>
<circle cx="592.1" cy="790.5" r="1.9"/>
<circle cx="594.3" cy="790.3" r="1.9"/>
<circle cx="602.8" cy="791.6" r="1.9"/>
<circle cx="601.0" cy="789.9" r="1.9"/>
<circle cx="606.7" cy="788.1" r="1.9"/>
<circle cx="564.5" cy="790.6" r="1.9"/>
<circle cx="534.2" cy="777.3" r="1.9"/>
<circle cx="598.5" cy="790.9" r="1.9"/>
<circle cx="593.0" cy="791.6" r="1.9"/>
<circle cx="580.5" cy="791.4" r="1.9"/>
<circle cx="552.9" cy="786.3" r="1.9"/>
<circle cx="566.7" cy="791.1" r="1.9"/>
<circle cx="577.6" cy="790.3" r="1.9"/>
<circle cx="597.3" cy="789.5" r="1.9"/>
<circle cx="575.8" cy="788.5" r="1.9"/>
<circle cx="555.7" cy="791.3" r="1.9"/>
<circle cx="580.3" cy="791.4" r="1.9"/>
<circle cx="554.0" cy="791.8" r="1.9"/>
<circle cx="584.2" cy="790.3" r="1.9"/>
<circle cx="562.1" cy="788.4" r="1.9"/>
<circle cx="582.5" cy="791.5" r="1.9"/>
<circle cx="550.3" cy="791.7" r="1.9"/>
<circle cx="586.7" cy="791.5" r="1.9"/>
<circle cx="536.3" cy="779.9" r="1.9"/>
<circle cx="614.0" cy="791.0" r="1.9"/>
<circle cx="573.2" cy="791.2" r="1.9"/>
<circle cx="586.8" cy="791.0" r="1.9"/>
<circle cx="605.6" cy="791.1" r="1.9"/>
<circle cx="569.8" cy="791.6" r="1.9"/>
<circle cx="546.9" cy="791.4" r="1.9"/>
<circle cx="550.1" cy="786.9" r="1.9"/>
<circle cx="599.5" cy="791.5" r="1.9"/>
<circle cx="586.9" cy="791.3" r="1.9"/>
<circle cx="575.5" cy="790.9" r="1.9"/>
<circle cx="603.8" cy="791.7" r="1.9"/>
<circle cx="583.4" cy="791.6" r="1.9"/>
<circle cx="573.3" cy="791.6" r="1.9"/>
<circle cx="593.8" cy="791.3" r="1.9"/>
<circle cx="611.1" cy="790.7" r="1.9"/>
<circle cx="561.1" cy="791.5" r="1.9"/>
<circle cx="599.1" cy="791.6" r="1.9"/>
<circle cx="563.0" cy="790.3" r="1.9"/>
<circle cx="561.1" cy="787.7" r="1.9"/>
<circle cx="550.8" cy="791.1" r="1.9"/>
<circle cx="556.1" cy="788.3" r="1.9"/>
<circle cx="602.9" cy="791.2" r="1.9"/>
<circle cx="539.6" cy="790.3" r="1.9"/>
<circle cx="598.8" cy="783.0" r="1.9"/>
<circle cx="577.4" cy="790.0" r="1.9"/>
<circle cx="595.9" cy="790.4" r="1.9"/>
<circle cx="597.2" cy="791.5" r="1.9"/>
<circle cx="619.8" cy="790.1" r="1.9"/>
<circle cx="609.2" cy="788.3" r="1.9"/>
<circle cx="600.9" cy="790.1" r="1.9"/>
<circle cx="601.1" cy="791.9" r="1.9"/>
<circle cx="595.2" cy="789.2" r="1.9"/>
<circle cx="617.4" cy="781.3" r="1.9"/>
<circle cx="604.9" cy="789.2" r="1.9"/>
<circle cx="602.6" cy="790.7" r="1.9"/>
<circle cx="579.1" cy="791.8" r="1.9"/>
<circle cx="571.4" cy="791.7" r="1.9"/>
<circle cx="612.6" cy="790.0" r="1.9"/>
<circle cx="591.5" cy="791.2" r="1.9"/>
<circle cx="593.5" cy="791.7" r="1.9"/>
<circle cx="596.3" cy="789.7" r="1.9"/>
<circle cx="636.3" cy="791.4" r="1.9"/>
<circle cx="581.7" cy="791.9" r="1.9"/>
<circle cx="608.8" cy="788.6" r="1.9"/>
<circle cx="577.3" cy="791.5" r="1.9"/>
<circle cx="558.2" cy="790.5" r="1.9"/>
<circle cx="590.4" cy="791.2" r="1.9"/>
<circle cx="619.8" cy="785.8" r="1.9"/>
<circle cx="587.7" cy="791.8" r="1.9"/>
<circle cx="549.3" cy="790.2" r="1.9"/>
<circle cx="595.4" cy="791.7" r="1.9"/>
<circle cx="598.6" cy="791.9" r="1.9"/>
<circle cx="608.1" cy="787.0" r="1.9"/>
<circle cx="596.1" cy="789.6" r="1.9"/>
<circle cx="551.4" cy="788.8" r="1.9"/>
<circle cx="559.6" cy="790.2" r="1.9"/>
<circle cx="602.0" cy="785.2" r="1.9"/>
<circle cx="590.7" cy="790.0" r="1.9"/>
<circle cx="568.4" cy="789.7" r="1.9"/>
<circle cx="592.1" cy="791.5" r="1.9"/>
<circle cx="544.0" cy="783.1" r="1.9"/>
<circle cx="610.1" cy="788.4" r="1.9"/>
<circle cx="561.0" cy="788.6" r="1.9"/>
<circle cx="554.8" cy="791.7" r="1.9"/>
<circle cx="605.0" cy="791.1" r="1.9"/>
<circle cx="581.6" cy="791.6" r="1.9"/>
<circle cx="585.4" cy="791.4" r="1.9"/>
<circle cx="573.1" cy="788.4" r="1.9"/>
<circle cx="573.3" cy="790.6" r="1.9"/>
<circle cx="567.4" cy="790.5" r="1.9"/>
<circle cx="613.0" cy="789.9" r="1.9"/>
<circle cx="646.3" cy="785.6" r="1.9"/>
<circle cx="573.3" cy="787.2" r="1.9"/>
<circle cx="548.3" cy="791.8" r="1.9"/>
<circle cx="557.1" cy="791.1" r="1.9"/>
<circle cx="560.3" cy="790.7" r="1.9"/>
<circle cx="598.9" cy="791.2" r="1.9"/>
<circle cx="589.4" cy="791.8" r="1.9"/>
<circle cx="584.5" cy="791.6" r="1.9"/>
<circle cx="633.8" cy="788.5" r="1.9"/>
<circle cx="613.4" cy="777.6" r="1.9"/>
<circle cx="578.8" cy="791.1" r="1.9"/>
<circle cx="588.1" cy="791.4" r="1.9"/>
<circle cx="576.4" cy="790.6" r="1.9"/>
<circle cx="634.8" cy="791.1" r="1.9"/>
<circle cx="599.4" cy="791.0" r="1.9"/>
<circle cx="597.6" cy="790.7" r="1.9"/>
<circle cx="607.9" cy="791.8" r="1.9"/>
<circle cx="607.0" cy="790.3" r="1.9"/>
<circle cx="576.8" cy="791.1" r="1.9"/>
<circle cx="572.5" cy="790.6" r="1.9"/>
<circle cx="598.6" cy="790.8" r="1.9"/>
<circle cx="577.3" cy="791.6" r="1.9"/>
<circle cx="619.9" cy="791.9" r="1.9"/>
<circle cx="585.0" cy="791.8" r="1.9"/>
<circle cx="591.5" cy="790.7" r="1.9"/>
<circle cx="547.7" cy="787.0" r="1.9"/>
<circle cx="615.5" cy="791.8" r="1.9"/>
<circle cx="638.9" cy="791.5" r="1.9"/>
<circle cx="581.0" cy="790.4" r="1.9"/>
<circle cx="561.6" cy="784.0" r="1.9"/>
<circle cx="595.8" cy="791.6" r="1.9"/>
<circle cx="532.3" cy="785.3" r="1.9"/>
<circle cx="577.0" cy="791.3" r="1.9"/>
<circle cx="626.0" cy="788.3" r="1.9"/>
<circle cx="579.3" cy="791.8" r="1.9"/>
<circle cx="567.1" cy="791.5" r="1.9"/>
<circle cx="567.3" cy="791.8" r="1.9"/>
<circle cx="573.3" cy="791.2" r="1.9"/>
<circle cx="582.8" cy="791.3" r="1.9"/>
<circle cx="567.9" cy="790.5" r="1.9"/>
<circle cx="589.7" cy="791.5" r="1.9"/>
<circle cx="589.7" cy="787.7" r="1.9"/>
<circle cx="557.5" cy="784.1" r="1.9"/>
<circle cx="583.2" cy="791.8" r="1.9"/>
<circle cx="568.2" cy="788.3" r="1.9"/>
<circle cx="591.6" cy="791.5" r="1.9"/>
<circle cx="553.9" cy="791.0" r="1.9"/>
<circle cx="573.2" cy="790.8" r="1.9"/>
<circle cx="558.1" cy="789.4" r="1.9"/>
<circle cx="585.1" cy="791.8" r="1.9"/>
<circle cx="570.2" cy="786.3" r="1.9"/>
<circle cx="624.8" cy="791.7" r="1.9"/>
<circle cx="561.4" cy="791.8" r="1.9"/>
<circle cx="581.7" cy="791.3" r="1.9"/>
<circle cx="608.3" cy="791.7" r="1.9"/>
<circle cx="576.3" cy="791.8" r="1.9"/>
<circle cx="582.5" cy="791.3" r="1.9"/>
<circle cx="554.5" cy="790.6" r="1.9"/>
<circle cx="574.8" cy="791.2" r="1.9"/>
<circle cx="589.9" cy="790.9" r="1.9"/>
<circle cx="604.9" cy="788.4" r="1.9"/>
<circle cx="595.0" cy="790.1" r="1.9"/>
<circle cx="589.9" cy="791.2" r="1.9"/>
<circle cx="586.6" cy="791.6" r="1.9"/>
<circle cx="569.3" cy="791.4" r="1.9"/>
<circle cx="592.8" cy="790.9" r="1.9"/>
<circle cx="564.7" cy="783.2" r="1.9"/>
<circle cx="571.8" cy="790.1" r="1.9"/>
<circle cx="610.1" cy="785.9" r="1.9"/>
<circle cx="565.3" cy="791.7" r="1.9"/>
<circle cx="594.3" cy="789.8" r="1.9"/>
<circle cx="593.1" cy="791.1" r="1.9"/>
<circle cx="589.2" cy="791.5" r="1.9"/>
<circle cx="577.3" cy="790.6" r="1.9"/>
<circle cx="567.3" cy="791.8" r="1.9"/>
<circle cx="592.4" cy="791.8" r="1.9"/>
<circle cx="617.2" cy="790.8" r="1.9"/>
<circle cx="579.4" cy="791.7" r="1.9"/>
<circle cx="550.5" cy="791.4" r="1.9"/>
<circle cx="562.0" cy="790.9" r="1.9"/>
<circle cx="613.1" cy="791.6" r="1.9"/>
<circle cx="577.4" cy="789.7" r="1.9"/>
<circle cx="556.5" cy="784.4" r="1.9"/>
<circle cx="605.5" cy="788.7" r="1.9"/>
<circle cx="572.3" cy="791.4" r="1.9"/>
<circle cx="575.4" cy="789.1" r="1.9"/>
<circle cx="605.6" cy="787.5" r="1.9"/>
<circle cx="585.0" cy="791.7" r="1.9"/>
<circle cx="606.2" cy="791.0" r="1.9"/>
<circle cx="567.1" cy="791.5" r="1.9"/>
<circle cx="598.4" cy="790.8" r="1.9"/>
<circle cx="593.0" cy="790.2" r="1.9"/>
<circle cx="557.9" cy="789.8" r="1.9"/>
<circle cx="601.7" cy="788.4" r="1.9"/>
<circle cx="618.9" cy="790.8" r="1.9"/>
<circle cx="611.7" cy="789.9" r="1.9"/>
<circle cx="588.6" cy="791.4" r="1.9"/>
<circle cx="616.8" cy="787.0" r="1.9"/>
<circle cx="577.9" cy="791.8" r="1.9"/>
<circle cx="546.7" cy="791.6" r="1.9"/>
<circle cx="573.3" cy="791.8" r="1.9"/>
<circle cx="580.9" cy="791.8" r="1.9"/>
<circle cx="536.6" cy="787.2" r="1.9"/>
<circle cx="607.9" cy="789.6" r="1.9"/>
<circle cx="614.2" cy="791.1" r="1.9"/>
<circle cx="591.9" cy="791.3" r="1.9"/>
<circle cx="622.6" cy="786.7" r="1.9"/>
<circle cx="568.7" cy="786.5" r="1.9"/>
<circle cx="597.4" cy="790.5" r="1.9"/>
<circle cx="556.8" cy="788.5" r="1.9"/>
<circle cx="585.9" cy="791.3" r="1.9"/>
<circle cx="604.8" cy="788.6" r="1.9"/>
<circle cx="573.0" cy="790.6" r="1.9"/>
<circle cx="609.5" cy="787.7" r="1.9"/>
<circle cx="552.3" cy="785.2" r="1.9"/>
<circle cx="615.9" cy="789.7" r="1.9"/>
<circle cx="576.3" cy="790.7" r="1.9"/>
<circle cx="592.4" cy="791.4" r="1.9"/>
<circle cx="562.4" cy="791.6" r="1.9"/>
<circle cx="581.0" cy="791.6" r="1.9"/>
<circle cx="515.6" cy="790.6" r="1.9"/>
<circle cx="591.5" cy="791.6" r="1.9"/>
<circle cx="607.6" cy="784.4" r="1.9"/>
<circle cx="602.9" cy="791.7" r="1.9"/>
<circle cx="591.8" cy="791.0" r="1.9"/>
<circle cx="587.1" cy="791.9" r="1.9"/>
<circle cx="570.8" cy="791.0" r="1.9"/>
<circle cx="542.1" cy="791.7" r="1.9"/>
<circle cx="559.9" cy="791.6" r="1.9"/>
<circle cx="591.1" cy="791.7" r="1.9"/>
<circle cx="599.3" cy="790.1" r="1.9"/>
<circle cx="571.5" cy="791.6" r="1.9"/>
<circle cx="575.8" cy="791.6" r="1.9"/>
<circle cx="602.6" cy="791.3" r="1.9"/>
<circle cx="618.4" cy="789.4" r="1.9"/>
<circle cx="595.4" cy="791.6" r="1.9"/>
<circle cx="561.3" cy="787.1" r="1.9"/>
<circle cx="602.5" cy="790.6" r="1.9"/>
<circle cx="574.2" cy="788.4" r="1.9"/>
<circle cx="568.9" cy="791.8" r="1.9"/>
<circle cx="586.5" cy="790.4" r="1.9"/>
<circle cx="591.9" cy="791.3" r="1.9"/>
<circle cx="563.7" cy="790.5" r="1.9"/>
<circle cx="574.2" cy="790.7" r="1.9"/>
<circle cx="652.7" cy="790.1" r="1.9"/>
<circle cx="610.3" cy="790.8" r="1.9"/>
<circle cx="586.5" cy="791.1" r="1.9"/>
<circle cx="577.8" cy="791.8" r="1.9"/>
<circle cx="554.8" cy="791.4" r="1.9"/>
<circle cx="577.2" cy="790.1" r="1.9"/>
<circle cx="600.5" cy="790.8" r="1.9"/>
<circle cx="538.4" cy="790.5" r="1.9"/>
<circle cx="530.8" cy="787.9" r="1.9"/>
<circle cx="607.4" cy="791.9" r="1.9"/>
<circle cx="616.2" cy="786.8" r="1.9"/>
<circle cx="608.6" cy="791.7" r="1.9"/>
<circle cx="550.3" cy="790.9" r="1.9"/>
<circle cx="582.7" cy="791.6" r="1.9"/>
<circle cx="574.8" cy="791.2" r="1.9"/>
<circle cx="613.6" cy="786.6" r="1.9"/>
<circle cx="576.5" cy="791.6" r="1.9"/>
<circle cx="590.5" cy="790.0" r="1.9"/>
<circle cx="562.1" cy="791.7" r="1.9"/>
<circle cx="591.9" cy="791.2" r="1.9"/>
<circle cx="571.1" cy="790.9" r="1.9"/>
<circle cx="608.2" cy="791.1" r="1.9"/>
<circle cx="620.4" cy="790.6" r="1.9"/>
<circle cx="601.9" cy="790.9" r="1.9"/>
<circle cx="593.7" cy="790.7" r="1.9"/>
<circle cx="562.9" cy="791.7" r="1.9"/>
<circle cx="611.4" cy="790.6" r="1.9"/>
<circle cx="527.6" cy="781.9" r="1.9"/>
<circle cx="598.8" cy="790.4" r="1.9"/>
<circle cx="606.7" cy="789.3" r="1.9"/>
<circle cx="586.5" cy="791.8" r="1.9"/>
<circle cx="561.8" cy="791.9" r="1.9"/>
<circle cx="575.0" cy="786.9" r="1.9"/>
<circle cx="589.5" cy="791.2" r="1.9"/>
<circle cx="570.2" cy="791.4" r="1.9"/>
<circle cx="564.8" cy="791.2" r="1.9"/>
<circle cx="604.6" cy="791.1" r="1.9"/>
<circle cx="558.7" cy="791.2" r="1.9"/>
<circle cx="605.8" cy="791.5" r="1.9"/>
<circle cx="582.5" cy="790.3" r="1.9"/>
<circle cx="564.8" cy="790.3" r="1.9"/>
<circle cx="581.5" cy="790.8" r="1.9"/>
<circle cx="564.8" cy="791.7" r="1.9"/>
<circle cx="591.2" cy="791.0" r="1.9"/>
<circle cx="592.6" cy="790.8" r="1.9"/>
<circle cx="594.6" cy="790.0" r="1.9"/>
<circle cx="605.5" cy="790.1" r="1.9"/>
<circle cx="598.5" cy="791.7" r="1.9"/>
<circle cx="593.5" cy="791.8" r="1.9"/>
<circle cx="577.5" cy="789.7" r="1.9"/>
<circle cx="589.6" cy="791.5" r="1.9"/>
<circle cx="552.3" cy="787.4" r="1.9"/>
<circle cx="582.4" cy="791.0" r="1.9"/>
<circle cx="569.5" cy="791.1" r="1.9"/>
<circle cx="598.1" cy="791.9" r="1.9"/>
<circle cx="556.4" cy="781.2" r="1.9"/>
<circle cx="605.3" cy="788.9" r="1.9"/>
<circle cx="568.3" cy="791.9" r="1.9"/>
<circle cx="558.7" cy="790.9" r="1.9"/>
<circle cx="566.9" cy="791.7" r="1.9"/>
<circle cx="612.2" cy="790.7" r="1.9"/>
<circle cx="545.1" cy="785.3" r="1.9"/>
<circle cx="582.5" cy="791.4" r="1.9"/>
<circle cx="605.8" cy="787.3" r="1.9"/>
<circle cx="617.1" cy="789.5" r="1.9"/>
<circle cx="568.8" cy="791.7" r="1.9"/>
<circle cx="606.1" cy="789.4" r="1.9"/>
<circle cx="611.9" cy="788.7" r="1.9"/>
<circle cx="582.5" cy="790.9" r="1.9"/>
<circle cx="602.5" cy="790.2" r="1.9"/>
<circle cx="636.2" cy="790.8" r="1.9"/>
<circle cx="599.4" cy="790.7" r="1.9"/>
<circle cx="593.2" cy="790.8" r="1.9"/>
<circle cx="560.0" cy="790.9" r="1.9"/>
<circle cx="630.4" cy="789.2" r="1.9"/>
<circle cx="628.1" cy="791.3" r="1.9"/>
<circle cx="627.6" cy="782.3" r="1.9"/>
<circle cx="556.9" cy="789.7" r="1.9"/>
<circle cx="577.0" cy="791.6" r="1.9"/>
<circle cx="644.0" cy="782.0" r="1.9"/>
<circle cx="546.9" cy="788.6" r="1.9"/>
<circle cx="615.0" cy="790.9" r="1.9"/>
<circle cx="614.1" cy="785.6" r="1.9"/>
<circle cx="586.5" cy="791.0" r="1.9"/>
<circle cx="614.2" cy="791.3" r="1.9"/>
<circle cx="576.2" cy="791.9" r="1.9"/>
<circle cx="582.1" cy="791.8" r="1.9"/>
<circle cx="638.1" cy="786.3" r="1.9"/>
<circle cx="580.4" cy="791.7" r="1.9"/>
<circle cx="567.3" cy="791.1" r="1.9"/>
<circle cx="552.3" cy="789.2" r="1.9"/>
<circle cx="586.2" cy="791.8" r="1.9"/>
<circle cx="580.9" cy="791.5" r="1.9"/>
<circle cx="598.7" cy="790.7" r="1.9"/>
<circle cx="602.3" cy="791.6" r="1.9"/>
<circle cx="567.3" cy="790.5" r="1.9"/>
<circle cx="582.6" cy="791.7" r="1.9"/>
<circle cx="580.9" cy="791.2" r="1.9"/>
<circle cx="579.9" cy="791.8" r="1.9"/>
<circle cx="614.4" cy="790.1" r="1.9"/>
<circle cx="577.1" cy="791.4" r="1.9"/>
<circle cx="560.2" cy="788.6" r="1.9"/>
<circle cx="560.6" cy="788.7" r="1.9"/>
<circle cx="591.3" cy="790.4" r="1.9"/>
<circle cx="599.0" cy="791.1" r="1.9"/>
<circle cx="566.5" cy="790.4" r="1.9"/>
<circle cx="607.6" cy="790.3" r="1.9"/>
<circle cx="569.3" cy="791.0" r="1.9"/>
<circle cx="601.2" cy="791.8" r="1.9"/>
<circle cx="573.6" cy="790.4" r="1.9"/>
<circle cx="614.5" cy="789.4" r="1.9"/>
<circle cx="563.3" cy="789.1" r="1.9"/>
<circle cx="574.6" cy="791.8" r="1.9"/>
<circle cx="613.3" cy="791.5" r="1.9"/>
<circle cx="559.6" cy="790.7" r="1.9"/>
<circle cx="593.5" cy="791.8" r="1.9"/>
<circle cx="575.4" cy="791.6" r="1.9"/>
<circle cx="558.8" cy="791.0" r="1.9"/>
<circle cx="571.7" cy="791.8" r="1.9"/>
<circle cx="594.9" cy="789.3" r="1.9"/>
<circle cx="617.5" cy="785.7" r="1.9"/>
<circle cx="577.8" cy="791.4" r="1.9"/>
<circle cx="590.2" cy="790.9" r="1.9"/>
<circle cx="569.8" cy="790.7" r="1.9"/>
<circle cx="593.2" cy="790.4" r="1.9"/>
<circle cx="578.9" cy="791.8" r="1.9"/>
<circle cx="530.9" cy="791.9" r="1.9"/>
<circle cx="571.8" cy="791.5" r="1.9"/>
<circle cx="578.7" cy="791.8" r="1.9"/>
<circle cx="603.9" cy="787.8" r="1.9"/>
<circle cx="593.9" cy="791.5" r="1.9"/>
<circle cx="564.0" cy="790.2" r="1.9"/>
<circle cx="590.2" cy="790.2" r="1.9"/>
<circle cx="586.4" cy="791.7" r="1.9"/>
<circle cx="532.2" cy="789.4" r="1.9"/>
<circle cx="585.3" cy="791.8" r="1.9"/>
<circle cx="570.4" cy="788.7" r="1.9"/>
<circle cx="633.8" cy="790.9" r="1.9"/>
<circle cx="595.9" cy="791.2" r="1.9"/>
<circle cx="566.8" cy="791.6" r="1.9"/>
<circle cx="638.7" cy="790.7" r="1.9"/>
<circle cx="534.0" cy="787.0" r="1.9"/>
<circle cx="601.5" cy="791.8" r="1.9"/>
<circle cx="628.2" cy="791.4" r="1.9"/>
<circle cx="581.8" cy="790.6" r="1.9"/>
<circle cx="565.5" cy="788.1" r="1.9"/>
<circle cx="582.0" cy="791.2" r="1.9"/>
<circle cx="573.0" cy="788.5" r="1.9"/>
<circle cx="576.2" cy="791.7" r="1.9"/>
<circle cx="587.9" cy="791.7" r="1.9"/>
<circle cx="581.1" cy="791.8" r="1.9"/>
<circle cx="570.3" cy="791.5" r="1.9"/>
<circle cx="564.4" cy="791.0" r="1.9"/>
<circle cx="550.5" cy="788.4" r="1.9"/>
<circle cx="607.3" cy="791.3" r="1.9"/>
<circle cx="564.8" cy="791.2" r="1.9"/>
<circle cx="614.8" cy="791.0" r="1.9"/>
<circle cx="569.9" cy="790.4" r="1.9"/>
<circle cx="639.2" cy="788.8" r="1.9"/>
<circle cx="619.3" cy="789.4" r="1.9"/>
<circle cx="578.1" cy="791.1" r="1.9"/>
<circle cx="583.5" cy="791.7" r="1.9"/>
<circle cx="584.6" cy="791.9" r="1.9"/>
<circle cx="625.5" cy="790.6" r="1.9"/>
<circle cx="585.4" cy="791.8" r="1.9"/>
<circle cx="567.9" cy="790.6" r="1.9"/>
<circle cx="603.5" cy="784.0" r="1.9"/>
<circle cx="629.1" cy="791.8" r="1.9"/>
<circle cx="548.3" cy="790.2" r="1.9"/>
<circle cx="593.8" cy="789.3" r="1.9"/>
<circle cx="570.6" cy="790.8" r="1.9"/>
<circle cx="584.8" cy="791.5" r="1.9"/>
<circle cx="563.8" cy="788.9" r="1.9"/>
<circle cx="610.3" cy="790.2" r="1.9"/>
<circle cx="541.2" cy="787.1" r="1.9"/>
<circle cx="583.3" cy="791.5" r="1.9"/>
<circle cx="598.1" cy="789.9" r="1.9"/>
<circle cx="580.6" cy="791.8" r="1.9"/>
<circle cx="571.9" cy="791.1" r="1.9"/>
<circle cx="574.4" cy="790.3" r="1.9"/>
<circle cx="593.9" cy="791.6" r="1.9"/>
<circle cx="545.9" cy="789.4" r="1.9"/>
<circle cx="590.1" cy="791.4" r="1.9"/>
<circle cx="614.1" cy="791.8" r="1.9"/>
<circle cx="555.5" cy="789.6" r="1.9"/>
<circle cx="564.4" cy="787.9" r="1.9"/>
<circle cx="590.3" cy="791.9" r="1.9"/>
<circle cx="596.5" cy="791.1" r="1.9"/>
<circle cx="562.5" cy="791.3" r="1.9"/>
<circle cx="594.5" cy="790.2" r="1.9"/>
<circle cx="629.0" cy="788.3" r="1.9"/>
<circle cx="606.5" cy="790.3" r="1.9"/>
<circle cx="589.1" cy="791.8" r="1.9"/>
<circle cx="568.7" cy="791.3" r="1.9"/>
<circle cx="603.7" cy="790.1" r="1.9"/>
<circle cx="590.0" cy="791.4" r="1.9"/>
<circle cx="582.0" cy="791.8" r="1.9"/>
<circle cx="614.8" cy="787.1" r="1.9"/>
<circle cx="593.0" cy="791.7" r="1.9"/>
<circle cx="600.1" cy="790.1" r="1.9"/>
<circle cx="604.1" cy="791.8" r="1.9"/>
<circle cx="550.1" cy="790.2" r="1.9"/>
<circle cx="574.4" cy="788.0" r="1.9"/>
<circle cx="596.7" cy="791.8" r="1.9"/>
<circle cx="546.7" cy="776.4" r="1.9"/>
<circle cx="587.3" cy="791.8" r="1.9"/>
<circle cx="548.9" cy="791.8" r="1.9"/>
<circle cx="595.1" cy="791.6" r="1.9"/>
<circle cx="594.4" cy="791.4" r="1.9"/>
<circle cx="576.9" cy="791.6" r="1.9"/>
<circle cx="576.8" cy="791.9" r="1.9"/>
<circle cx="588.9" cy="788.3" r="1.9"/>
<circle cx="587.9" cy="791.7" r="1.9"/>
<circle cx="548.2" cy="790.9" r="1.9"/>
<circle cx="568.9" cy="790.9" r="1.9"/>
<circle cx="579.4" cy="789.9" r="1.9"/>
<circle cx="571.4" cy="786.6" r="1.9"/>
<circle cx="600.2" cy="790.5" r="1.9"/>
<circle cx="607.0" cy="789.7" r="1.9"/>
<circle cx="590.5" cy="791.9" r="1.9"/>
<circle cx="565.6" cy="788.2" r="1.9"/>
<circle cx="613.8" cy="789.5" r="1.9"/>
<circle cx="603.8" cy="791.0" r="1.9"/>
<circle cx="568.3" cy="788.9" r="1.9"/>
<circle cx="555.9" cy="791.2" r="1.9"/>
<circle cx="611.5" cy="790.8" r="1.9"/>
<circle cx="596.3" cy="791.7" r="1.9"/>
<circle cx="610.9" cy="791.3" r="1.9"/>
<circle cx="590.4" cy="791.6" r="1.9"/>
<circle cx="609.5" cy="790.5" r="1.9"/>
<circle cx="618.8" cy="785.5" r="1.9"/>
<circle cx="583.4" cy="791.8" r="1.9"/>
<circle cx="578.3" cy="790.9" r="1.9"/>
<circle cx="590.7" cy="791.6" r="1.9"/>
<circle cx="584.1" cy="791.8" r="1.9"/>
<circle cx="589.1" cy="791.7" r="1.9"/>
<circle cx="544.8" cy="787.1" r="1.9"/>
<circle cx="616.7" cy="791.0" r="1.9"/>
<circle cx="576.4" cy="789.3" r="1.9"/>
<circle cx="594.8" cy="791.4" r="1.9"/>
<circle cx="588.4" cy="790.4" r="1.9"/>
<circle cx="548.8" cy="791.8" r="1.9"/>
<circle cx="575.1" cy="791.8" r="1.9"/>
<circle cx="604.8" cy="787.8" r="1.9"/>
<circle cx="567.2" cy="790.7" r="1.9"/>
<circle cx="619.3" cy="791.7" r="1.9"/>
<circle cx="571.7" cy="791.8" r="1.9"/>
<circle cx="595.1" cy="791.7" r="1.9"/>
<circle cx="580.1" cy="791.6" r="1.9"/>
<circle cx="581.6" cy="791.6" r="1.9"/>
<circle cx="573.1" cy="790.4" r="1.9"/>
<circle cx="581.5" cy="791.7" r="1.9"/>
<circle cx="579.7" cy="791.8" r="1.9"/>
<circle cx="551.8" cy="791.2" r="1.9"/>
<circle cx="578.0" cy="791.5" r="1.9"/>
<circle cx="619.8" cy="790.3" r="1.9"/>
<circle cx="595.6" cy="791.5" r="1.9"/>
<circle cx="572.7" cy="791.4" r="1.9"/>
<circle cx="586.2" cy="791.9" r="1.9"/>
<circle cx="591.2" cy="791.1" r="1.9"/>
<circle cx="547.2" cy="778.7" r="1.9"/>
<circle cx="568.3" cy="791.3" r="1.9"/>
<circle cx="560.6" cy="791.3" r="1.9"/>
<circle cx="540.4" cy="786.9" r="1.9"/>
<circle cx="556.7" cy="786.5" r="1.9"/>
<circle cx="536.1" cy="790.6" r="1.9"/>
<circle cx="578.2" cy="791.4" r="1.9"/>
<circle cx="577.6" cy="791.5" r="1.9"/>
<circle cx="605.4" cy="791.1" r="1.9"/>
<circle cx="593.0" cy="791.3" r="1.9"/>
<circle cx="582.3" cy="791.6" r="1.9"/>
<circle cx="597.8" cy="791.1" r="1.9"/>
<circle cx="601.5" cy="791.5" r="1.9"/>
<circle cx="613.7" cy="791.6" r="1.9"/>
<circle cx="571.9" cy="791.7" r="1.9"/>
<circle cx="604.6" cy="790.3" r="1.9"/>
<circle cx="576.2" cy="790.7" r="1.9"/>
<circle cx="557.5" cy="791.8" r="1.9"/>
<circle cx="568.1" cy="791.8" r="1.9"/>
<circle cx="598.4" cy="791.2" r="1.9"/>
<circle cx="609.7" cy="789.8" r="1.9"/>
<circle cx="593.7" cy="791.3" r="1.9"/>
<circle cx="576.9" cy="791.9" r="1.9"/>
<circle cx="600.1" cy="791.3" r="1.9"/>
<circle cx="607.5" cy="791.3" r="1.9"/>
<circle cx="566.5" cy="790.0" r="1.9"/>
<circle cx="594.7" cy="790.9" r="1.9"/>
<circle cx="608.2" cy="785.1" r="1.9"/>
<circle cx="565.6" cy="786.7" r="1.9"/>
<circle cx="607.3" cy="788.8" r="1.9"/>
<circle cx="562.9" cy="790.8" r="1.9"/>
<circle cx="562.2" cy="790.8" r="1.9"/>
<circle cx="577.8" cy="790.1" r="1.9"/>
<circle cx="626.7" cy="790.0" r="1.9"/>
<circle cx="590.1" cy="791.8" r="1.9"/>
<circle cx="581.4" cy="791.5" r="1.9"/>
<circle cx="577.1" cy="788.5" r="1.9"/>
<circle cx="604.7" cy="791.6" r="1.9"/>
<circle cx="590.6" cy="791.0" r="1.9"/>
<circle cx="600.0" cy="791.5" r="1.9"/>
<circle cx="613.1" cy="790.6" r="1.9"/>
<circle cx="585.0" cy="791.8" r="1.9"/>
<circle cx="552.1" cy="789.5" r="1.9"/>
<circle cx="586.1" cy="791.4" r="1.9"/>
<circle cx="545.3" cy="778.9" r="1.9"/>
<circle cx="568.9" cy="791.3" r="1.9"/>
<circle cx="557.9" cy="791.0" r="1.9"/>
<circle cx="623.5" cy="787.3" r="1.9"/>
<circle cx="573.2" cy="787.9" r="1.9"/>
<circle cx="552.4" cy="786.6" r="1.9"/>
<circle cx="601.8" cy="790.8" r="1.9"/>
<circle cx="611.3" cy="789.8" r="1.9"/>
<circle cx="572.2" cy="790.1" r="1.9"/>
<circle cx="598.3" cy="790.9" r="1.9"/>
<circle cx="586.2" cy="791.7" r="1.9"/>
<circle cx="601.8" cy="791.6" r="1.9"/>
<circle cx="573.1" cy="791.8" r="1.9"/>
<circle cx="583.8" cy="791.9" r="1.9"/>
<circle cx="613.0" cy="791.6" r="1.9"/>
<circle cx="605.9" cy="790.7" r="1.9"/>
<circle cx="588.4" cy="791.8" r="1.9"/>
<circle cx="559.2" cy="787.1" r="1.9"/>
<circle cx="589.9" cy="791.7" r="1.9"/>
<circle cx="579.3" cy="791.4" r="1.9"/>
<circle cx="591.3" cy="790.9" r="1.9"/>
<circle cx="563.2" cy="791.3" r="1.9"/>
<circle cx="580.5" cy="791.6" r="1.9"/>
<circle cx="565.2" cy="789.2" r="1.9"/>
<circle cx="608.1" cy="790.1" r="1.9"/>
<circle cx="549.4" cy="790.1" r="1.9"/>
<circle cx="576.4" cy="790.2" r="1.9"/>
<circle cx="554.4" cy="787.3" r="1.9"/>
<circle cx="600.3" cy="790.2" r="1.9"/>
<circle cx="600.3" cy="791.5" r="1.9"/>
<circle cx="586.3" cy="791.5" r="1.9"/>
<circle cx="588.2" cy="790.2" r="1.9"/>
<circle cx="596.7" cy="790.5" r="1.9"/>
<circle cx="582.6" cy="791.6" r="1.9"/>
<circle cx="569.4" cy="787.8" r="1.9"/>
<circle cx="568.1" cy="784.7" r="1.9"/>
<circle cx="618.8" cy="791.5" r="1.9"/>
<circle cx="595.5" cy="791.9" r="1.9"/>
<circle cx="576.6" cy="787.2" r="1.9"/>
<circle cx="620.5" cy="791.5" r="1.9"/>
<circle cx="582.3" cy="791.5" r="1.9"/>
<circle cx="589.4" cy="791.5" r="1.9"/>
<circle cx="571.2" cy="789.7" r="1.9"/>
<circle cx="598.7" cy="789.4" r="1.9"/>
<circle cx="580.1" cy="791.2" r="1.9"/>
<circle cx="606.8" cy="788.9" r="1.9"/>
<circle cx="607.1" cy="789.4" r="1.9"/>
<circle cx="582.1" cy="791.5" r="1.9"/>
<circle cx="588.7" cy="791.8" r="1.9"/>
<circle cx="572.7" cy="791.8" r="1.9"/>
<circle cx="600.5" cy="790.9" r="1.9"/>
<circle cx="577.8" cy="791.8" r="1.9"/>
<circle cx="582.8" cy="791.5" r="1.9"/>
<circle cx="588.8" cy="791.8" r="1.9"/>
<circle cx="572.1" cy="791.6" r="1.9"/>
<circle cx="572.0" cy="791.1" r="1.9"/>
<circle cx="573.2" cy="791.8" r="1.9"/>
<circle cx="597.9" cy="791.8" r="1.9"/>
<circle cx="600.0" cy="791.8" r="1.9"/>
<circle cx="572.7" cy="791.7" r="1.9"/>
<circle cx="592.8" cy="791.7" r="1.9"/>
<circle cx="602.3" cy="791.0" r="1.9"/>
<circle cx="565.6" cy="788.9" r="1.9"/>
<circle cx="578.6" cy="791.3" r="1.9"/>
<circle cx="589.5" cy="791.2" r="1.9"/>
<circle cx="571.8" cy="788.2" r="1.9"/>
<circle cx="572.1" cy="789.3" r="1.9"/>
<circle cx="609.2" cy="787.8" r="1.9"/>
<circle cx="583.9" cy="791.3" r="1.9"/>
<circle cx="587.2" cy="791.8" r="1.9"/>
<circle cx="589.5" cy="791.8" r="1.9"/>
<circle cx="603.8" cy="789.4" r="1.9"/>
<circle cx="594.4" cy="791.5" r="1.9"/>
<circle cx="581.5" cy="791.8" r="1.9"/>
<circle cx="584.5" cy="790.5" r="1.9"/>
<circle cx="612.4" cy="787.6" r="1.9"/>
<circle cx="586.7" cy="791.1" r="1.9"/>
<circle cx="582.7" cy="791.0" r="1.9"/>
<circle cx="562.1" cy="788.1" r="1.9"/>
<circle cx="592.1" cy="791.8" r="1.9"/>
<circle cx="519.3" cy="789.7" r="1.9"/>
<circle cx="580.0" cy="790.2" r="1.9"/>
<circle cx="568.3" cy="791.9" r="1.9"/>
<circle cx="570.4" cy="791.2" r="1.9"/>
<circle cx="577.3" cy="791.5" r="1.9"/>
<circle cx="562.1" cy="790.9" r="1.9"/>
<circle cx="550.5" cy="788.6" r="1.9"/>
<circle cx="573.7" cy="789.2" r="1.9"/>
<circle cx="599.3" cy="791.3" r="1.9"/>
<circle cx="601.7" cy="789.7" r="1.9"/>
<circle cx="596.2" cy="791.6" r="1.9"/>
<circle cx="583.6" cy="791.4" r="1.9"/>
<circle cx="556.5" cy="791.4" r="1.9"/>
<circle cx="594.7" cy="791.4" r="1.9"/>
<circle cx="592.5" cy="791.4" r="1.9"/>
<circle cx="611.4" cy="790.6" r="1.9"/>
<circle cx="586.4" cy="791.7" r="1.9"/>
<circle cx="530.6" cy="790.7" r="1.9"/>
<circle cx="571.9" cy="789.1" r="1.9"/>
<circle cx="568.5" cy="791.7" r="1.9"/>
<circle cx="618.9" cy="777.8" r="1.9"/>
<circle cx="532.4" cy="790.6" r="1.9"/>
<circle cx="609.4" cy="790.7" r="1.9"/>
<circle cx="580.9" cy="791.7" r="1.9"/>
<circle cx="571.2" cy="790.4" r="1.9"/>
<circle cx="603.6" cy="791.5" r="1.9"/>
<circle cx="578.4" cy="791.5" r="1.9"/>
<circle cx="597.6" cy="790.6" r="1.9"/>
<circle cx="584.0" cy="791.7" r="1.9"/>
<circle cx="575.2" cy="790.9" r="1.9"/>
<circle cx="572.5" cy="789.2" r="1.9"/>
<circle cx="604.5" cy="790.6" r="1.9"/>
<circle cx="559.9" cy="789.9" r="1.9"/>
<circle cx="617.2" cy="788.3" r="1.9"/>
<circle cx="613.1" cy="790.3" r="1.9"/>
<circle cx="572.9" cy="791.3" r="1.9"/>
<circle cx="564.5" cy="791.4" r="1.9"/>
<circle cx="561.1" cy="790.3" r="1.9"/>
<circle cx="567.4" cy="791.8" r="1.9"/>
<circle cx="567.7" cy="790.4" r="1.9"/>
<circle cx="567.2" cy="790.4" r="1.9"/>
<circle cx="596.6" cy="791.1" r="1.9"/>
<circle cx="579.4" cy="788.3" r="1.9"/>
<circle cx="583.3" cy="791.2" r="1.9"/>
<circle cx="565.3" cy="783.5" r="1.9"/>
<circle cx="547.7" cy="791.4" r="1.9"/>
<circle cx="611.0" cy="780.5" r="1.9"/>
<circle cx="568.3" cy="789.0" r="1.9"/>
<circle cx="585.7" cy="791.4" r="1.9"/>
<circle cx="624.0" cy="785.9" r="1.9"/>
<circle cx="568.6" cy="790.8" r="1.9"/>
<circle cx="593.1" cy="790.0" r="1.9"/>
<circle cx="584.5" cy="791.4" r="1.9"/>
<circle cx="584.6" cy="791.6" r="1.9"/>
<circle cx="625.8" cy="788.9" r="1.9"/>
<circle cx="594.7" cy="791.6" r="1.9"/>
<circle cx="573.7" cy="790.7" r="1.9"/>
<circle cx="610.5" cy="788.2" r="1.9"/>
<circle cx="597.6" cy="791.0" r="1.9"/>
<circle cx="586.9" cy="790.9" r="1.9"/>
<circle cx="625.2" cy="786.2" r="1.9"/>
<circle cx="538.1" cy="784.7" r="1.9"/>
<circle cx="569.9" cy="791.7" r="1.9"/>
<circle cx="577.9" cy="791.9" r="1.9"/>
<circle cx="592.5" cy="791.5" r="1.9"/>
<circle cx="613.1" cy="791.6" r="1.9"/>
<circle cx="552.7" cy="791.3" r="1.9"/>
<circle cx="551.2" cy="788.9" r="1.9"/>
<circle cx="613.1" cy="785.7" r="1.9"/>
<circle cx="645.1" cy="790.5" r="1.9"/>
<circle cx="614.1" cy="789.2" r="1.9"/>
<circle cx="610.8" cy="791.4" r="1.9"/>
<circle cx="559.3" cy="789.3" r="1.9"/>
<circle cx="581.2" cy="791.6" r="1.9"/>
<circle cx="586.5" cy="791.7" r="1.9"/>
<circle cx="572.3" cy="790.7" r="1.9"/>
<circle cx="571.5" cy="790.3" r="1.9"/>
<circle cx="589.8" cy="791.1" r="1.9"/>
<circle cx="595.5" cy="791.2" r="1.9"/>
<circle cx="592.5" cy="789.4" r="1.9"/>
<circle cx="592.9" cy="791.0" r="1.9"/>
<circle cx="575.5" cy="786.5" r="1.9"/>
<circle cx="596.4" cy="790.5" r="1.9"/>
<circle cx="583.0" cy="791.7" r="1.9"/>
<circle cx="563.5" cy="790.8" r="1.9"/>
<circle cx="604.1" cy="790.9" r="1.9"/>
<circle cx="610.1" cy="787.8" r="1.9"/>
<circle cx="563.8" cy="790.5" r="1.9"/>
<circle cx="598.3" cy="788.1" r="1.9"/>
<circle cx="564.8" cy="791.4" r="1.9"/>
<circle cx="613.7" cy="789.5" r="1.9"/>
<circle cx="574.8" cy="791.5" r="1.9"/>
<circle cx="629.5" cy="783.6" r="1.9"/>
<circle cx="573.7" cy="788.8" r="1.9"/>
<circle cx="562.5" cy="790.9" r="1.9"/>
<circle cx="583.5" cy="791.6" r="1.9"/>
<circle cx="554.2" cy="791.7" r="1.9"/>
<circle cx="568.8" cy="791.0" r="1.9"/>
<circle cx="593.7" cy="788.8" r="1.9"/>
<circle cx="575.5" cy="790.8" r="1.9"/>
<circle cx="618.3" cy="791.0" r="1.9"/>
<circle cx="574.6" cy="789.4" r="1.9"/>
<circle cx="591.1" cy="791.7" r="1.9"/>
<circle cx="566.7" cy="788.9" r="1.9"/>
<circle cx="594.7" cy="789.9" r="1.9"/>
<circle cx="560.9" cy="791.7" r="1.9"/>
<circle cx="569.5" cy="788.5" r="1.9"/>
<circle cx="603.0" cy="791.1" r="1.9"/>
<circle cx="596.1" cy="790.4" r="1.9"/>
<circle cx="574.7" cy="789.4" r="1.9"/>
<circle cx="566.7" cy="786.7" r="1.9"/>
<circle cx="616.4" cy="790.0" r="1.9"/>
<circle cx="589.4" cy="791.6" r="1.9"/>
<circle cx="565.6" cy="789.9" r="1.9"/>
<circle cx="589.1" cy="791.3" r="1.9"/>
<circle cx="645.5" cy="789.8" r="1.9"/>
<circle cx="573.4" cy="789.8" r="1.9"/>
<circle cx="564.2" cy="780.1" r="1.9"/>
<circle cx="556.4" cy="791.7" r="1.9"/>
<circle cx="562.6" cy="789.7" r="1.9"/>
<circle cx="590.2" cy="791.7" r="1.9"/>
<circle cx="600.2" cy="791.2" r="1.9"/>
<circle cx="583.8" cy="791.8" r="1.9"/>
<circle cx="555.5" cy="791.7" r="1.9"/>
<circle cx="607.6" cy="791.5" r="1.9"/>
<circle cx="566.1" cy="789.5" r="1.9"/>
<circle cx="559.4" cy="791.2" r="1.9"/>
<circle cx="598.5" cy="789.9" r="1.9"/>
<circle cx="550.9" cy="791.5" r="1.9"/>
<circle cx="580.8" cy="790.6" r="1.9"/>
<circle cx="585.6" cy="790.6" r="1.9"/>
<circle cx="588.8" cy="791.6" r="1.9"/>
<circle cx="581.8" cy="791.5" r="1.9"/>
<circle cx="574.1" cy="790.1" r="1.9"/>
<circle cx="582.5" cy="791.7" r="1.9"/>
<circle cx="573.2" cy="790.9" r="1.9"/>
<circle cx="584.3" cy="791.8" r="1.9"/>
<circle cx="607.8" cy="791.1" r="1.9"/>
<circle cx="599.1" cy="789.8" r="1.9"/>
<circle cx="585.3" cy="791.9" r="1.9"/>
<circle cx="608.1" cy="791.4" r="1.9"/>
<circle cx="557.3" cy="790.3" r="1.9"/>
<circle cx="593.4" cy="790.1" r="1.9"/>
<circle cx="619.7" cy="791.3" r="1.9"/>
<circle cx="611.6" cy="783.0" r="1.9"/>
<circle cx="562.0" cy="789.9" r="1.9"/>
<circle cx="581.2" cy="790.7" r="1.9"/>
<circle cx="607.5" cy="791.9" r="1.9"/>
<circle cx="579.5" cy="791.8" r="1.9"/>
<circle cx="600.1" cy="790.0" r="1.9"/>
<circle cx="551.4" cy="791.4" r="1.9"/>
<circle cx="579.5" cy="791.8" r="1.9"/>
<circle cx="583.7" cy="791.7" r="1.9"/>
<circle cx="616.5" cy="786.3" r="1.9"/>
<circle cx="578.0" cy="791.9" r="1.9"/>
<circle cx="576.9" cy="791.6" r="1.9"/>
<circle cx="589.4" cy="791.8" r="1.9"/>
<circle cx="602.4" cy="790.8" r="1.9"/>
<circle cx="575.0" cy="790.8" r="1.9"/>
<circle cx="626.1" cy="788.6" r="1.9"/>
<circle cx="549.1" cy="789.6" r="1.9"/>
<circle cx="603.4" cy="791.3" r="1.9"/>
<circle cx="572.0" cy="790.2" r="1.9"/>
<circle cx="583.7" cy="791.6" r="1.9"/>
<circle cx="606.4" cy="790.6" r="1.9"/>
<circle cx="569.7" cy="791.0" r="1.9"/>
<circle cx="603.4" cy="791.8" r="1.9"/>
<circle cx="588.9" cy="791.4" r="1.9"/>
<circle cx="577.9" cy="791.2" r="1.9"/>
<circle cx="571.9" cy="791.8" r="1.9"/>
<circle cx="594.2" cy="791.4" r="1.9"/>
<circle cx="574.6" cy="791.6" r="1.9"/>
<circle cx="608.7" cy="788.8" r="1.9"/>
<circle cx="581.8" cy="791.6" r="1.9"/>
<circle cx="585.0" cy="790.4" r="1.9"/>
<circle cx="615.1" cy="782.7" r="1.9"/>
<circle cx="586.1" cy="791.7" r="1.9"/>
<circle cx="567.1" cy="791.3" r="1.9"/>
<circle cx="572.3" cy="790.7" r="1.9"/>
<circle cx="568.2" cy="790.8" r="1.9"/>
<circle cx="574.3" cy="791.1" r="1.9"/>
<circle cx="585.0" cy="791.9" r="1.9"/>
<circle cx="577.3" cy="791.6" r="1.9"/>
<circle cx="579.7" cy="791.5" r="1.9"/>
<circle cx="624.7" cy="784.4" r="1.9"/>
<circle cx="569.7" cy="790.2" r="1.9"/>
<circle cx="595.5" cy="791.8" r="1.9"/>
<circle cx="627.2" cy="790.3" r="1.9"/>
<circle cx="580.6" cy="791.6" r="1.9"/>
<circle cx="601.6" cy="790.2" r="1.9"/>
<circle cx="548.7" cy="791.7" r="1.9"/>
<circle cx="585.4" cy="791.5" r="1.9"/>
<circle cx="577.7" cy="791.2" r="1.9"/>
<circle cx="613.7" cy="791.8" r="1.9"/>
<circle cx="570.6" cy="788.1" r="1.9"/>
<circle cx="585.3" cy="791.9" r="1.9"/>
<circle cx="555.1" cy="788.2" r="1.9"/>
<circle cx="555.1" cy="780.4" r="1.9"/>
<circle cx="601.5" cy="787.9" r="1.9"/>
<circle cx="619.9" cy="790.0" r="1.9"/>
<circle cx="602.7" cy="789.5" r="1.9"/>
<circle cx="567.1" cy="790.9" r="1.9"/>
<circle cx="601.9" cy="791.7" r="1.9"/>
<circle cx="569.2" cy="791.8" r="1.9"/>
<circle cx="618.1" cy="791.5" r="1.9"/>
<circle cx="601.6" cy="790.6" r="1.9"/>
<circle cx="555.9" cy="791.6" r="1.9"/>
<circle cx="599.1" cy="787.6" r="1.9"/>
<circle cx="598.0" cy="790.8" r="1.9"/>
<circle cx="598.5" cy="791.2" r="1.9"/>
<circle cx="577.5" cy="791.2" r="1.9"/>
<circle cx="591.0" cy="790.3" r="1.9"/>
<circle cx="575.0" cy="791.2" r="1.9"/>
<circle cx="608.3" cy="790.8" r="1.9"/>
<circle cx="589.5" cy="791.1" r="1.9"/>
<circle cx="608.5" cy="789.3" r="1.9"/>
<circle cx="573.3" cy="791.3" r="1.9"/>
<circle cx="586.7" cy="791.2" r="1.9"/>
<circle cx="574.3" cy="791.7" r="1.9"/>
<circle cx="571.8" cy="791.3" r="1.9"/>
<circle cx="577.0" cy="791.7" r="1.9"/>
<circle cx="567.1" cy="790.7" r="1.9"/>
<circle cx="609.3" cy="790.8" r="1.9"/>
<circle cx="546.1" cy="790.3" r="1.9"/>
<circle cx="565.3" cy="790.3" r="1.9"/>
<circle cx="521.9" cy="789.4" r="1.9"/>
<circle cx="592.6" cy="790.8" r="1.9"/>
<circle cx="586.6" cy="791.2" r="1.9"/>
<circle cx="602.3" cy="790.5" r="1.9"/>
<circle cx="584.4" cy="791.1" r="1.9"/>
<circle cx="593.0" cy="791.5" r="1.9"/>
<circle cx="579.8" cy="791.2" r="1.9"/>
<circle cx="561.3" cy="790.1" r="1.9"/>
<circle cx="633.7" cy="789.0" r="1.9"/>
<circle cx="577.3" cy="791.3" r="1.9"/>
<circle cx="589.2" cy="791.8" r="1.9"/>
<circle cx="622.3" cy="790.6" r="1.9"/>
<circle cx="588.3" cy="791.2" r="1.9"/>
<circle cx="579.9" cy="791.3" r="1.9"/>
<circle cx="565.5" cy="791.6" r="1.9"/>
<circle cx="578.3" cy="789.5" r="1.9"/>
<circle cx="588.6" cy="791.8" r="1.9"/>
<circle cx="544.1" cy="786.0" r="1.9"/>
<circle cx="587.8" cy="791.5" r="1.9"/>
<circle cx="599.6" cy="790.5" r="1.9"/>
<circle cx="612.7" cy="789.6" r="1.9"/>
<circle cx="611.2" cy="786.2" r="1.9"/>
<circle cx="615.4" cy="790.6" r="1.9"/>
<circle cx="568.9" cy="787.2" r="1.9"/>
<circle cx="581.1" cy="790.7" r="1.9"/>
<circle cx="566.4" cy="789.6" r="1.9"/>
<circle cx="583.2" cy="791.9" r="1.9"/>
<circle cx="601.8" cy="790.6" r="1.9"/>
<circle cx="584.4" cy="791.8" r="1.9"/>
<circle cx="603.6" cy="791.6" r="1.9"/>
<circle cx="566.9" cy="791.3" r="1.9"/>
<circle cx="586.5" cy="791.7" r="1.9"/>
<circle cx="538.9" cy="791.1" r="1.9"/>
<circle cx="582.1" cy="790.8" r="1.9"/>
<circle cx="603.7" cy="790.5" r="1.9"/>
<circle cx="560.3" cy="788.8" r="1.9"/>
<circle cx="552.4" cy="784.2" r="1.9"/>
<circle cx="577.7" cy="790.6" r="1.9"/>
<circle cx="584.3" cy="790.7" r="1.9"/>
<circle cx="592.3" cy="791.5" r="1.9"/>
<circle cx="588.6" cy="791.5" r="1.9"/>
<circle cx="568.8" cy="791.2" r="1.9"/>
<circle cx="577.8" cy="791.3" r="1.9"/>
<circle cx="531.1" cy="787.5" r="1.9"/>
<circle cx="575.3" cy="788.8" r="1.9"/>
<circle cx="598.1" cy="791.7" r="1.9"/>
<circle cx="615.5" cy="791.7" r="1.9"/>
<circle cx="572.7" cy="789.0" r="1.9"/>
<circle cx="608.2" cy="791.6" r="1.9"/>
<circle cx="602.2" cy="784.4" r="1.9"/>
<circle cx="568.1" cy="791.8" r="1.9"/>
<circle cx="627.4" cy="787.4" r="1.9"/>
<circle cx="589.8" cy="791.3" r="1.9"/>
<circle cx="587.1" cy="789.7" r="1.9"/>
<circle cx="567.2" cy="789.3" r="1.9"/>
<circle cx="544.1" cy="789.0" r="1.9"/>
<circle cx="609.2" cy="791.4" r="1.9"/>
<circle cx="597.7" cy="790.9" r="1.9"/>
<circle cx="568.6" cy="791.6" r="1.9"/>
<circle cx="605.8" cy="789.5" r="1.9"/>
<circle cx="562.2" cy="791.7" r="1.9"/>
<circle cx="597.7" cy="791.0" r="1.9"/>
<circle cx="528.2" cy="787.3" r="1.9"/>
<circle cx="563.4" cy="791.6" r="1.9"/>
<circle cx="578.5" cy="790.9" r="1.9"/>
<circle cx="604.2" cy="786.7" r="1.9"/>
<circle cx="639.4" cy="778.0" r="1.9"/>
<circle cx="576.5" cy="790.1" r="1.9"/>
<circle cx="589.0" cy="791.5" r="1.9"/>
<circle cx="583.0" cy="791.4" r="1.9"/>
<circle cx="572.6" cy="790.7" r="1.9"/>
<circle cx="556.2" cy="784.6" r="1.9"/>
<circle cx="608.2" cy="784.8" r="1.9"/>
<circle cx="598.9" cy="791.9" r="1.9"/>
<circle cx="619.6" cy="781.6" r="1.9"/>
<circle cx="614.2" cy="791.8" r="1.9"/>
<circle cx="626.4" cy="787.3" r="1.9"/>
<circle cx="593.3" cy="791.2" r="1.9"/>
<circle cx="551.5" cy="786.7" r="1.9"/>
<circle cx="566.5" cy="791.9" r="1.9"/>
<circle cx="621.3" cy="779.1" r="1.9"/>
<circle cx="601.4" cy="789.0" r="1.9"/>
<circle cx="567.7" cy="791.2" r="1.9"/>
<circle cx="596.0" cy="791.9" r="1.9"/>
<circle cx="587.0" cy="791.4" r="1.9"/>
<circle cx="567.3" cy="790.6" r="1.9"/>
<circle cx="567.5" cy="790.9" r="1.9"/>
<circle cx="613.9" cy="791.2" r="1.9"/>
<circle cx="595.1" cy="791.7" r="1.9"/>
<circle cx="575.3" cy="791.6" r="1.9"/>
<circle cx="545.6" cy="790.4" r="1.9"/>
<circle cx="590.0" cy="791.7" r="1.9"/>
<circle cx="574.9" cy="791.1" r="1.9"/>
<circle cx="570.3" cy="791.5" r="1.9"/>
<circle cx="595.1" cy="791.6" r="1.9"/>
<circle cx="574.7" cy="791.5" r="1.9"/>
<circle cx="567.4" cy="790.0" r="1.9"/>
<circle cx="616.7" cy="787.2" r="1.9"/>
<circle cx="576.0" cy="790.5" r="1.9"/>
<circle cx="582.5" cy="791.7" r="1.9"/>
<circle cx="589.5" cy="788.7" r="1.9"/>
<circle cx="607.7" cy="790.9" r="1.9"/>
<circle cx="554.0" cy="778.4" r="1.9"/>
<circle cx="623.8" cy="790.1" r="1.9"/>
<circle cx="611.1" cy="788.1" r="1.9"/>
<circle cx="614.8" cy="790.7" r="1.9"/>
<circle cx="590.3" cy="791.6" r="1.9"/>
<circle cx="563.5" cy="790.1" r="1.9"/>
<circle cx="583.4" cy="791.1" r="1.9"/>
<circle cx="559.2" cy="791.9" r="1.9"/>
<circle cx="562.7" cy="791.8" r="1.9"/>
<circle cx="584.9" cy="790.8" r="1.9"/>
<circle cx="594.3" cy="789.7" r="1.9"/>
<circle cx="596.8" cy="787.9" r="1.9"/>
<circle cx="603.6" cy="787.1" r="1.9"/>
<circle cx="576.2" cy="791.8" r="1.9"/>
<circle cx="572.8" cy="791.6" r="1.9"/>
<circle cx="531.7" cy="791.1" r="1.9"/>
<circle cx="564.4" cy="789.4" r="1.9"/>
<circle cx="542.8" cy="779.9" r="1.9"/>
<circle cx="563.9" cy="791.6" r="1.9"/>
<circle cx="591.0" cy="791.6" r="1.9"/>
<circle cx="592.9" cy="791.7" r="1.9"/>
<circle cx="581.5" cy="791.6" r="1.9"/>
<circle cx="603.2" cy="791.5" r="1.9"/>
<circle cx="590.7" cy="791.8" r="1.9"/>
<circle cx="557.1" cy="789.7" r="1.9"/>
<circle cx="580.1" cy="790.9" r="1.9"/>
<circle cx="530.8" cy="791.5" r="1.9"/>
<circle cx="575.6" cy="791.6" r="1.9"/>
<circle cx="602.0" cy="789.5" r="1.9"/>
<circle cx="593.8" cy="789.3" r="1.9"/>
<circle cx="571.5" cy="791.4" r="1.9"/>
<circle cx="584.5" cy="791.5" r="1.9"/>
<circle cx="573.8" cy="787.8" r="1.9"/>
<circle cx="623.3" cy="789.6" r="1.9"/>
<circle cx="550.0" cy="789.8" r="1.9"/>
<circle cx="558.5" cy="791.4" r="1.9"/>
<circle cx="643.3" cy="791.8" r="1.9"/>
<circle cx="563.3" cy="789.0" r="1.9"/>
<circle cx="578.8" cy="791.8" r="1.9"/>
<circle cx="589.1" cy="791.8" r="1.9"/>
<circle cx="583.5" cy="791.9" r="1.9"/>
<circle cx="569.3" cy="791.5" r="1.9"/>
<circle cx="592.9" cy="790.9" r="1.9"/>
<circle cx="559.5" cy="790.4" r="1.9"/>
<circle cx="586.4" cy="791.7" r="1.9"/>
<circle cx="588.4" cy="791.9" r="1.9"/>
<circle cx="582.7" cy="791.7" r="1.9"/>
<circle cx="616.1" cy="790.0" r="1.9"/>
<circle cx="570.8" cy="791.3" r="1.9"/>
<circle cx="571.0" cy="788.9" r="1.9"/>
<circle cx="564.3" cy="790.4" r="1.9"/>
<circle cx="573.4" cy="791.2" r="1.9"/>
<circle cx="560.1" cy="791.3" r="1.9"/>
<circle cx="628.2" cy="780.5" r="1.9"/>
<circle cx="612.9" cy="791.4" r="1.9"/>
<circle cx="547.6" cy="789.4" r="1.9"/>
<circle cx="603.3" cy="791.6" r="1.9"/>
<circle cx="583.0" cy="791.2" r="1.9"/>
<circle cx="587.6" cy="791.8" r="1.9"/>
<circle cx="614.5" cy="783.7" r="1.9"/>
<circle cx="582.6" cy="791.3" r="1.9"/>
<circle cx="594.8" cy="791.4" r="1.9"/>
<circle cx="560.1" cy="786.0" r="1.9"/>
<circle cx="575.2" cy="791.1" r="1.9"/>
<circle cx="583.9" cy="791.6" r="1.9"/>
<circle cx="585.7" cy="791.8" r="1.9"/>
<circle cx="556.3" cy="790.2" r="1.9"/>
<circle cx="570.5" cy="791.8" r="1.9"/>
<circle cx="558.9" cy="789.4" r="1.9"/>
<circle cx="585.2" cy="790.3" r="1.9"/>
<circle cx="580.2" cy="791.8" r="1.9"/>
<circle cx="608.8" cy="788.3" r="1.9"/>
<circle cx="588.9" cy="790.9" r="1.9"/>
<circle cx="627.0" cy="790.7" r="1.9"/>
<circle cx="606.7" cy="790.8" r="1.9"/>
<circle cx="569.5" cy="790.7" r="1.9"/>
<circle cx="609.5" cy="790.4" r="1.9"/>
<circle cx="576.1" cy="791.6" r="1.9"/>
<circle cx="599.3" cy="791.3" r="1.9"/>
<circle cx="562.4" cy="791.4" r="1.9"/>
<circle cx="594.1" cy="790.2" r="1.9"/>
<circle cx="626.6" cy="776.5" r="1.9"/>
<circle cx="614.6" cy="787.4" r="1.9"/>
<circle cx="567.7" cy="789.9" r="1.9"/>
<circle cx="599.6" cy="791.6" r="1.9"/>
<circle cx="547.0" cy="785.9" r="1.9"/>
<circle cx="579.3" cy="790.0" r="1.9"/>
<circle cx="600.7" cy="791.9" r="1.9"/>
<circle cx="564.2" cy="788.8" r="1.9"/>
<circle cx="583.3" cy="791.4" r="1.9"/>
<circle cx="629.2" cy="787.5" r="1.9"/>
<circle cx="557.0" cy="791.7" r="1.9"/>
<circle cx="579.4" cy="788.9" r="1.9"/>
<circle cx="575.4" cy="789.8" r="1.9"/>
<circle cx="579.4" cy="791.0" r="1.9"/>
<circle cx="598.2" cy="790.0" r="1.9"/>
<circle cx="616.2" cy="791.5" r="1.9"/>
<circle cx="581.8" cy="791.2" r="1.9"/>
<circle cx="627.2" cy="786.0" r="1.9"/>
<circle cx="601.1" cy="789.5" r="1.9"/>
<circle cx="605.3" cy="786.3" r="1.9"/>
<circle cx="563.9" cy="789.9" r="1.9"/>
<circle cx="562.6" cy="791.0" r="1.9"/>
<circle cx="585.9" cy="791.9" r="1.9"/>
<circle cx="606.1" cy="791.4" r="1.9"/>
<circle cx="618.9" cy="788.5" r="1.9"/>
<circle cx="590.3" cy="791.4" r="1.9"/>
<circle cx="550.5" cy="790.7" r="1.9"/>
<circle cx="582.7" cy="791.4" r="1.9"/>
<circle cx="599.2" cy="790.3" r="1.9"/>
<circle cx="603.7" cy="787.2" r="1.9"/>
<circle cx="577.6" cy="789.8" r="1.9"/>
<circle cx="570.8" cy="790.6" r="1.9"/>
<circle cx="638.6" cy="774.6" r="1.9"/>
<circle cx="587.9" cy="791.7" r="1.9"/>
<circle cx="564.7" cy="790.5" r="1.9"/>
<circle cx="578.8" cy="790.4" r="1.9"/>
<circle cx="585.3" cy="791.6" r="1.9"/>
<circle cx="548.0" cy="790.9" r="1.9"/>
<circle cx="591.1" cy="791.7" r="1.9"/>
<circle cx="570.1" cy="791.3" r="1.9"/>
<circle cx="576.6" cy="791.8" r="1.9"/>
<circle cx="604.8" cy="790.5" r="1.9"/>
<circle cx="591.6" cy="789.4" r="1.9"/>
<circle cx="569.9" cy="791.1" r="1.9"/>
<circle cx="566.8" cy="791.4" r="1.9"/>
<circle cx="528.5" cy="791.2" r="1.9"/>
<circle cx="594.1" cy="791.3" r="1.9"/>
<circle cx="569.7" cy="790.7" r="1.9"/>
<circle cx="549.6" cy="788.5" r="1.9"/>
<circle cx="629.9" cy="790.6" r="1.9"/>
<circle cx="566.4" cy="790.5" r="1.9"/>
<circle cx="612.4" cy="791.4" r="1.9"/>
<circle cx="584.3" cy="791.3" r="1.9"/>
<circle cx="596.9" cy="790.9" r="1.9"/>
<circle cx="589.3" cy="791.7" r="1.9"/>
<circle cx="577.9" cy="791.6" r="1.9"/>
<circle cx="549.1" cy="787.0" r="1.9"/>
<circle cx="563.6" cy="790.7" r="1.9"/>
<circle cx="556.5" cy="790.4" r="1.9"/>
<circle cx="604.9" cy="786.0" r="1.9"/>
<circle cx="600.7" cy="788.5" r="1.9"/>
<circle cx="592.9" cy="791.6" r="1.9"/>
<circle cx="587.8" cy="791.2" r="1.9"/>
<circle cx="573.9" cy="791.3" r="1.9"/>
<circle cx="589.3" cy="791.3" r="1.9"/>
<circle cx="584.0" cy="791.4" r="1.9"/>
<circle cx="561.9" cy="789.4" r="1.9"/>
<circle cx="579.6" cy="791.0" r="1.9"/>
<circle cx="580.2" cy="791.8" r="1.9"/>
<circle cx="608.9" cy="791.9" r="1.9"/>
<circle cx="593.4" cy="791.8" r="1.9"/>
<circle cx="565.1" cy="791.7" r="1.9"/>
<circle cx="600.9" cy="787.1" r="1.9"/>
<circle cx="600.4" cy="790.6" r="1.9"/>
<circle cx="563.9" cy="791.1" r="1.9"/>
<circle cx="596.1" cy="791.5" r="1.9"/>
<circle cx="583.6" cy="791.8" r="1.9"/>
<circle cx="602.7" cy="791.0" r="1.9"/>
<circle cx="564.7" cy="790.9" r="1.9"/>
<circle cx="598.0" cy="789.8" r="1.9"/>
<circle cx="573.5" cy="790.5" r="1.9"/>
<circle cx="564.4" cy="790.8" r="1.9"/>
<circle cx="591.7" cy="791.4" r="1.9"/>
<circle cx="572.2" cy="791.2" r="1.9"/>
<circle cx="613.7" cy="790.9" r="1.9"/>
<circle cx="588.3" cy="791.5" r="1.9"/>
<circle cx="560.2" cy="787.0" r="1.9"/>
<circle cx="563.8" cy="787.4" r="1.9"/>
<circle cx="591.0" cy="789.0" r="1.9"/>
<circle cx="589.9" cy="791.1" r="1.9"/>
<circle cx="562.5" cy="789.1" r="1.9"/>
<circle cx="574.4" cy="788.6" r="1.9"/>
<circle cx="619.5" cy="788.4" r="1.9"/>
<circle cx="573.0" cy="790.6" r="1.9"/>
<circle cx="563.7" cy="791.4" r="1.9"/>
<circle cx="588.4" cy="789.5" r="1.9"/>
<circle cx="556.9" cy="790.8" r="1.9"/>
<circle cx="583.8" cy="791.6" r="1.9"/>
<circle cx="580.8" cy="791.0" r="1.9"/>
<circle cx="582.9" cy="791.8" r="1.9"/>
<circle cx="615.9" cy="790.4" r="1.9"/>
<circle cx="599.7" cy="788.3" r="1.9"/>
<circle cx="584.2" cy="791.9" r="1.9"/>
<circle cx="548.5" cy="785.7" r="1.9"/>
<circle cx="563.9" cy="790.9" r="1.9"/>
<circle cx="554.8" cy="787.8" r="1.9"/>
<circle cx="565.6" cy="789.4" r="1.9"/>
<circle cx="592.4" cy="791.9" r="1.9"/>
<circle cx="590.1" cy="791.1" r="1.9"/>
<circle cx="587.9" cy="791.6" r="1.9"/>
<circle cx="618.9" cy="791.9" r="1.9"/>
<circle cx="559.1" cy="791.7" r="1.9"/>
<circle cx="552.4" cy="790.6" r="1.9"/>
<circle cx="590.9" cy="791.3" r="1.9"/>
<circle cx="538.3" cy="791.8" r="1.9"/>
<circle cx="598.5" cy="791.3" r="1.9"/>
<circle cx="554.4" cy="791.4" r="1.9"/>
<circle cx="622.3" cy="791.6" r="1.9"/>
<circle cx="596.0" cy="791.8" r="1.9"/>
<circle cx="576.9" cy="790.3" r="1.9"/>
<circle cx="591.2" cy="791.6" r="1.9"/>
<circle cx="641.6" cy="791.4" r="1.9"/>
<circle cx="526.3" cy="791.2" r="1.9"/>
<circle cx="555.8" cy="791.6" r="1.9"/>
<circle cx="625.2" cy="791.1" r="1.9"/>
<circle cx="566.3" cy="791.8" r="1.9"/>
<circle cx="587.0" cy="791.4" r="1.9"/>
<circle cx="519.6" cy="791.3" r="1.9"/>
<circle cx="535.9" cy="791.3" r="1.9"/>
<circle cx="557.3" cy="791.0" r="1.9"/>
<circle cx="549.2" cy="791.0" r="1.9"/>
<circle cx="539.8" cy="791.7" r="1.9"/>
<circle cx="620.7" cy="791.7" r="1.9"/>
<circle cx="613.5" cy="791.8" r="1.9"/>
<circle cx="607.7" cy="791.3" r="1.9"/>
<circle cx="520.1" cy="791.5" r="1.9"/>
<circle cx="544.1" cy="790.9" r="1.9"/>
<circle cx="608.8" cy="791.7" r="1.9"/>
<circle cx="631.8" cy="791.4" r="1.9"/>
<circle cx="545.1" cy="791.4" r="1.9"/>
<circle cx="574.4" cy="791.8" r="1.9"/>
<circle cx="623.1" cy="791.2" r="1.9"/>
<circle cx="646.0" cy="791.6" r="1.9"/>
<circle cx="545.7" cy="791.8" r="1.9"/>
<circle cx="536.1" cy="791.2" r="1.9"/>
<circle cx="643.0" cy="791.6" r="1.9"/>
<circle cx="573.0" cy="791.4" r="1.9"/>
<circle cx="625.1" cy="791.2" r="1.9"/>
<circle cx="538.9" cy="791.5" r="1.9"/>
<circle cx="563.0" cy="791.8" r="1.9"/>
<circle cx="632.3" cy="791.5" r="1.9"/>
<circle cx="631.0" cy="791.8" r="1.9"/>
<circle cx="546.4" cy="791.4" r="1.9"/>
<circle cx="610.8" cy="791.1" r="1.9"/>
<circle cx="524.6" cy="791.7" r="1.9"/>
<circle cx="626.9" cy="791.2" r="1.9"/>
<circle cx="528.9" cy="791.7" r="1.9"/>
<circle cx="522.2" cy="791.0" r="1.9"/>
<circle cx="595.2" cy="790.7" r="1.9"/>
<circle cx="629.6" cy="791.7" r="1.9"/>
<circle cx="519.1" cy="791.8" r="1.9"/>
<circle cx="607.9" cy="791.7" r="1.9"/>
<circle cx="604.0" cy="791.5" r="1.9"/>
<circle cx="607.7" cy="791.6" r="1.9"/>
<circle cx="554.4" cy="791.4" r="1.9"/>
<circle cx="590.1" cy="791.6" r="1.9"/>
<circle cx="549.1" cy="791.5" r="1.9"/>
<circle cx="554.8" cy="791.9" r="1.9"/>
<circle cx="557.2" cy="791.8" r="1.9"/>
<circle cx="594.1" cy="791.9" r="1.9"/>
<circle cx="627.5" cy="791.6" r="1.9"/>
<circle cx="578.0" cy="791.4" r="1.9"/>
<circle cx="632.9" cy="791.9" r="1.9"/>
<circle cx="615.4" cy="791.3" r="1.9"/>
<circle cx="607.3" cy="791.4" r="1.9"/>
<circle cx="582.1" cy="791.4" r="1.9"/>
<circle cx="582.6" cy="791.6" r="1.9"/>
<circle cx="577.9" cy="791.2" r="1.9"/>
<circle cx="620.0" cy="791.8" r="1.9"/>
<circle cx="633.6" cy="791.9" r="1.9"/>
<circle cx="555.9" cy="791.8" r="1.9"/>
<circle cx="520.6" cy="791.7" r="1.9"/>
<circle cx="553.9" cy="791.2" r="1.9"/>
<circle cx="541.5" cy="791.2" r="1.9"/>
<circle cx="606.2" cy="791.2" r="1.9"/>
<circle cx="607.2" cy="791.9" r="1.9"/>
<circle cx="568.6" cy="791.3" r="1.9"/>
<circle cx="589.0" cy="790.7" r="1.9"/>
<circle cx="636.8" cy="790.8" r="1.9"/>
<circle cx="626.1" cy="791.5" r="1.9"/>
<circle cx="643.9" cy="791.7" r="1.9"/>
<circle cx="587.8" cy="791.4" r="1.9"/>
<circle cx="629.6" cy="791.9" r="1.9"/>
<circle cx="584.3" cy="791.7" r="1.9"/>
<circle cx="646.8" cy="791.9" r="1.9"/>
<circle cx="518.2" cy="791.6" r="1.9"/>
<circle cx="600.4" cy="791.5" r="1.9"/>
<circle cx="530.9" cy="790.7" r="1.9"/>
<circle cx="573.6" cy="791.4" r="1.9"/>
<circle cx="616.5" cy="791.3" r="1.9"/>
<circle cx="539.1" cy="791.5" r="1.9"/>
<circle cx="577.3" cy="791.2" r="1.9"/>
<circle cx="544.9" cy="791.4" r="1.9"/>
<circle cx="575.1" cy="791.4" r="1.9"/>
<circle cx="592.3" cy="791.8" r="1.9"/>
<circle cx="599.3" cy="791.5" r="1.9"/>
<circle cx="602.6" cy="791.9" r="1.9"/>
<circle cx="544.5" cy="791.1" r="1.9"/>
<circle cx="560.2" cy="791.5" r="1.9"/>
<circle cx="642.2" cy="791.7" r="1.9"/>
<circle cx="600.0" cy="791.8" r="1.9"/>
<circle cx="550.8" cy="791.6" r="1.9"/>
<circle cx="616.0" cy="791.1" r="1.9"/>
<circle cx="523.9" cy="791.0" r="1.9"/>
<circle cx="534.9" cy="791.7" r="1.9"/>
<circle cx="542.9" cy="791.6" r="1.9"/>
<circle cx="578.6" cy="791.8" r="1.9"/>
<circle cx="494.3" cy="759.1" r="1.9"/>
<circle cx="509.7" cy="765.0" r="1.9"/>
<circle cx="508.0" cy="783.1" r="1.9"/>
<circle cx="508.0" cy="791.7" r="1.9"/>
<circle cx="526.9" cy="741.3" r="1.9"/>
<circle cx="544.7" cy="736.9" r="1.9"/>
<circle cx="559.4" cy="741.3" r="1.9"/>
<circle cx="522.7" cy="768.4" r="1.9"/>
<circle cx="559.4" cy="764.3" r="1.9"/>
<circle cx="669.1" cy="765.3" r="1.9"/>
<circle cx="669.1" cy="784.9" r="1.9"/>
<circle cx="679.4" cy="780.7" r="1.9"/>
<circle cx="658.2" cy="789.0" r="1.9"/>
<circle cx="652.0" cy="783.0" r="1.9"/>
<circle cx="540.0" cy="760.5" r="1.9"/>
<circle cx="548.5" cy="775.0" r="1.9"/>
<circle cx="566.0" cy="772.0" r="1.9"/>
<circle cx="575.0" cy="779.0" r="1.9"/>
<circle cx="600.0" cy="777.5" r="1.9"/>
<circle cx="612.0" cy="781.0" r="1.9"/>
<circle cx="624.0" cy="785.5" r="1.9"/>
<circle cx="645.0" cy="788.0" r="1.9"/>
<circle cx="536.0" cy="790.0" r="1.9"/>
<circle cx="529.0" cy="791.5" r="1.9"/>
<circle cx="519.0" cy="791.8" r="1.9"/>
<circle cx="514.0" cy="791.8" r="1.9"/>
<circle cx="553.0" cy="781.0" r="1.9"/>
<circle cx="571.0" cy="768.5" r="1.9"/>
<circle cx="640.0" cy="791.0" r="1.9"/>
<circle cx="648.0" cy="791.6" r="1.9"/>
</g>
<circle cx="483.3" cy="604.9" r="2.9" fill="#d23f2e"/>
<circle cx="584.0" cy="791.9" r="2.9" fill="#d23f2e"/>
<circle cx="585.8" cy="791.9" r="2.9" fill="#d23f2e"/>
<circle cx="587.4" cy="791.9" r="2.9" fill="#d23f2e"/>
<rect x="473.3" y="595.3" width="222.00" height="205.10" fill="none" stroke="#505050" stroke-width="1.15"/>
<line x1="470.10" y1="631.02" x2="473.30" y2="631.02" stroke="#505050" stroke-width="1.15" stroke-linecap="butt"/>
<text x="467.10" y="634.92" font-size="10.9" text-anchor="end" fill="#4d4d4d" >7.5</text>
<line x1="470.10" y1="684.65" x2="473.30" y2="684.65" stroke="#505050" stroke-width="1.15" stroke-linecap="butt"/>
<text x="467.10" y="688.55" font-size="10.9" text-anchor="end" fill="#4d4d4d" >5.0</text>
<line x1="470.10" y1="738.27" x2="473.30" y2="738.27" stroke="#505050" stroke-width="1.15" stroke-linecap="butt"/>
<text x="467.10" y="742.17" font-size="10.9" text-anchor="end" fill="#4d4d4d" >2.5</text>
<line x1="470.10" y1="791.90" x2="473.30" y2="791.90" stroke="#505050" stroke-width="1.15" stroke-linecap="butt"/>
<text x="467.10" y="795.80" font-size="10.9" text-anchor="end" fill="#4d4d4d" >0.0</text>
<line x1="516.40" y1="800.40" x2="516.40" y2="803.60" stroke="#505050" stroke-width="1.15" stroke-linecap="butt"/>
<text x="515.80" y="815.50" font-size="10.9" text-anchor="middle" fill="#4d4d4d" >-1</text>
<line x1="584.80" y1="800.40" x2="584.80" y2="803.60" stroke="#505050" stroke-width="1.15" stroke-linecap="butt"/>
<text x="584.80" y="815.50" font-size="10.9" text-anchor="middle" fill="#4d4d4d" >0</text>
<line x1="653.20" y1="800.40" x2="653.20" y2="803.60" stroke="#505050" stroke-width="1.15" stroke-linecap="butt"/>
<text x="653.20" y="815.50" font-size="10.9" text-anchor="middle" fill="#4d4d4d" >1</text>
<text x="584.60" y="830.80" font-size="12.6" text-anchor="middle" fill="#1a1a1a" >log2(Fold Change)</text>
<text x="445.40" y="699.50" font-size="12.6" text-anchor="middle" fill="#1a1a1a" transform="rotate(-90 445.40 699.50)" >-log10(p.adjusted)</text>
<line x1="488.20" y1="611.80" x2="505.20" y2="639.50" stroke="#333" stroke-width="0.7" stroke-linecap="butt"/>
<line x1="562.70" y1="756.00" x2="579.60" y2="783.80" stroke="#333" stroke-width="0.7" stroke-linecap="butt"/>
<line x1="616.90" y1="767.80" x2="594.60" y2="785.00" stroke="#333" stroke-width="0.7" stroke-linecap="butt"/>
<rect x="505.2" y="635.3" width="38.10" height="14.90" rx="2.4" ry="2.4" fill="#fff" stroke="#333" stroke-width="0.8"/>
<text x="524.25" y="646.65" font-size="10.8" text-anchor="middle" fill="#111" >BRD9</text>
<rect x="524.2" y="745.7" width="38.50" height="16.30" rx="2.4" ry="2.4" fill="#fff" stroke="#333" stroke-width="0.8"/>
<text x="543.45" y="757.75" font-size="10.8" text-anchor="middle" fill="#111" >BRD4</text>
<rect x="616.9" y="757.8" width="38.10" height="16.00" rx="2.4" ry="2.4" fill="#fff" stroke="#333" stroke-width="0.8"/>
<text x="635.95" y="769.70" font-size="10.8" text-anchor="middle" fill="#111" >BRD7</text>
</svg></body></html>
